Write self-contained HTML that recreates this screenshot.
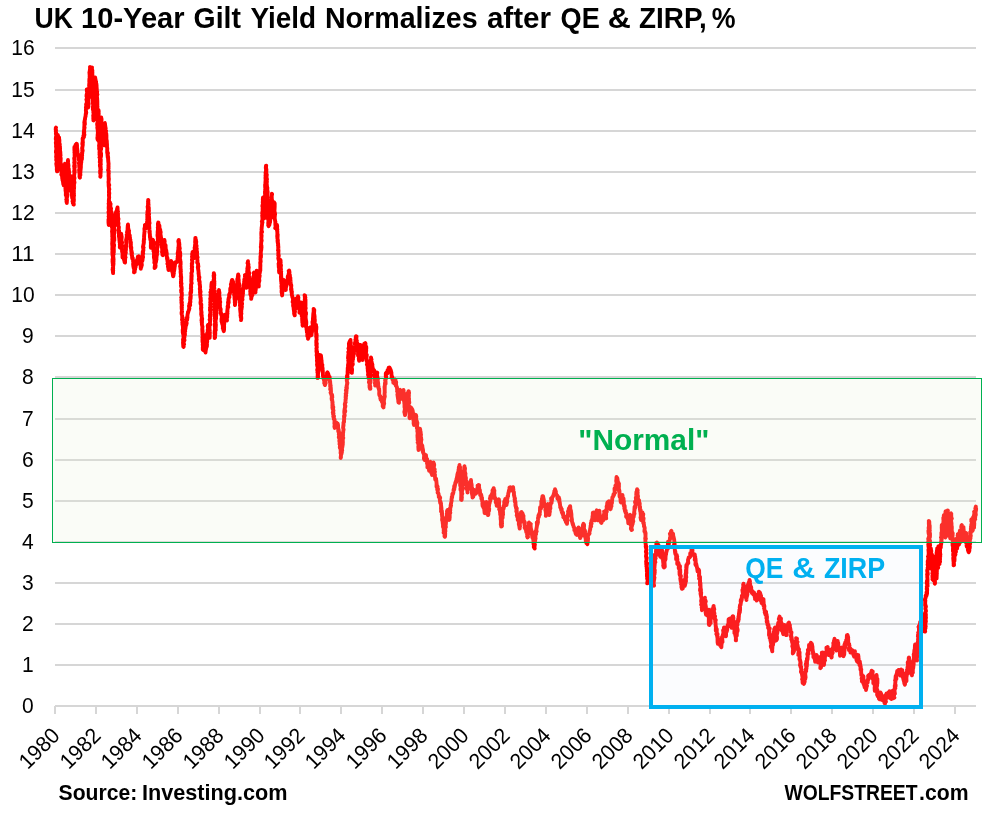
<!DOCTYPE html>
<html lang="en"><head><meta charset="utf-8"><title>UK 10-Year Gilt Yield</title>
<style>html,body{margin:0;padding:0;background:#fff}svg{display:block}</style></head>
<body>
<svg width="984" height="819" viewBox="0 0 984 819">
<rect width="984" height="819" fill="#fff"/>
<g stroke="#D6D6D6" stroke-width="2">
<line x1="55" x2="976" y1="706.00" y2="706.00"/>
<line x1="55" x2="976" y1="665.00" y2="665.00"/>
<line x1="55" x2="976" y1="624.00" y2="624.00"/>
<line x1="55" x2="976" y1="583.00" y2="583.00"/>
<line x1="55" x2="976" y1="542.00" y2="542.00"/>
<line x1="55" x2="976" y1="501.00" y2="501.00"/>
<line x1="55" x2="976" y1="460.00" y2="460.00"/>
<line x1="55" x2="976" y1="419.00" y2="419.00"/>
<line x1="55" x2="976" y1="377.00" y2="377.00"/>
<line x1="55" x2="976" y1="336.00" y2="336.00"/>
<line x1="55" x2="976" y1="295.00" y2="295.00"/>
<line x1="55" x2="976" y1="254.00" y2="254.00"/>
<line x1="55" x2="976" y1="213.00" y2="213.00"/>
<line x1="55" x2="976" y1="172.00" y2="172.00"/>
<line x1="55" x2="976" y1="131.00" y2="131.00"/>
<line x1="55" x2="976" y1="90.00" y2="90.00"/>
<line x1="55" x2="976" y1="48.00" y2="48.00"/>
<line x1="55.00" x2="55.00" y1="706.00" y2="714"/>
<line x1="96.00" x2="96.00" y1="706.00" y2="714"/>
<line x1="137.00" x2="137.00" y1="706.00" y2="714"/>
<line x1="178.00" x2="178.00" y1="706.00" y2="714"/>
<line x1="219.00" x2="219.00" y1="706.00" y2="714"/>
<line x1="260.00" x2="260.00" y1="706.00" y2="714"/>
<line x1="300.00" x2="300.00" y1="706.00" y2="714"/>
<line x1="341.00" x2="341.00" y1="706.00" y2="714"/>
<line x1="382.00" x2="382.00" y1="706.00" y2="714"/>
<line x1="423.00" x2="423.00" y1="706.00" y2="714"/>
<line x1="464.00" x2="464.00" y1="706.00" y2="714"/>
<line x1="505.00" x2="505.00" y1="706.00" y2="714"/>
<line x1="546.00" x2="546.00" y1="706.00" y2="714"/>
<line x1="587.00" x2="587.00" y1="706.00" y2="714"/>
<line x1="628.00" x2="628.00" y1="706.00" y2="714"/>
<line x1="669.00" x2="669.00" y1="706.00" y2="714"/>
<line x1="710.00" x2="710.00" y1="706.00" y2="714"/>
<line x1="750.00" x2="750.00" y1="706.00" y2="714"/>
<line x1="791.00" x2="791.00" y1="706.00" y2="714"/>
<line x1="832.00" x2="832.00" y1="706.00" y2="714"/>
<line x1="873.00" x2="873.00" y1="706.00" y2="714"/>
<line x1="914.00" x2="914.00" y1="706.00" y2="714"/>
<line x1="955.00" x2="955.00" y1="706.00" y2="714"/>
</g>
<path d="M56.0 127.5 L55.8 127.8 L55.7 129.8 L55.9 130.3 L56.0 129.7 L56.0 130.5 L55.8 131.5 L56.3 133.6 L55.9 133.5 L56.4 136.0 L56.0 136.8 L55.8 139.0 L55.9 139.5 L55.8 138.1 L56.3 139.5 L56.2 140.0 L56.0 142.4 L55.8 143.0 L55.9 142.3 L56.1 145.2 L56.2 145.0 L56.0 146.3 L56.3 148.3 L56.2 147.4 L56.4 149.2 L56.0 150.8 L55.9 152.5 L56.4 151.6 L56.2 151.7 L56.3 152.2 L56.3 155.4 L56.1 156.7 L56.3 157.0 L56.2 157.5 L56.5 159.3 L56.4 159.0 L56.2 160.0 L56.4 159.5 L56.7 162.2 L56.3 163.6 L56.6 163.1 L56.5 162.8 L56.3 164.1 L56.8 164.6 L56.5 165.7 L57.0 167.4 L56.8 167.3 L57.2 169.7 L57.2 171.4 L57.0 171.2 L57.0 169.6 L57.3 169.0 L56.8 170.0 L56.9 166.6 L57.1 165.9 L56.9 166.1 L57.1 163.3 L57.2 163.6 L57.3 164.5 L57.3 162.2 L56.9 161.8 L57.4 161.7 L57.5 160.7 L57.2 158.2 L57.4 156.4 L57.0 155.3 L57.1 154.9 L57.0 154.4 L57.1 152.4 L57.3 151.8 L57.7 150.7 L57.2 151.7 L57.3 149.6 L57.2 149.1 L57.8 149.7 L57.5 147.6 L57.2 145.5 L57.4 145.4 L57.3 146.0 L57.9 142.5 L57.3 143.2 L57.3 142.4 L58.0 141.4 L57.8 141.6 L57.6 138.8 L57.9 137.6 L57.9 137.8 L57.5 136.3 L58.1 136.9 L57.8 135.0 L58.4 137.0 L58.8 137.7 L59.0 137.5 L59.1 137.5 L58.8 138.8 L59.1 138.7 L59.4 140.3 L59.3 143.4 L59.8 144.3 L59.4 145.2 L59.4 143.7 L59.4 144.6 L60.0 146.8 L59.8 148.4 L60.1 148.7 L60.0 147.8 L60.0 150.0 L60.2 152.2 L60.1 152.6 L60.3 151.7 L60.4 153.1 L60.2 156.1 L60.6 155.1 L60.1 157.1 L60.1 156.1 L60.6 159.5 L60.7 158.0 L60.6 161.5 L60.6 160.4 L60.3 160.6 L60.7 164.2 L61.0 163.7 L61.0 164.3 L60.6 166.5 L60.7 165.6 L60.9 166.4 L60.9 167.4 L61.2 167.9 L61.0 170.0 L61.1 170.4 L61.6 172.1 L61.7 172.5 L61.6 173.6 L61.3 174.6 L61.6 175.3 L62.2 174.8 L62.1 176.2 L62.3 178.9 L62.4 178.5 L62.5 180.0 L62.9 181.0 L63.0 180.4 L63.0 181.7 L63.3 184.2 L63.7 184.4 L63.8 185.0 L63.8 185.4 L63.9 183.6 L64.0 182.4 L64.0 181.3 L64.3 180.5 L64.3 180.3 L63.9 180.2 L64.5 178.1 L64.0 178.1 L64.2 174.9 L64.1 173.9 L64.5 173.0 L64.7 174.4 L64.6 171.5 L64.3 172.2 L64.9 172.1 L65.0 169.1 L64.7 168.7 L65.0 169.7 L64.7 166.2 L64.7 166.5 L64.8 164.5 L64.6 165.3 L65.0 163.8 L65.0 164.8 L64.9 164.0 L65.1 166.9 L65.4 166.0 L65.5 169.2 L65.0 167.9 L65.4 168.6 L64.9 170.3 L65.5 171.6 L65.1 173.8 L65.6 172.6 L65.5 174.8 L65.0 174.2 L65.3 177.0 L65.7 176.0 L65.6 178.7 L65.7 177.8 L65.7 178.7 L65.4 180.8 L65.8 182.0 L65.3 182.0 L65.4 183.7 L65.4 183.3 L65.4 184.0 L65.5 185.8 L65.5 188.1 L65.5 188.2 L65.4 188.6 L65.8 190.0 L65.5 190.1 L65.9 192.6 L65.9 191.8 L65.8 195.1 L66.1 195.7 L66.4 195.6 L66.3 196.2 L66.7 198.0 L66.6 197.9 L66.6 199.9 L66.4 199.9 L66.3 199.7 L66.8 200.7 L66.8 203.0 L66.5 201.3 L67.0 199.9 L66.9 201.5 L66.7 198.7 L66.9 197.9 L66.9 196.5 L67.3 196.0 L67.0 197.3 L67.3 194.1 L66.9 193.4 L67.0 191.5 L67.1 192.2 L67.1 190.4 L66.9 188.9 L67.1 188.2 L66.8 187.2 L67.0 187.1 L67.2 187.1 L67.4 186.8 L67.5 185.8 L67.2 183.8 L67.1 184.8 L67.4 183.1 L67.6 180.0 L67.5 181.9 L67.6 180.5 L67.5 177.7 L67.7 177.9 L67.7 178.0 L67.8 176.4 L67.7 175.8 L67.3 173.5 L67.5 172.3 L67.9 171.3 L67.8 171.8 L67.8 171.2 L67.4 169.8 L67.9 169.9 L67.8 168.1 L67.5 167.7 L67.6 167.0 L67.7 164.0 L67.7 165.2 L68.2 164.4 L67.8 162.7 L68.1 161.7 L68.1 161.8 L68.0 160.0 L67.8 161.3 L67.9 160.6 L68.0 163.4 L67.9 163.7 L68.1 163.0 L68.5 165.8 L68.3 166.7 L68.4 167.1 L68.3 167.8 L68.4 170.1 L69.0 171.2 L68.7 169.0 L69.1 172.5 L68.7 172.2 L69.2 172.3 L69.0 173.2 L69.0 175.0 L69.1 174.7 L68.9 178.2 L69.2 178.7 L69.4 179.8 L69.6 178.6 L69.0 180.2 L69.4 179.6 L69.3 181.9 L69.4 181.8 L69.8 183.2 L69.8 183.1 L69.4 186.7 L69.9 187.8 L69.7 188.6 L69.8 187.8 L70.0 190.7 L70.0 190.0 L70.0 188.6 L69.8 187.4 L70.4 186.0 L70.6 185.6 L70.2 184.6 L70.2 184.5 L70.8 183.2 L70.8 183.9 L70.9 182.2 L70.7 182.2 L70.4 180.6 L70.8 179.7 L71.0 178.9 L70.6 176.5 L71.0 176.2 L70.8 178.5 L71.0 177.9 L71.3 178.3 L71.0 181.3 L71.1 181.2 L71.2 181.8 L71.1 181.4 L71.7 182.5 L71.2 184.3 L71.8 186.5 L71.3 185.9 L71.3 186.0 L71.3 187.4 L71.5 187.9 L72.0 189.9 L71.7 191.3 L71.8 191.2 L71.7 191.9 L71.7 191.8 L71.7 195.6 L72.0 195.0 L72.2 195.9 L72.1 197.9 L72.2 196.9 L72.5 198.1 L72.9 200.8 L72.5 201.4 L73.1 199.5 L73.1 203.2 L72.9 203.1 L73.7 203.3 L73.5 204.5 L73.8 204.6 L73.4 204.2 L73.3 200.5 L73.7 200.9 L73.8 201.4 L73.9 199.5 L73.7 198.0 L73.9 195.8 L74.0 195.5 L73.6 195.9 L73.6 193.3 L74.0 194.0 L73.6 191.5 L73.9 191.9 L73.7 190.5 L73.6 190.3 L73.9 188.4 L74.1 189.6 L74.0 188.5 L73.9 185.5 L74.2 186.9 L73.8 183.9 L74.3 183.6 L74.0 182.5 L74.5 182.4 L73.9 180.0 L74.2 180.0 L74.2 178.6 L74.1 178.8 L74.5 178.2 L74.1 176.4 L74.2 177.0 L74.1 175.6 L74.5 172.8 L74.7 172.1 L74.2 171.9 L74.3 170.1 L74.7 170.6 L74.3 168.0 L74.8 167.3 L74.1 166.2 L74.4 165.1 L74.7 166.8 L74.8 165.4 L74.4 165.1 L74.8 161.8 L74.2 162.7 L74.5 161.6 L74.4 159.7 L74.2 158.2 L74.5 157.6 L74.3 158.9 L74.4 158.0 L74.9 155.2 L74.6 155.8 L74.6 152.4 L75.0 152.5 L74.6 151.0 L74.4 152.4 L74.9 149.9 L74.4 150.2 L74.4 146.9 L74.8 147.5 L74.9 148.1 L75.7 146.8 L75.6 144.7 L76.2 146.0 L76.5 143.8 L76.8 143.9 L76.5 144.9 L77.0 144.8 L77.0 148.6 L76.7 149.5 L77.1 148.1 L77.5 151.3 L77.1 150.4 L77.4 151.4 L77.5 152.5 L77.7 154.7 L78.5 155.1 L78.8 155.0 L79.0 156.9 L78.7 157.1 L78.8 157.1 L78.6 159.5 L79.1 158.5 L78.7 159.6 L79.1 159.8 L79.4 161.6 L79.5 164.3 L78.9 163.2 L79.2 163.6 L79.2 166.5 L79.2 165.8 L79.4 168.0 L79.6 169.3 L79.1 169.9 L79.3 171.4 L79.4 171.4 L79.3 172.9 L79.4 172.2 L79.9 172.8 L79.5 175.1 L80.0 175.4 L79.5 176.6 L79.8 177.5 L79.9 177.6 L79.7 177.3 L80.2 174.7 L80.4 175.0 L80.1 171.6 L80.1 170.9 L80.4 172.8 L80.4 171.7 L80.5 170.6 L80.8 167.8 L80.5 169.1 L80.9 167.1 L80.8 165.0 L81.0 165.0 L80.9 162.9 L81.3 162.3 L81.2 162.7 L81.4 159.7 L81.4 160.9 L81.5 158.8 L81.9 159.4 L82.0 157.5 L81.8 155.2 L82.1 155.4 L81.8 155.3 L82.3 152.9 L82.0 152.7 L82.5 151.5 L82.3 150.6 L82.2 149.9 L82.7 150.6 L82.1 148.1 L82.2 148.4 L82.7 145.2 L82.7 145.6 L82.8 144.7 L82.3 144.0 L82.6 141.7 L82.9 142.8 L82.7 140.1 L82.7 140.1 L82.6 138.5 L82.8 138.8 L83.4 137.9 L83.4 135.6 L84.0 136.9 L84.0 135.0 L83.8 133.1 L84.4 134.7 L83.8 132.3 L84.1 132.8 L84.3 131.9 L84.0 130.7 L84.1 129.7 L84.6 127.6 L84.2 128.1 L84.4 125.3 L84.4 125.4 L84.4 123.2 L84.9 124.2 L84.7 121.2 L84.3 122.6 L84.4 122.0 L84.8 120.0 L85.0 119.4 L85.0 118.6 L85.3 117.1 L85.6 116.2 L85.6 115.4 L85.9 113.1 L86.0 113.8 L85.9 112.8 L86.3 112.8 L85.9 110.9 L85.9 110.0 L86.1 108.0 L86.2 107.0 L85.9 107.4 L86.0 106.9 L86.5 106.3 L86.1 104.7 L86.3 103.7 L86.2 104.2 L86.8 103.0 L86.8 101.7 L86.9 99.1 L86.9 99.1 L86.4 99.6 L87.0 98.2 L86.6 95.0 L86.5 96.3 L86.7 95.8 L86.6 94.7 L87.2 92.7 L86.8 90.9 L86.8 90.9 L87.0 90.0 L86.8 89.4 L87.4 90.8 L87.5 93.3 L87.5 92.6 L87.4 93.4 L87.3 96.0 L87.5 97.6 L87.8 97.6 L87.9 97.0 L87.6 99.6 L87.6 101.1 L87.8 102.6 L88.0 101.5 L87.7 102.7 L87.7 104.6 L87.9 105.8 L88.5 106.1 L88.3 106.9 L88.2 107.5 L87.9 106.0 L88.1 104.2 L88.3 105.1 L88.7 103.9 L88.3 101.8 L88.2 102.5 L88.5 99.5 L88.5 99.0 L88.7 98.4 L88.5 98.7 L88.7 97.9 L89.1 95.4 L88.6 94.9 L89.0 93.5 L89.1 95.1 L88.8 92.6 L89.1 90.5 L89.0 91.3 L89.1 90.7 L89.3 90.7 L89.5 87.6 L89.2 87.5 L89.3 85.1 L89.1 85.4 L89.5 83.4 L89.4 82.4 L89.2 84.5 L89.5 81.2 L89.6 81.3 L89.3 81.4 L89.4 78.9 L89.8 77.1 L89.8 78.6 L89.9 75.2 L89.6 76.7 L89.7 75.8 L89.5 73.3 L89.4 72.4 L90.0 71.8 L90.1 72.1 L89.7 71.2 L89.9 69.8 L90.0 69.7 L90.1 67.1 L90.0 67.0 L90.8 68.7 L92.0 67.5 L91.7 69.6 L91.9 68.6 L92.4 71.0 L92.0 72.0 L92.0 73.3 L92.4 72.2 L92.3 74.4 L92.5 75.4 L92.5 75.7 L92.5 77.3 L92.4 77.4 L92.2 78.8 L92.4 78.6 L92.7 79.0 L92.1 80.2 L92.7 81.0 L92.2 82.7 L92.2 82.6 L92.5 85.0 L92.6 86.5 L92.7 87.5 L92.6 86.3 L92.8 88.2 L92.9 90.6 L92.9 89.1 L93.0 92.7 L92.5 91.0 L92.4 92.0 L93.0 95.2 L93.0 95.4 L92.7 96.3 L92.6 95.6 L92.7 98.6 L92.8 98.1 L92.7 98.0 L93.1 99.8 L92.8 101.0 L93.0 103.8 L93.1 104.3 L93.0 102.6 L93.3 104.8 L93.2 105.4 L92.9 107.0 L92.9 108.9 L92.9 109.7 L93.0 108.0 L93.6 111.3 L93.2 109.8 L93.5 112.3 L93.3 112.2 L93.6 113.6 L93.7 114.3 L93.2 115.3 L93.4 117.5 L93.5 116.5 L93.7 117.3 L93.7 120.2 L93.5 120.5 L93.4 120.0 L93.5 118.4 L93.3 119.1 L93.3 118.2 L93.5 115.1 L93.7 116.4 L94.0 113.8 L93.7 112.5 L93.9 112.5 L93.9 112.3 L93.7 110.1 L94.1 108.6 L94.1 109.4 L93.9 106.9 L94.0 107.9 L93.9 105.0 L93.8 106.5 L93.9 103.4 L94.3 104.1 L93.8 101.5 L94.0 100.9 L93.9 100.8 L94.0 99.3 L94.4 100.5 L94.6 96.8 L94.2 95.9 L94.5 97.8 L94.3 96.1 L94.4 93.5 L94.2 92.3 L94.1 92.3 L94.6 91.5 L94.5 91.5 L94.5 90.0 L94.5 89.5 L94.7 87.1 L94.8 87.0 L94.7 87.7 L94.9 85.8 L94.6 84.4 L95.1 84.5 L95.1 83.7 L95.1 83.1 L95.0 81.5 L95.2 79.6 L95.1 78.0 L95.3 79.3 L95.2 77.5 L95.2 78.9 L95.5 79.1 L95.6 80.7 L96.1 81.8 L96.0 81.2 L95.9 84.0 L96.5 84.0 L96.2 85.0 L96.4 84.4 L96.6 85.7 L96.5 89.0 L96.6 87.2 L96.8 89.5 L96.8 90.3 L96.8 92.2 L97.2 91.7 L97.1 91.9 L97.0 93.8 L97.2 94.3 L97.4 94.4 L96.7 96.0 L97.0 96.7 L97.0 96.7 L97.2 98.9 L96.9 99.6 L97.3 100.1 L97.2 103.3 L97.4 101.9 L97.0 103.4 L97.4 103.4 L97.3 106.5 L97.2 106.3 L97.5 106.5 L97.3 107.8 L97.5 110.2 L97.1 110.0 L97.0 111.1 L97.2 113.0 L97.1 113.9 L97.2 113.3 L97.1 114.4 L97.5 113.9 L97.2 115.7 L97.4 116.7 L97.5 118.0 L97.3 119.7 L97.7 121.4 L97.7 119.5 L97.7 123.2 L97.7 121.6 L97.1 124.1 L97.8 123.0 L97.3 126.0 L97.3 125.1 L97.7 126.5 L97.3 127.7 L97.8 130.4 L97.9 129.0 L97.8 131.3 L97.9 132.4 L97.9 133.7 L97.8 132.7 L97.8 134.7 L97.9 135.3 L97.5 136.5 L97.5 136.4 L97.4 138.2 L97.5 139.0 L97.8 140.0 L97.8 139.1 L98.0 138.3 L98.1 135.7 L97.9 136.3 L98.1 136.0 L97.8 134.1 L97.6 135.1 L98.0 133.2 L98.0 130.3 L98.3 131.5 L98.3 129.5 L98.0 129.1 L97.7 129.5 L98.2 128.0 L98.3 125.8 L98.1 125.0 L98.3 124.6 L98.1 122.7 L98.2 122.5 L98.1 122.9 L98.2 122.0 L98.1 120.0 L98.6 119.1 L98.5 118.7 L98.2 116.7 L98.4 115.7 L98.6 115.9 L98.5 113.1 L98.4 114.9 L98.3 111.3 L98.2 110.2 L98.6 112.3 L98.5 110.0 L98.7 111.4 L98.6 113.1 L98.7 113.1 L98.7 114.2 L98.4 115.1 L98.6 116.0 L98.4 117.2 L98.3 116.2 L99.0 119.0 L98.6 119.5 L98.9 121.0 L98.6 121.0 L98.7 121.1 L98.7 122.1 L99.1 124.0 L98.9 123.0 L98.6 123.9 L98.9 127.3 L98.9 128.5 L98.8 126.5 L99.3 129.3 L99.0 131.4 L98.7 130.5 L98.8 132.2 L98.7 131.5 L99.2 131.9 L99.4 133.2 L99.4 134.0 L98.8 135.0 L99.0 137.8 L98.9 138.8 L99.4 137.5 L99.5 140.5 L98.9 141.5 L99.4 142.1 L99.6 142.4 L99.6 142.7 L99.0 145.1 L99.4 143.7 L99.1 147.2 L99.5 146.5 L99.6 146.9 L99.1 148.8 L99.5 149.4 L99.6 150.5 L99.7 150.5 L99.5 152.5 L99.6 153.0 L99.5 154.7 L99.8 154.9 L99.9 157.6 L99.5 157.3 L100.1 156.6 L100.0 159.5 L99.9 159.3 L100.1 162.2 L99.8 162.0 L100.2 162.3 L100.1 163.1 L100.3 164.7 L99.9 166.3 L99.9 164.6 L100.2 166.9 L100.4 169.0 L100.4 167.5 L100.5 170.9 L100.1 171.0 L100.5 172.8 L100.6 173.2 L100.1 173.0 L100.6 174.6 L100.6 174.4 L100.5 176.2 L100.3 176.7 L100.6 174.8 L100.3 173.4 L100.7 171.8 L100.5 172.7 L100.8 169.5 L100.4 170.8 L100.9 169.3 L100.6 169.3 L100.7 167.1 L100.4 165.3 L100.8 164.4 L100.7 164.1 L100.7 163.3 L100.4 161.6 L100.6 163.4 L100.8 159.6 L100.5 160.9 L100.6 159.4 L100.4 158.2 L101.1 155.8 L100.7 157.5 L100.6 155.7 L100.7 155.5 L101.0 155.1 L101.1 153.8 L100.5 151.1 L100.6 150.0 L100.5 148.7 L101.1 149.3 L101.2 148.1 L100.6 148.6 L100.8 146.7 L101.2 144.3 L100.9 143.8 L101.2 144.2 L100.9 143.4 L100.7 141.7 L101.3 142.5 L100.6 139.2 L100.9 138.4 L101.3 139.6 L100.7 138.5 L101.2 137.4 L101.4 136.0 L100.8 133.3 L101.3 134.6 L100.9 133.4 L101.2 132.3 L101.0 129.8 L100.8 129.4 L100.9 129.2 L100.9 127.5 L100.8 128.0 L100.9 127.2 L101.4 124.1 L101.5 123.8 L101.4 125.0 L101.1 121.8 L101.5 120.7 L101.3 122.2 L101.1 120.1 L101.2 120.3 L101.0 118.8 L101.2 117.5 L101.0 117.5 L101.4 120.0 L101.6 119.1 L101.3 120.4 L101.3 120.9 L101.4 124.0 L101.5 122.7 L101.9 124.1 L101.9 124.4 L101.9 125.1 L101.5 127.9 L101.6 128.2 L101.6 128.4 L102.2 129.7 L102.1 132.6 L101.7 130.6 L101.6 134.1 L101.8 134.4 L101.7 136.1 L101.9 136.5 L101.7 135.2 L102.1 138.4 L102.1 137.2 L102.0 140.4 L102.2 140.0 L102.0 139.3 L102.5 137.2 L102.2 138.0 L102.1 135.1 L102.5 135.9 L102.3 134.0 L102.7 134.2 L102.7 133.9 L102.3 131.1 L102.6 131.9 L102.4 131.0 L102.7 130.4 L103.1 129.6 L102.5 127.6 L102.9 128.1 L102.8 127.1 L103.0 125.0 L103.3 124.9 L102.9 126.4 L103.2 127.3 L103.2 127.1 L103.2 129.4 L103.4 129.2 L103.6 132.4 L103.5 131.7 L103.6 132.8 L103.7 132.7 L103.5 136.5 L103.6 136.0 L103.3 136.9 L103.4 139.2 L103.4 137.6 L103.9 138.7 L103.5 139.0 L103.6 142.0 L103.9 140.7 L103.9 143.4 L103.7 144.7 L104.0 145.0 L104.2 145.3 L103.8 141.8 L104.1 142.3 L103.9 140.8 L104.0 140.3 L104.5 140.0 L104.3 137.7 L104.1 138.7 L104.7 138.1 L104.4 135.8 L104.5 136.3 L104.8 134.0 L104.4 134.4 L104.5 131.8 L105.0 131.5 L105.0 131.8 L105.0 131.0 L104.8 127.6 L105.1 129.6 L104.8 126.5 L104.8 126.8 L104.6 125.6 L105.0 124.4 L105.0 123.8 L104.8 123.1 L105.4 127.0 L105.4 127.7 L105.7 128.2 L105.2 129.3 L105.4 129.4 L105.5 130.4 L106.1 130.8 L105.7 131.9 L105.9 132.5 L105.9 134.7 L106.3 133.5 L106.2 135.0 L106.4 134.7 L106.4 138.2 L106.4 136.9 L106.2 138.6 L106.3 138.2 L106.5 139.6 L106.5 140.5 L106.8 140.7 L106.9 144.0 L106.9 144.0 L107.0 143.7 L107.0 145.5 L107.0 146.8 L106.9 146.7 L107.1 147.3 L107.3 148.7 L107.2 150.0 L107.2 149.3 L107.2 153.0 L107.5 152.9 L108.0 152.9 L107.9 153.9 L107.5 154.4 L107.8 157.6 L107.9 155.9 L108.2 158.0 L108.0 157.8 L108.2 160.0 L108.4 162.4 L108.2 160.7 L108.4 162.3 L108.6 164.0 L108.4 165.6 L108.6 166.2 L108.4 167.2 L108.6 168.2 L108.2 169.5 L108.1 170.3 L108.6 170.9 L108.8 170.9 L108.5 172.0 L108.8 173.6 L108.5 174.0 L108.6 174.4 L108.5 176.2 L108.7 176.0 L108.6 176.9 L108.9 179.1 L108.7 179.1 L108.6 179.0 L108.8 179.8 L108.5 182.1 L108.7 184.1 L109.1 184.7 L108.7 186.0 L109.2 185.2 L108.6 184.8 L108.9 187.5 L109.1 189.5 L109.3 189.2 L109.0 190.0 L109.0 191.0 L108.9 192.4 L109.0 192.2 L109.3 193.1 L109.0 195.1 L108.9 194.1 L109.0 196.0 L109.2 197.4 L108.9 199.6 L109.0 198.8 L108.8 201.5 L109.1 200.9 L108.8 200.6 L109.1 204.1 L108.6 203.5 L109.0 205.6 L109.2 206.3 L108.8 207.4 L108.7 206.0 L108.9 208.0 L108.6 207.8 L108.9 210.2 L109.2 210.2 L108.5 212.0 L109.0 212.2 L109.0 212.7 L108.7 212.6 L108.9 216.2 L108.6 216.6 L108.8 216.9 L108.9 217.1 L109.1 218.8 L108.7 219.9 L108.5 219.3 L108.5 222.2 L108.5 221.0 L109.0 223.3 L109.0 224.5 L108.8 225.0 L108.5 222.7 L108.7 224.1 L108.8 223.0 L108.8 220.3 L109.3 219.2 L108.9 219.9 L109.0 218.5 L109.4 216.4 L109.5 217.2 L109.3 215.8 L109.0 214.3 L109.6 215.6 L109.7 212.7 L109.3 213.4 L109.8 211.8 L109.9 210.6 L109.5 208.9 L109.5 209.5 L110.0 207.3 L110.0 207.0 L109.6 205.3 L109.6 204.7 L109.8 205.8 L109.7 203.6 L110.0 202.5 L110.0 203.5 L109.9 204.0 L110.6 203.9 L110.3 205.6 L110.4 205.9 L110.4 207.0 L110.7 209.2 L111.1 208.5 L110.9 209.1 L110.9 212.4 L111.5 212.0 L111.2 214.1 L111.7 213.5 L112.0 214.5 L112.1 214.8 L111.7 216.6 L112.0 217.5 L111.8 218.3 L111.9 220.0 L112.1 221.5 L111.9 220.7 L111.9 222.4 L111.8 224.1 L112.1 223.9 L112.3 224.0 L112.3 225.2 L112.0 226.7 L111.9 227.1 L112.4 227.3 L112.3 228.6 L112.3 228.9 L112.2 230.6 L112.0 231.3 L112.1 232.2 L112.4 232.5 L112.2 233.9 L112.5 236.8 L112.6 237.7 L112.2 236.2 L112.5 236.7 L112.3 239.7 L112.5 239.8 L112.3 241.6 L112.3 243.0 L112.2 243.2 L112.8 242.4 L112.6 245.3 L112.2 244.0 L112.3 245.3 L112.5 246.6 L112.4 246.7 L112.3 249.5 L112.6 251.0 L112.4 251.6 L112.8 251.6 L112.3 252.2 L112.8 254.6 L112.4 253.8 L112.8 256.5 L112.5 254.8 L112.9 255.9 L113.0 257.1 L112.5 259.8 L112.7 260.5 L113.0 261.6 L112.5 261.0 L112.8 264.0 L113.0 264.9 L113.1 265.1 L112.8 265.7 L113.0 264.8 L112.9 266.9 L112.7 269.4 L112.6 269.7 L113.2 270.4 L113.0 269.9 L113.1 273.1 L113.0 272.5 L112.9 271.7 L113.0 269.3 L112.9 269.5 L112.8 268.3 L113.2 268.6 L113.0 266.2 L113.1 266.2 L113.1 266.7 L113.5 263.7 L113.3 262.3 L113.5 262.0 L113.5 261.8 L113.5 259.7 L113.3 260.1 L113.6 259.8 L113.3 256.8 L113.2 256.7 L113.3 254.8 L113.6 254.3 L113.2 254.2 L113.5 252.9 L113.3 252.1 L113.3 250.3 L113.8 252.4 L113.8 248.5 L113.7 250.5 L113.7 246.8 L113.5 246.9 L113.4 246.4 L113.9 246.7 L114.1 244.8 L113.7 244.0 L113.6 241.8 L114.1 240.2 L113.8 241.9 L114.0 238.9 L114.3 240.1 L114.2 237.0 L114.2 238.3 L113.8 235.7 L113.9 236.4 L114.1 234.1 L114.3 233.2 L113.8 231.8 L114.3 232.0 L114.3 231.9 L114.5 231.3 L114.2 229.0 L114.1 227.1 L114.0 227.5 L114.1 226.9 L114.7 225.2 L114.0 223.2 L114.2 223.4 L114.1 223.4 L114.7 222.9 L114.4 221.8 L114.5 220.0 L114.8 218.5 L114.8 218.4 L115.0 217.0 L115.5 217.2 L115.2 217.1 L115.6 214.3 L115.8 214.4 L115.8 212.4 L116.2 212.5 L116.4 211.1 L117.0 212.3 L117.2 211.2 L117.2 210.6 L117.0 209.3 L117.5 207.5 L117.6 209.0 L117.6 208.7 L117.6 211.6 L117.6 211.6 L118.0 211.5 L117.6 211.4 L117.8 214.4 L118.0 213.4 L118.0 215.2 L118.0 216.2 L118.0 217.6 L117.9 217.1 L118.2 220.4 L118.5 218.9 L118.0 220.2 L118.1 222.0 L118.4 222.8 L118.5 222.8 L118.5 223.4 L118.2 225.8 L118.3 226.1 L118.9 227.1 L118.8 228.4 L118.4 229.9 L118.8 230.0 L119.0 232.5 L119.1 230.6 L118.7 232.4 L119.1 235.2 L118.8 235.5 L118.8 236.4 L119.1 235.6 L119.3 235.8 L119.2 237.4 L119.4 239.9 L119.6 241.4 L119.6 242.2 L119.9 243.3 L119.8 241.8 L119.9 243.3 L120.0 245.3 L119.8 244.5 L120.2 247.3 L120.0 247.5 L119.8 247.3 L119.9 246.0 L120.5 244.9 L120.6 242.6 L120.2 243.5 L120.5 241.0 L120.6 242.2 L120.3 238.9 L121.0 238.0 L120.9 237.3 L121.0 236.7 L120.8 236.1 L121.1 236.8 L121.4 235.3 L121.2 233.8 L121.0 236.1 L121.1 235.0 L121.7 236.4 L121.1 238.3 L121.7 237.2 L121.5 239.6 L121.4 239.9 L121.6 241.9 L121.8 242.9 L121.7 241.2 L122.1 242.6 L121.6 244.7 L121.8 244.2 L122.0 246.0 L121.9 246.7 L122.1 246.3 L121.8 248.3 L122.5 249.6 L122.0 249.1 L122.1 252.0 L122.3 251.6 L122.4 252.5 L122.8 254.2 L122.5 255.0 L122.5 257.4 L123.2 256.9 L123.5 258.7 L123.7 258.8 L123.7 258.7 L124.4 260.9 L124.6 262.2 L124.9 261.0 L125.0 262.5 L125.1 262.4 L125.0 261.1 L125.1 259.9 L125.1 257.5 L125.6 257.4 L125.2 257.0 L125.2 255.3 L125.2 254.7 L125.8 252.7 L125.5 253.3 L125.5 252.7 L125.4 250.5 L125.6 250.0 L125.8 250.5 L125.7 250.3 L126.0 249.3 L125.7 245.7 L126.4 246.4 L126.3 244.8 L126.4 244.1 L126.2 242.0 L126.2 242.5 L126.2 242.9 L126.1 240.0 L126.4 238.8 L126.4 239.7 L126.5 237.8 L127.0 237.6 L126.7 236.8 L127.3 236.2 L126.7 234.9 L127.4 234.7 L127.0 232.4 L127.3 231.0 L127.5 232.3 L127.3 231.6 L127.7 228.8 L127.6 229.0 L127.6 228.2 L127.8 225.3 L128.0 224.4 L128.0 225.0 L128.1 225.4 L128.1 227.1 L128.1 227.6 L128.6 229.9 L128.4 231.0 L129.0 230.7 L128.7 230.7 L128.9 231.0 L129.0 233.9 L129.4 234.9 L129.6 234.9 L129.8 235.9 L129.7 236.9 L130.0 237.5 L129.9 239.1 L130.4 239.9 L130.2 241.0 L130.7 241.9 L130.3 241.7 L130.9 242.8 L130.4 242.4 L130.9 244.4 L130.8 246.3 L130.8 247.8 L130.8 247.9 L130.9 246.5 L131.3 247.5 L131.2 249.9 L131.4 252.0 L131.4 250.4 L132.0 253.1 L131.5 252.2 L131.7 255.0 L132.0 255.0 L132.1 257.4 L132.1 257.2 L132.3 258.6 L132.8 258.0 L132.8 258.2 L132.8 259.0 L133.1 260.9 L133.0 260.7 L133.4 262.8 L133.3 265.4 L133.1 264.0 L133.4 265.0 L133.3 265.8 L133.8 268.4 L134.1 267.8 L133.9 268.4 L134.3 269.1 L134.0 272.3 L134.2 272.0 L134.7 271.9 L134.5 269.6 L135.1 269.4 L135.1 267.5 L135.1 268.0 L135.6 267.1 L135.8 265.0 L135.9 264.6 L135.7 265.4 L136.4 264.5 L136.2 262.5 L136.3 261.0 L137.3 259.5 L137.6 258.3 L137.8 257.8 L137.8 256.7 L138.1 257.7 L138.8 256.2 L139.2 256.6 L139.3 258.7 L138.9 260.5 L139.5 259.0 L139.1 261.3 L139.4 261.6 L139.5 262.3 L140.2 261.9 L140.3 263.7 L140.2 264.0 L140.3 264.9 L140.6 265.9 L140.8 266.7 L140.8 268.8 L140.7 267.9 L141.1 266.5 L141.2 267.5 L141.8 264.3 L141.8 265.6 L141.6 262.8 L141.7 261.9 L142.2 260.3 L142.4 260.6 L142.5 260.0 L142.2 258.7 L142.7 258.8 L142.7 257.4 L143.1 257.0 L142.9 256.7 L142.7 254.2 L143.2 253.4 L142.9 252.4 L142.8 251.5 L142.7 252.5 L143.4 250.3 L143.3 248.3 L143.1 247.8 L143.0 246.3 L143.6 247.5 L143.1 246.8 L143.3 245.2 L143.6 244.1 L143.9 242.1 L143.8 240.2 L143.7 242.0 L143.8 240.0 L144.2 239.4 L144.0 237.4 L143.9 238.1 L144.0 237.1 L144.2 235.7 L144.1 235.3 L144.3 234.2 L144.4 232.1 L144.7 231.3 L144.6 231.1 L144.5 230.4 L144.4 228.5 L144.7 229.9 L144.8 227.7 L144.7 227.8 L145.2 224.8 L145.0 225.0 L145.6 225.5 L146.3 227.3 L146.2 228.1 L147.0 227.5 L147.3 226.2 L146.8 226.7 L146.9 223.7 L147.1 222.7 L147.2 224.0 L147.0 222.0 L147.6 221.0 L147.3 221.0 L147.6 219.4 L147.2 219.5 L147.4 218.3 L147.3 216.9 L147.4 215.6 L147.2 214.7 L147.7 213.2 L147.4 211.9 L147.5 213.1 L147.5 211.0 L147.5 211.7 L148.1 210.2 L147.8 207.9 L148.0 208.9 L147.6 206.7 L147.9 206.0 L147.9 206.0 L148.2 204.1 L148.0 204.5 L148.2 202.3 L148.0 203.1 L148.4 202.4 L148.2 200.0 L148.4 200.5 L148.0 201.3 L148.3 203.5 L148.4 203.7 L148.6 205.8 L148.5 203.9 L148.5 206.2 L148.5 208.4 L148.9 208.1 L148.6 208.9 L148.9 210.0 L148.9 211.5 L148.4 211.5 L148.8 213.3 L149.0 214.5 L148.7 213.3 L149.1 214.1 L148.6 215.1 L149.0 218.1 L149.1 216.8 L149.0 219.8 L149.2 218.6 L149.2 220.6 L149.4 223.4 L148.9 223.9 L149.2 223.1 L149.6 223.0 L149.1 224.7 L149.2 225.8 L149.4 228.4 L149.4 228.2 L149.3 227.7 L149.5 230.0 L149.8 232.0 L149.5 232.9 L149.4 231.7 L149.8 233.6 L149.9 234.3 L149.9 235.5 L149.9 237.1 L150.2 238.3 L150.2 236.4 L150.3 238.9 L150.3 239.8 L150.8 239.8 L150.8 240.7 L150.8 243.2 L151.1 243.0 L151.2 243.8 L150.9 243.5 L150.8 246.2 L150.9 247.8 L151.2 247.5 L151.2 247.0 L151.7 247.2 L151.8 246.0 L152.2 244.7 L152.0 242.7 L152.2 243.6 L152.4 243.0 L152.5 239.6 L153.0 240.0 L153.4 241.8 L153.2 241.5 L153.5 241.9 L153.0 244.1 L153.5 243.0 L153.6 243.9 L153.3 245.5 L153.4 247.4 L153.3 248.2 L153.5 250.2 L153.5 250.9 L154.1 251.6 L153.5 251.2 L154.0 252.0 L154.0 252.4 L154.0 252.9 L154.0 255.8 L153.9 256.5 L154.0 257.9 L154.6 259.1 L154.4 260.0 L154.3 258.8 L154.5 261.2 L154.3 262.7 L154.9 262.1 L154.7 263.4 L154.5 262.6 L155.1 264.1 L154.7 266.8 L154.6 268.0 L155.0 267.5 L155.5 266.9 L155.6 265.2 L155.1 265.3 L155.5 263.4 L155.9 262.2 L156.1 261.1 L155.7 260.6 L155.9 260.5 L156.5 259.6 L156.4 258.9 L156.6 256.2 L156.8 255.5 L156.9 254.7 L157.0 255.0 L156.9 253.6 L156.8 253.7 L157.4 251.2 L157.4 250.9 L157.2 251.7 L156.9 248.5 L157.0 249.9 L157.3 247.8 L157.3 245.7 L157.4 244.9 L157.3 245.1 L157.3 243.2 L157.2 242.3 L157.7 241.5 L157.8 241.5 L157.9 239.0 L157.8 239.6 L157.8 239.0 L157.8 237.0 L157.5 235.8 L157.7 234.5 L157.6 235.2 L157.5 235.5 L157.6 233.6 L158.1 232.7 L157.6 232.2 L158.0 229.8 L157.7 231.3 L158.1 229.2 L157.9 228.9 L158.0 228.0 L157.8 227.5 L158.1 226.6 L157.9 224.0 L158.4 222.6 L158.2 222.5 L158.2 224.0 L158.4 223.8 L158.7 224.3 L159.4 225.6 L159.5 228.6 L159.5 227.9 L160.0 229.8 L160.0 230.6 L160.2 229.7 L160.5 232.7 L160.5 232.5 L160.7 232.1 L160.4 233.8 L160.9 236.7 L160.6 236.9 L161.2 238.1 L161.2 239.2 L161.3 239.9 L161.1 240.0 L161.4 241.6 L161.2 242.7 L161.4 243.9 L161.2 244.7 L161.7 245.7 L161.9 244.3 L161.5 245.1 L161.6 246.8 L162.1 247.8 L162.1 249.3 L162.2 249.3 L162.2 251.4 L162.4 252.8 L162.0 252.0 L162.6 253.7 L162.5 253.6 L162.5 255.0 L162.8 255.2 L162.7 251.6 L162.5 250.8 L162.9 252.5 L163.0 250.9 L162.9 249.2 L163.5 248.4 L163.2 248.3 L163.3 245.7 L163.5 246.8 L163.8 245.8 L163.9 243.2 L164.1 242.1 L163.8 241.6 L163.9 243.2 L164.4 240.0 L164.2 240.0 L164.7 241.2 L164.5 241.4 L164.7 244.1 L164.6 245.1 L164.7 245.5 L164.8 245.4 L165.6 245.2 L165.6 247.0 L165.4 247.2 L165.7 247.7 L165.8 251.0 L166.3 250.3 L166.2 252.9 L166.2 252.5 L166.5 252.0 L166.8 254.1 L166.7 254.7 L166.7 256.4 L167.0 256.9 L167.0 259.1 L167.5 258.2 L167.5 258.1 L167.4 261.0 L167.7 261.1 L167.8 263.4 L167.4 263.8 L167.6 263.3 L168.3 266.2 L168.2 264.5 L167.9 266.7 L168.5 267.0 L168.3 268.7 L168.5 270.0 L168.8 270.0 L168.9 269.3 L169.4 269.8 L169.6 268.4 L170.1 266.1 L170.1 266.3 L170.0 264.0 L170.7 264.1 L170.6 263.9 L171.0 261.0 L171.2 261.2 L171.1 263.3 L171.3 263.8 L171.3 263.3 L171.6 264.1 L172.2 267.2 L171.8 265.5 L171.9 268.8 L172.1 267.7 L172.1 267.9 L172.3 269.7 L172.4 272.4 L172.9 270.9 L173.0 272.6 L173.1 274.0 L172.8 273.9 L173.1 276.2 L173.2 276.2 L173.5 275.5 L173.3 275.2 L173.9 273.1 L173.6 272.7 L173.7 272.1 L173.6 271.6 L174.1 270.9 L174.5 268.4 L174.1 267.2 L174.5 265.7 L174.7 267.0 L174.9 265.0 L174.6 263.1 L175.2 263.9 L175.0 262.5 L175.8 262.3 L176.2 262.1 L177.0 262.0 L177.5 260.0 L177.5 258.6 L177.5 259.2 L177.9 256.3 L177.7 256.5 L178.1 256.0 L177.7 253.4 L177.8 252.2 L178.2 252.7 L178.1 252.4 L178.1 250.6 L178.4 249.3 L178.4 250.0 L178.4 247.1 L178.3 248.1 L178.6 247.6 L178.6 246.2 L178.7 245.0 L178.7 242.5 L178.7 243.4 L178.3 241.1 L178.9 241.2 L178.8 240.0 L178.6 240.2 L178.6 240.9 L179.3 243.2 L178.9 244.5 L178.8 245.0 L179.1 246.4 L179.4 244.6 L179.2 245.9 L179.4 246.5 L179.7 249.0 L179.8 248.2 L179.4 249.3 L179.6 251.9 L179.8 251.8 L180.1 252.3 L180.2 253.2 L180.0 255.0 L180.1 256.9 L180.3 255.3 L180.1 256.2 L179.8 258.4 L180.3 260.0 L180.2 260.7 L180.3 261.4 L180.6 261.4 L180.6 264.8 L180.3 265.6 L180.1 266.6 L180.2 265.8 L180.6 266.7 L180.5 268.4 L180.4 268.1 L180.5 269.2 L180.8 269.5 L180.6 271.4 L180.9 271.3 L180.6 272.2 L180.9 274.3 L181.0 276.5 L181.2 277.3 L181.1 277.5 L180.7 276.3 L181.2 277.1 L181.1 280.3 L181.0 279.7 L181.2 280.3 L181.0 283.8 L180.9 281.7 L181.5 283.6 L181.2 285.0 L181.2 286.9 L181.0 285.5 L181.5 286.6 L181.7 288.5 L181.6 290.9 L181.6 290.4 L181.1 290.2 L181.4 292.5 L181.3 292.3 L181.8 292.6 L181.8 295.7 L181.5 297.4 L181.5 297.6 L181.8 298.7 L181.2 297.5 L181.7 298.6 L181.3 300.1 L181.9 302.4 L181.4 302.2 L181.7 304.4 L181.6 302.7 L182.0 305.4 L181.9 305.9 L181.6 305.9 L181.7 309.0 L181.9 307.4 L181.7 308.3 L181.9 310.3 L182.1 311.8 L181.6 312.1 L181.6 313.9 L181.9 314.0 L182.0 315.0 L182.2 316.4 L182.2 315.9 L182.2 318.3 L182.5 317.4 L182.0 319.7 L182.7 319.5 L182.3 320.3 L182.7 323.0 L182.7 323.4 L182.3 322.3 L182.9 326.2 L182.4 324.1 L183.1 325.6 L182.9 326.5 L183.0 329.6 L182.8 330.5 L183.0 330.0 L182.7 329.8 L182.8 332.6 L183.2 334.2 L183.3 332.6 L183.1 333.4 L183.4 334.1 L183.5 337.5 L183.5 335.6 L183.5 338.2 L183.3 339.0 L183.5 340.1 L183.0 339.4 L183.2 341.8 L183.0 342.2 L183.1 344.2 L183.6 345.4 L183.2 345.1 L183.3 346.6 L183.5 347.0 L183.3 345.9 L183.7 346.7 L183.5 343.8 L184.1 344.2 L183.6 343.6 L183.8 341.2 L183.8 341.6 L184.5 340.2 L183.9 339.8 L184.0 336.7 L184.4 337.8 L184.4 336.3 L184.6 335.1 L184.9 334.9 L184.9 334.3 L185.0 334.0 L184.5 332.5 L185.2 331.5 L185.0 330.0 L185.4 328.9 L185.6 327.2 L185.6 327.2 L185.4 325.7 L185.6 325.1 L185.8 323.4 L186.1 325.4 L186.4 324.3 L186.7 323.1 L186.3 322.0 L186.6 319.5 L186.6 317.9 L187.2 319.8 L187.2 317.1 L187.5 317.6 L187.4 316.8 L187.5 315.0 L187.9 312.9 L188.0 312.7 L188.1 312.0 L188.0 313.0 L188.6 310.8 L189.0 309.9 L189.1 308.6 L189.4 308.7 L189.0 305.9 L189.7 305.7 L189.4 303.9 L190.2 305.3 L190.0 303.8 L190.0 301.8 L190.3 302.5 L190.4 301.8 L190.1 299.3 L190.5 297.7 L190.2 297.4 L190.6 298.9 L190.7 296.8 L190.8 295.9 L190.4 294.1 L190.4 292.4 L190.6 292.5 L190.9 290.8 L191.1 292.6 L191.2 289.5 L190.8 288.3 L191.1 287.8 L191.2 287.5 L191.2 287.2 L191.0 286.4 L191.2 286.2 L191.0 285.0 L191.2 284.1 L191.7 283.3 L191.3 281.8 L191.3 278.8 L191.3 280.7 L191.6 279.0 L191.4 278.1 L191.4 275.6 L191.6 277.4 L191.7 275.4 L191.4 273.2 L192.0 271.6 L192.1 271.1 L192.0 270.9 L192.1 269.3 L191.8 268.8 L191.7 268.7 L192.2 267.0 L191.9 266.2 L191.8 266.8 L191.9 264.1 L192.0 263.8 L192.1 263.7 L191.8 263.6 L192.4 262.0 L191.9 259.7 L192.0 259.5 L192.4 258.7 L192.0 256.6 L192.1 256.9 L192.3 255.2 L192.1 254.0 L192.4 253.9 L192.5 254.8 L192.5 252.5 L192.6 252.0 L193.2 254.9 L193.8 256.2 L193.6 257.0 L194.2 258.1 L194.5 257.5 L194.3 255.8 L194.4 256.9 L194.5 253.5 L194.7 255.3 L194.4 253.8 L194.6 252.0 L194.9 250.4 L194.6 250.0 L194.9 251.1 L194.6 247.6 L195.0 248.2 L195.0 245.3 L195.1 246.7 L195.1 244.2 L195.3 244.5 L195.4 242.2 L195.4 243.9 L195.2 242.7 L195.1 241.9 L195.5 238.9 L195.2 240.2 L195.5 238.0 L195.3 238.0 L195.4 239.6 L195.9 239.7 L196.1 241.8 L196.0 242.2 L196.3 241.8 L196.0 243.4 L196.4 245.2 L196.6 246.0 L196.1 247.3 L196.2 248.9 L196.4 250.3 L196.8 248.8 L196.5 250.0 L196.8 250.9 L196.7 250.8 L197.1 252.1 L197.0 252.5 L197.0 255.0 L197.0 255.1 L197.3 257.0 L197.1 256.6 L197.6 257.4 L197.1 258.4 L197.5 260.5 L197.2 262.6 L197.4 261.4 L197.7 263.5 L198.1 263.8 L198.1 265.5 L197.8 267.4 L198.0 268.2 L198.4 266.3 L197.9 267.4 L198.1 268.9 L198.6 271.9 L198.5 271.1 L198.7 273.4 L198.6 273.7 L198.5 272.9 L198.8 275.0 L198.9 276.4 L199.2 277.7 L198.8 279.2 L199.4 277.2 L199.0 279.7 L199.1 281.0 L199.3 280.4 L199.6 282.2 L199.7 281.7 L199.6 284.3 L199.9 285.4 L199.8 284.1 L200.1 287.2 L200.0 287.5 L199.8 288.9 L200.3 290.8 L200.1 289.3 L200.0 292.6 L200.6 291.7 L200.1 294.2 L200.3 294.6 L200.6 295.2 L200.3 294.4 L200.3 295.6 L200.3 295.9 L200.5 298.0 L200.7 297.8 L200.8 301.5 L200.9 300.5 L200.6 301.7 L200.5 302.7 L200.7 304.3 L201.3 304.2 L201.2 306.4 L201.1 306.9 L201.4 308.0 L201.3 307.2 L201.0 308.5 L201.2 310.0 L201.4 311.9 L201.6 312.9 L201.2 313.0 L201.5 312.1 L201.4 315.3 L201.2 314.1 L201.8 315.3 L201.5 315.7 L201.9 317.4 L201.5 320.6 L202.2 318.8 L201.7 322.4 L202.0 321.3 L202.0 322.2 L201.9 323.6 L201.9 323.1 L201.9 324.4 L202.4 326.8 L202.5 326.5 L202.3 328.9 L202.2 329.1 L202.5 330.0 L202.6 332.3 L202.3 330.4 L202.5 333.3 L202.4 334.3 L202.8 335.5 L202.7 334.2 L202.8 335.4 L202.9 338.2 L202.4 337.3 L202.8 339.6 L202.5 338.8 L202.5 341.2 L202.6 342.2 L202.8 342.0 L203.0 343.7 L203.0 343.0 L202.7 344.6 L203.0 346.8 L203.2 347.6 L202.8 347.2 L202.8 349.6 L203.0 350.0 L202.9 348.0 L203.4 349.1 L203.6 348.0 L203.2 347.4 L203.6 345.0 L203.6 343.3 L203.3 342.5 L203.5 343.0 L204.1 343.4 L203.7 341.1 L204.0 339.1 L204.0 339.5 L204.2 339.2 L204.0 338.5 L204.2 335.4 L204.2 335.8 L204.5 335.0 L204.4 336.5 L204.6 336.3 L204.8 338.4 L204.7 338.3 L205.1 341.0 L204.5 340.9 L205.0 341.3 L204.6 341.7 L205.3 344.8 L205.0 343.0 L204.9 345.5 L205.3 344.7 L205.1 347.8 L205.2 346.6 L205.6 347.5 L205.2 348.3 L205.1 351.5 L205.1 350.3 L205.5 352.5 L205.7 350.5 L205.5 351.7 L206.1 348.7 L205.9 348.6 L206.0 346.7 L206.1 348.6 L206.6 345.4 L206.9 346.5 L207.0 344.2 L206.7 343.7 L207.0 342.5 L207.2 341.5 L206.8 341.4 L207.5 338.8 L207.4 337.6 L207.1 337.4 L207.3 336.2 L207.1 337.6 L207.3 336.3 L207.6 333.2 L207.3 332.8 L207.8 332.1 L207.7 332.6 L207.9 329.0 L208.0 329.9 L207.7 330.1 L208.1 328.9 L207.8 326.1 L207.8 325.5 L208.0 325.0 L207.8 325.5 L208.5 325.9 L208.4 327.4 L208.6 329.8 L208.8 328.6 L209.0 331.3 L208.9 332.0 L208.7 333.1 L208.9 333.5 L208.8 335.0 L209.1 334.9 L209.2 336.7 L209.6 337.7 L209.5 337.5 L209.3 337.8 L209.7 337.1 L209.7 335.4 L209.8 332.4 L209.6 333.1 L209.8 331.6 L209.9 332.1 L209.6 329.4 L209.4 328.6 L209.4 327.9 L209.5 328.5 L209.5 325.3 L209.6 326.5 L209.7 324.7 L210.1 324.9 L209.9 322.4 L209.8 323.4 L210.0 322.5 L210.2 319.7 L209.6 319.6 L210.2 318.8 L210.0 317.7 L210.3 316.4 L209.8 316.3 L209.9 314.5 L210.2 315.5 L210.4 311.9 L210.2 310.7 L210.3 311.1 L209.9 310.1 L210.4 309.5 L210.1 309.5 L210.4 306.8 L210.0 307.7 L210.6 307.1 L210.2 304.7 L210.6 304.7 L210.2 302.2 L210.5 301.7 L210.4 300.3 L210.5 300.4 L210.7 298.4 L210.5 300.2 L210.2 298.7 L210.5 298.1 L210.7 296.7 L210.5 295.0 L210.9 293.7 L210.4 292.3 L211.1 292.3 L211.2 292.7 L211.3 290.6 L210.9 289.8 L211.5 289.2 L211.4 287.6 L211.3 286.2 L211.6 285.8 L211.4 285.1 L211.7 282.7 L212.1 284.1 L212.0 282.5 L211.9 282.6 L211.9 284.4 L212.4 285.6 L212.3 285.2 L212.4 287.8 L212.5 288.7 L212.6 288.2 L212.1 291.2 L212.4 292.2 L212.2 290.4 L212.7 293.6 L212.6 292.4 L213.0 294.9 L212.9 294.9 L212.6 295.5 L212.8 296.2 L212.8 298.5 L212.8 298.0 L213.0 300.0 L212.8 297.8 L213.1 297.6 L213.1 296.3 L213.5 296.2 L213.5 295.4 L213.0 294.5 L213.0 294.0 L213.0 291.7 L213.6 292.5 L213.2 290.6 L213.3 289.8 L213.3 289.7 L213.7 287.1 L213.1 287.6 L213.7 287.5 L213.6 285.1 L213.5 286.0 L213.5 283.5 L213.8 283.0 L214.0 282.6 L213.6 279.9 L214.0 281.2 L213.9 279.5 L214.1 277.8 L213.8 277.5 L213.6 275.4 L214.1 276.8 L213.8 273.1 L214.0 273.8 L214.0 274.6 L214.3 275.1 L214.1 276.0 L214.2 278.7 L214.0 278.2 L214.2 278.8 L213.9 281.0 L214.0 280.5 L214.4 281.4 L214.0 282.9 L214.4 283.1 L214.3 283.4 L214.0 283.9 L214.4 284.9 L214.0 286.1 L214.1 286.7 L214.4 289.8 L214.6 291.2 L214.6 291.0 L214.6 290.4 L214.1 292.4 L214.6 294.3 L214.0 294.0 L214.5 296.5 L214.7 296.5 L214.1 295.6 L214.0 296.8 L214.5 299.6 L214.2 298.5 L214.5 299.7 L214.8 302.1 L214.8 302.0 L214.4 303.2 L214.3 303.5 L214.8 306.7 L214.3 306.7 L214.3 305.9 L214.7 307.4 L214.6 307.4 L214.2 310.2 L214.8 310.4 L214.6 311.7 L214.7 313.6 L214.5 312.7 L214.9 315.6 L214.7 316.4 L214.4 314.8 L214.8 316.5 L214.9 316.2 L214.7 319.6 L214.9 318.0 L214.9 320.2 L214.9 321.6 L215.1 321.9 L215.1 324.6 L214.7 324.4 L214.6 324.5 L215.0 327.1 L215.1 327.6 L215.0 329.2 L215.0 327.9 L215.0 328.7 L215.1 329.2 L214.7 331.2 L214.6 333.5 L215.1 334.4 L215.1 332.8 L215.2 335.0 L214.9 336.0 L214.7 338.0 L215.0 337.5 L214.8 337.5 L214.8 335.0 L215.1 336.0 L215.0 334.7 L215.3 333.8 L215.2 330.9 L215.1 332.0 L215.2 330.9 L215.7 329.1 L215.8 330.0 L215.5 327.5 L215.7 327.8 L215.8 325.8 L215.9 324.8 L215.3 324.1 L215.4 324.1 L215.4 323.0 L215.8 323.1 L215.5 321.4 L215.7 320.2 L216.1 318.1 L215.9 316.5 L216.2 315.8 L215.6 317.5 L216.0 315.2 L216.2 315.1 L216.4 313.0 L215.9 311.7 L215.9 312.8 L216.2 309.9 L216.2 310.0 L216.1 308.6 L216.5 309.6 L216.4 308.2 L216.5 307.7 L216.9 306.8 L217.1 306.1 L217.1 304.1 L217.1 303.9 L217.6 300.5 L217.5 301.9 L217.5 300.0 L217.4 299.9 L218.0 298.1 L218.2 298.8 L218.2 295.3 L218.1 295.6 L218.1 293.5 L218.4 293.5 L218.5 292.0 L218.9 292.0 L218.6 291.2 L219.0 290.0 L219.0 292.1 L219.5 293.2 L219.2 291.5 L219.2 295.0 L219.2 294.6 L219.1 293.8 L219.3 295.0 L219.5 297.5 L219.7 299.4 L219.9 298.4 L219.7 300.1 L219.8 301.7 L219.8 301.0 L220.2 301.7 L220.2 302.4 L219.6 302.7 L220.0 305.0 L219.9 306.0 L219.9 306.8 L220.4 308.7 L220.7 309.1 L220.6 310.9 L220.3 310.9 L220.6 309.7 L220.7 313.5 L220.6 313.1 L221.3 313.5 L221.3 314.9 L221.0 313.9 L221.5 315.3 L221.7 316.0 L221.8 317.4 L221.5 319.0 L221.6 321.4 L221.5 321.4 L222.2 322.7 L222.0 322.5 L222.3 322.1 L222.1 323.5 L222.6 324.7 L223.0 327.5 L223.0 328.5 L222.8 328.2 L223.3 329.3 L223.7 329.0 L223.3 329.6 L223.8 331.2 L223.6 329.3 L224.1 329.7 L224.0 327.5 L224.1 327.9 L224.1 326.5 L223.9 324.3 L224.1 324.7 L224.1 324.8 L224.2 324.2 L224.4 320.9 L224.4 321.0 L224.4 321.3 L224.9 320.1 L224.7 318.5 L224.9 319.1 L224.6 315.8 L224.8 314.6 L225.0 315.0 L225.4 314.5 L225.4 316.4 L226.2 317.5 L225.9 317.5 L226.3 318.5 L226.8 320.0 L227.0 320.4 L226.7 318.0 L226.7 315.8 L227.2 317.5 L227.2 314.4 L227.2 313.2 L227.0 313.2 L227.5 313.6 L227.2 311.9 L227.5 311.5 L227.3 310.6 L227.4 310.5 L227.7 307.4 L227.6 306.4 L228.3 307.1 L227.9 305.1 L227.9 305.2 L228.3 303.5 L228.0 302.7 L228.4 300.6 L228.7 302.7 L228.5 298.9 L228.4 299.3 L228.7 298.9 L228.8 297.5 L228.8 297.7 L229.4 297.2 L229.1 294.9 L229.3 294.1 L229.9 293.9 L230.0 292.5 L230.5 291.9 L230.4 289.3 L230.2 290.8 L230.3 288.4 L230.9 288.3 L231.0 286.7 L231.1 285.8 L231.5 284.6 L230.9 284.3 L231.6 282.3 L231.7 283.8 L232.0 280.7 L231.6 281.6 L232.0 280.0 L232.4 280.5 L232.3 280.1 L233.1 282.0 L233.0 284.9 L233.7 285.5 L233.8 285.0 L233.9 287.1 L234.0 288.3 L234.0 289.2 L234.0 287.7 L233.9 289.5 L234.1 290.1 L234.0 291.6 L234.2 291.6 L234.2 293.2 L234.1 294.6 L234.2 295.1 L234.6 296.8 L234.5 297.7 L234.8 296.9 L234.5 298.7 L234.6 298.9 L234.9 301.1 L234.9 301.3 L234.8 301.4 L234.8 302.7 L235.1 303.6 L235.0 305.0 L234.9 304.9 L235.3 302.4 L235.3 302.9 L235.4 301.9 L235.1 299.9 L235.1 299.3 L235.5 300.4 L235.9 298.5 L235.5 298.1 L235.5 295.7 L236.0 296.3 L235.8 294.5 L236.0 292.9 L236.3 293.4 L236.4 293.0 L236.1 290.8 L236.6 289.5 L236.1 288.2 L236.7 287.7 L236.5 287.5 L236.5 287.7 L237.0 286.8 L236.7 284.6 L236.9 284.8 L237.4 281.8 L237.2 281.9 L237.2 281.6 L237.4 278.8 L237.3 279.1 L237.9 278.2 L238.0 277.1 L237.8 277.2 L238.2 274.4 L238.2 275.0 L238.2 276.3 L238.6 275.9 L238.3 279.1 L238.6 279.0 L238.3 279.0 L238.7 280.0 L238.7 281.8 L238.6 281.2 L238.8 282.7 L239.2 283.8 L239.3 283.9 L239.3 285.2 L239.2 286.2 L238.8 287.5 L239.5 289.8 L239.5 289.0 L239.7 290.6 L239.4 290.2 L239.5 292.5 L239.6 292.5 L239.8 295.2 L239.6 295.3 L239.4 297.0 L239.9 296.2 L240.1 297.6 L239.8 297.4 L239.5 298.7 L239.6 299.2 L239.9 301.0 L239.9 302.3 L240.1 303.8 L239.9 305.6 L240.2 305.0 L240.5 305.4 L240.5 305.8 L240.2 307.1 L240.4 308.8 L240.1 308.7 L240.4 311.7 L240.6 309.9 L240.4 312.1 L240.9 312.4 L240.6 313.3 L240.6 316.1 L240.5 315.3 L240.9 317.0 L240.8 317.2 L241.1 317.4 L241.2 319.0 L241.0 320.0 L241.2 318.7 L240.9 316.7 L241.3 318.7 L241.2 316.9 L241.0 315.4 L241.4 313.5 L241.1 314.3 L241.1 313.2 L241.2 312.2 L241.3 310.9 L241.2 310.2 L241.6 309.0 L241.5 307.0 L241.7 307.8 L241.9 306.7 L241.5 305.7 L242.0 304.4 L242.0 303.8 L241.8 302.3 L242.1 303.3 L241.7 301.4 L242.0 300.0 L241.8 299.5 L242.5 299.6 L242.2 298.1 L242.2 297.5 L242.6 296.6 L242.9 293.1 L243.0 293.6 L242.9 293.5 L242.8 293.1 L243.0 292.3 L243.1 288.7 L243.0 287.9 L243.1 288.8 L243.5 287.5 L243.5 285.5 L244.0 285.0 L244.1 286.1 L243.9 285.5 L243.9 284.0 L244.4 283.5 L244.1 282.0 L244.7 279.0 L244.5 279.6 L244.3 279.7 L244.7 278.3 L244.8 277.7 L245.2 274.9 L245.0 275.0 L245.3 275.2 L245.0 277.8 L245.2 278.3 L245.2 277.7 L245.4 280.9 L245.6 280.4 L245.9 279.7 L246.1 282.9 L245.8 282.6 L246.2 283.4 L246.1 285.3 L246.0 285.8 L246.4 287.9 L246.5 287.5 L246.8 286.6 L246.8 284.7 L246.9 284.3 L246.6 282.6 L246.7 283.4 L246.9 281.7 L246.8 280.3 L247.1 278.7 L247.2 278.6 L247.1 278.6 L246.8 277.9 L247.0 277.5 L247.4 276.9 L247.4 275.4 L247.4 273.7 L247.1 274.5 L247.3 270.8 L247.2 271.2 L247.7 269.4 L247.3 269.0 L247.6 267.5 L247.6 266.6 L247.6 266.8 L248.0 265.8 L248.1 263.3 L247.5 263.0 L247.9 263.9 L247.8 262.3 L248.0 261.2 L247.9 263.0 L248.0 263.8 L248.3 264.2 L248.3 264.4 L248.5 264.3 L248.2 267.2 L248.7 267.7 L248.8 267.1 L248.3 270.5 L248.4 269.4 L248.5 270.3 L248.7 271.9 L248.9 272.2 L249.2 273.3 L248.8 275.4 L248.8 274.7 L248.9 275.9 L249.5 278.0 L249.2 279.8 L249.6 277.6 L249.5 280.0 L249.9 280.6 L249.5 281.4 L250.1 281.3 L249.8 283.6 L250.1 284.3 L250.0 286.4 L250.0 285.2 L250.1 288.4 L250.3 288.6 L250.4 288.8 L250.5 289.0 L250.2 291.9 L250.8 291.2 L250.3 294.0 L250.8 293.8 L250.8 295.4 L250.8 294.0 L251.2 296.8 L251.2 296.0 L251.3 298.4 L251.2 298.8 L251.5 296.3 L251.9 296.3 L251.9 295.4 L252.5 295.0 L252.4 294.6 L252.5 294.1 L252.9 292.4 L252.9 290.2 L253.1 289.1 L253.0 288.1 L252.7 288.3 L253.0 287.5 L252.8 286.6 L253.0 286.1 L253.1 286.6 L253.0 284.0 L253.2 284.8 L253.6 282.9 L253.6 281.2 L253.2 279.9 L253.5 278.2 L253.4 280.0 L253.8 277.7 L253.5 276.3 L253.7 276.2 L254.1 276.6 L253.9 273.5 L253.6 273.1 L254.0 272.5 L254.4 273.2 L254.2 273.7 L253.9 275.9 L254.0 277.5 L254.5 276.4 L254.3 276.4 L254.5 277.7 L254.3 278.2 L254.3 279.8 L254.5 280.3 L254.5 282.6 L254.8 284.4 L254.7 283.5 L254.6 286.3 L254.7 286.9 L255.0 288.5 L255.4 288.3 L254.9 287.6 L255.4 290.4 L255.2 291.4 L255.2 291.6 L255.5 292.5 L255.4 291.4 L255.5 291.0 L255.8 289.1 L256.0 287.6 L255.6 288.1 L255.9 286.0 L256.1 286.3 L255.9 285.0 L255.9 285.8 L256.4 285.2 L256.5 284.3 L256.5 281.1 L256.1 281.3 L256.5 281.7 L256.5 280.2 L256.8 277.0 L256.4 276.4 L256.4 276.9 L256.8 275.6 L256.9 273.5 L256.8 272.6 L257.0 273.5 L256.7 270.7 L257.0 271.2 L257.0 273.6 L257.1 272.8 L257.5 274.5 L257.3 275.3 L257.5 275.9 L257.9 275.5 L257.9 278.9 L257.8 279.9 L257.7 280.3 L258.2 280.9 L258.4 282.4 L258.1 283.1 L258.3 283.6 L258.3 283.0 L258.8 285.4 L258.8 286.5 L258.8 286.2 L258.6 284.3 L258.7 284.7 L258.7 283.0 L259.2 281.5 L259.3 280.9 L259.4 280.3 L259.1 279.3 L259.0 278.7 L259.3 277.9 L259.7 275.7 L259.2 275.9 L259.4 276.9 L259.3 273.7 L259.9 272.3 L259.8 273.0 L259.7 271.0 L259.8 272.4 L260.0 270.0 L260.3 270.7 L260.3 267.0 L260.3 265.7 L260.3 267.4 L260.4 265.6 L260.3 263.4 L260.2 262.9 L260.5 261.7 L260.6 262.1 L260.5 261.3 L260.7 261.4 L260.4 259.3 L260.5 259.6 L260.5 256.0 L261.0 257.0 L260.8 255.9 L261.0 255.9 L260.8 253.5 L260.7 253.6 L261.0 250.6 L260.8 251.9 L261.0 250.0 L261.3 249.7 L260.8 247.0 L261.0 247.3 L261.5 247.9 L261.4 245.4 L261.0 245.1 L261.0 245.3 L261.3 241.5 L261.3 240.4 L261.7 240.8 L261.6 239.9 L261.5 240.2 L261.3 237.6 L261.4 237.5 L261.5 237.1 L261.6 235.1 L261.4 236.4 L261.3 233.4 L261.4 231.7 L261.9 231.9 L262.1 231.9 L261.8 231.4 L261.5 229.7 L261.7 228.2 L261.6 228.1 L261.8 226.9 L261.9 225.9 L262.0 225.0 L262.2 222.8 L262.1 224.2 L262.2 221.1 L262.5 222.6 L261.8 221.4 L262.3 220.9 L262.5 218.1 L262.5 218.9 L262.3 216.2 L262.2 215.7 L262.4 216.1 L262.4 213.8 L262.5 214.8 L262.5 213.9 L262.2 213.3 L262.6 210.7 L262.9 210.6 L262.6 209.4 L262.6 208.6 L263.0 207.9 L262.6 204.8 L262.4 206.7 L262.4 205.5 L263.0 204.2 L262.7 202.0 L263.0 201.1 L262.9 201.1 L263.0 199.6 L263.1 200.7 L262.8 199.8 L263.0 197.5 L263.0 198.5 L263.3 198.8 L263.2 199.2 L263.6 202.0 L263.2 200.5 L263.7 202.9 L263.7 202.8 L263.6 204.4 L263.3 207.1 L263.4 206.0 L263.6 206.3 L263.9 209.1 L264.1 208.1 L263.7 210.3 L264.2 212.2 L264.4 211.1 L264.0 213.9 L264.5 212.3 L264.0 215.8 L264.6 216.5 L264.7 217.0 L264.5 217.5 L264.4 218.2 L264.8 216.8 L264.7 214.2 L264.8 214.5 L264.5 213.3 L264.7 211.4 L264.9 210.1 L264.5 211.6 L264.8 210.1 L264.9 207.4 L264.6 208.6 L264.6 205.6 L264.8 206.8 L264.6 206.1 L264.8 202.9 L264.7 204.5 L265.1 201.1 L265.1 200.2 L264.8 199.3 L265.2 200.3 L265.0 198.6 L264.9 196.5 L265.3 196.3 L265.3 196.9 L265.2 195.4 L265.0 193.2 L265.0 192.9 L265.0 193.4 L265.0 191.2 L265.3 192.1 L265.2 190.0 L265.2 189.0 L265.6 189.6 L265.4 187.1 L265.2 187.6 L265.1 184.7 L265.6 184.6 L265.4 182.6 L265.5 184.4 L265.7 181.5 L265.4 182.3 L265.7 178.9 L265.9 180.0 L265.5 178.8 L265.5 177.5 L265.6 176.4 L266.0 176.9 L265.7 176.1 L265.5 175.3 L265.9 174.3 L265.7 173.2 L265.5 172.7 L266.1 171.4 L266.1 168.9 L266.1 167.5 L265.9 167.4 L266.2 165.7 L266.0 165.8 L265.8 167.4 L265.9 169.1 L266.1 168.1 L266.4 169.6 L266.3 171.7 L266.0 170.8 L266.3 170.7 L266.3 173.3 L266.3 175.5 L266.4 174.3 L266.8 174.7 L266.5 176.9 L266.4 177.3 L266.6 177.8 L267.0 179.2 L266.5 180.5 L266.5 179.7 L266.9 181.6 L266.6 184.2 L266.8 184.8 L266.9 184.9 L266.6 184.2 L267.1 187.1 L267.0 187.5 L267.4 188.0 L267.0 190.2 L267.3 188.6 L267.1 191.3 L267.4 190.2 L267.5 192.5 L267.7 191.9 L267.4 194.7 L267.4 195.0 L267.4 195.0 L267.6 198.0 L267.6 198.5 L267.8 199.7 L267.6 200.1 L267.5 200.7 L267.9 202.9 L267.9 202.4 L267.7 201.9 L268.1 203.2 L267.8 203.4 L268.1 207.0 L267.8 207.4 L268.1 206.7 L268.1 207.8 L268.2 208.9 L268.2 210.5 L268.0 212.7 L267.7 213.6 L267.8 214.1 L268.1 214.0 L268.0 215.6 L268.4 214.7 L268.4 216.6 L267.9 217.3 L268.1 219.1 L267.9 219.1 L268.4 219.3 L268.4 221.8 L268.5 221.6 L268.2 223.2 L268.5 223.7 L268.2 225.2 L268.4 224.8 L268.5 226.2 L268.8 224.0 L269.3 225.1 L269.8 222.4 L270.0 222.5 L270.2 220.4 L269.8 219.6 L270.2 219.0 L270.5 218.2 L270.1 219.4 L270.5 217.9 L270.2 216.4 L270.8 216.8 L270.4 212.9 L270.3 212.9 L270.9 212.4 L270.9 210.2 L270.4 210.2 L270.6 211.2 L270.6 208.1 L270.6 207.7 L270.8 206.2 L270.9 206.6 L271.1 204.8 L271.3 205.4 L271.4 203.1 L271.2 203.7 L271.1 201.8 L271.6 199.8 L271.1 200.4 L271.7 200.5 L271.6 196.7 L271.6 196.5 L271.5 197.5 L271.8 195.5 L271.8 193.7 L271.8 193.8 L272.1 194.4 L272.0 194.6 L271.7 195.0 L271.7 196.2 L271.8 198.4 L271.8 200.2 L272.3 200.5 L271.9 199.9 L272.2 202.8 L272.1 204.3 L272.6 203.5 L272.7 204.2 L272.2 206.9 L272.7 206.7 L272.7 206.2 L272.7 209.2 L272.3 209.6 L272.3 211.7 L272.8 212.0 L272.8 211.4 L272.9 212.6 L273.1 212.4 L273.1 214.4 L273.1 215.6 L273.0 216.0 L273.0 217.5 L273.1 215.1 L273.4 214.4 L273.2 215.4 L273.6 215.5 L273.1 214.5 L273.6 212.9 L273.2 211.7 L273.5 211.8 L273.9 209.9 L273.4 208.0 L273.6 209.1 L273.6 205.4 L274.1 207.6 L273.8 204.2 L274.2 205.5 L273.9 203.6 L274.2 202.5 L274.6 203.1 L274.3 202.7 L274.7 203.8 L274.7 204.8 L274.6 208.1 L274.7 206.4 L274.6 208.7 L274.6 208.5 L274.4 211.5 L274.6 212.6 L274.6 211.6 L274.9 213.1 L275.1 214.3 L274.9 215.0 L274.7 217.5 L274.8 215.2 L274.7 217.1 L274.7 218.3 L275.1 220.8 L275.3 221.6 L275.4 222.0 L275.4 221.5 L275.3 222.1 L275.5 224.2 L275.3 223.8 L275.6 226.8 L275.2 228.1 L275.5 227.5 L275.7 225.7 L276.7 226.5 L277.0 225.0 L277.2 226.4 L277.1 226.9 L277.2 229.1 L277.2 229.1 L277.4 229.5 L277.0 230.7 L277.3 231.1 L277.4 232.1 L277.3 232.7 L277.4 233.9 L277.2 236.5 L277.7 234.4 L277.6 236.5 L277.5 238.0 L277.3 237.8 L278.0 240.7 L277.7 239.8 L277.5 240.8 L278.1 243.5 L277.7 242.4 L278.2 244.7 L278.0 245.0 L278.0 245.8 L278.3 245.9 L278.4 248.8 L278.2 247.3 L278.4 251.0 L278.0 250.2 L278.4 249.8 L278.5 250.7 L278.3 253.5 L278.7 255.1 L278.2 255.1 L278.4 255.9 L278.8 255.7 L278.3 258.2 L278.5 257.4 L278.5 259.4 L278.9 259.9 L278.9 259.9 L279.1 261.3 L278.7 264.2 L278.6 264.0 L279.0 264.2 L278.8 265.8 L278.7 264.8 L278.8 267.4 L279.1 267.4 L279.1 270.2 L279.2 269.1 L279.4 270.0 L279.0 270.5 L279.2 272.5 L279.6 271.4 L279.2 269.6 L279.3 268.6 L279.5 268.4 L279.6 268.9 L279.7 267.1 L280.2 267.1 L280.3 265.1 L280.4 263.7 L280.3 263.7 L280.1 262.3 L280.6 260.6 L280.5 260.4 L280.5 260.0 L280.6 260.8 L280.4 260.9 L280.7 262.2 L280.3 263.7 L280.6 265.2 L280.6 264.0 L281.0 265.4 L280.7 267.3 L280.7 267.3 L280.8 268.3 L281.1 270.8 L281.2 271.4 L280.7 272.2 L280.8 271.1 L281.1 272.7 L281.2 275.4 L281.0 275.0 L281.4 277.7 L280.9 276.5 L281.1 279.5 L281.0 280.0 L281.2 280.2 L281.2 281.9 L281.2 280.3 L281.8 283.4 L281.6 283.8 L281.4 283.5 L281.9 283.8 L281.7 284.6 L281.4 286.4 L282.0 287.6 L281.5 287.9 L281.9 290.0 L281.6 290.5 L281.6 292.6 L281.7 291.3 L281.9 293.2 L282.1 294.3 L282.0 295.0 L282.1 295.4 L282.4 291.8 L282.2 290.8 L282.5 290.3 L282.3 291.5 L282.9 289.0 L282.4 289.4 L283.0 288.5 L282.7 286.8 L282.9 286.7 L282.9 284.1 L283.0 284.1 L283.4 283.2 L283.4 282.8 L283.3 282.7 L284.0 280.3 L283.8 280.0 L284.2 282.1 L284.1 282.7 L284.3 283.6 L284.2 282.4 L284.8 283.3 L284.6 284.9 L284.6 286.5 L285.2 287.9 L285.4 289.1 L285.1 288.5 L285.5 290.0 L285.8 289.9 L285.8 287.8 L286.3 286.2 L286.4 286.2 L286.3 284.9 L286.8 284.6 L286.7 284.9 L286.9 283.3 L287.3 283.0 L287.2 281.1 L287.5 280.0 L287.9 278.4 L287.7 279.2 L287.8 276.1 L287.8 278.0 L288.3 276.7 L288.5 275.0 L288.7 273.7 L289.1 271.8 L288.7 271.0 L289.2 271.9 L289.2 270.5 L289.5 272.4 L289.1 273.7 L289.3 271.7 L289.4 275.0 L289.9 275.1 L289.8 274.8 L290.1 278.1 L290.0 277.4 L290.4 277.9 L290.3 280.5 L290.4 279.8 L290.6 281.3 L290.7 281.8 L290.5 283.8 L290.9 284.3 L290.8 285.0 L291.2 286.0 L291.3 285.2 L291.1 288.4 L291.0 289.7 L291.5 288.9 L291.4 291.4 L291.7 292.8 L291.5 290.7 L291.9 291.7 L291.8 293.4 L291.8 294.7 L292.5 297.0 L292.3 296.8 L292.5 297.5 L292.7 297.8 L293.0 298.8 L293.0 301.6 L292.6 302.0 L292.9 300.7 L293.0 301.6 L293.4 305.2 L293.1 306.0 L293.1 304.5 L293.2 305.5 L293.5 307.2 L293.7 308.6 L293.7 309.2 L294.0 310.5 L294.0 311.3 L294.0 311.4 L294.2 310.9 L294.1 313.6 L294.7 315.3 L294.5 315.0 L294.8 315.2 L294.5 313.2 L295.0 311.6 L294.6 313.0 L294.9 309.0 L295.2 309.2 L295.5 307.6 L295.6 307.4 L295.3 306.5 L295.9 305.1 L295.9 305.6 L295.8 303.0 L296.2 304.3 L295.7 304.0 L296.4 301.4 L296.5 301.0 L296.2 300.0 L296.3 298.5 L296.8 299.9 L297.2 297.9 L298.0 297.2 L298.0 296.2 L298.3 298.6 L298.4 297.3 L298.2 297.4 L298.2 301.3 L298.5 300.3 L298.6 300.8 L298.3 303.1 L298.4 304.8 L298.6 305.0 L298.5 304.1 L299.1 307.8 L299.2 307.0 L299.4 309.5 L299.0 309.0 L299.6 309.9 L299.5 311.4 L299.4 312.7 L299.5 312.5 L299.9 311.8 L300.1 309.7 L300.0 308.3 L299.9 309.1 L300.3 309.3 L300.4 306.0 L300.6 306.4 L300.5 303.6 L300.7 305.0 L301.3 302.6 L301.2 302.5 L301.6 304.6 L301.0 303.3 L301.5 306.0 L301.1 305.7 L301.3 306.8 L301.9 308.2 L301.3 307.9 L301.4 310.3 L301.7 309.7 L301.6 313.1 L301.8 311.8 L301.8 312.2 L301.8 314.8 L301.7 316.0 L302.1 314.7 L302.3 316.7 L302.3 316.5 L302.1 319.2 L302.3 318.4 L302.2 321.3 L302.4 321.3 L302.3 322.7 L302.4 322.2 L302.7 324.3 L302.5 325.0 L302.7 325.7 L302.6 322.6 L303.1 322.7 L303.2 320.6 L303.1 322.1 L303.3 320.9 L303.7 319.1 L303.5 316.8 L303.4 318.4 L303.8 315.3 L304.0 315.0 L304.1 314.9 L304.2 314.6 L303.8 310.7 L304.1 310.0 L304.2 309.1 L304.1 310.1 L304.3 309.9 L304.3 309.4 L304.4 307.4 L304.7 305.4 L304.3 303.7 L304.8 303.8 L304.3 303.5 L304.7 301.9 L304.4 302.7 L304.7 301.7 L304.7 300.0 L305.2 298.8 L305.2 299.5 L305.0 298.0 L304.6 295.2 L305.0 295.5 L305.2 297.4 L304.9 297.7 L305.4 297.4 L304.8 299.2 L305.1 299.4 L305.5 299.4 L305.5 303.0 L305.2 301.0 L305.5 302.3 L305.5 305.4 L305.1 306.2 L305.1 304.6 L305.7 308.2 L305.3 308.0 L305.3 310.0 L305.2 309.2 L305.5 312.2 L305.8 312.4 L306.0 312.6 L306.0 314.2 L305.4 315.6 L305.6 315.9 L305.7 315.4 L305.5 318.4 L305.6 317.5 L305.9 320.2 L306.0 320.1 L305.9 321.2 L306.2 321.0 L306.3 322.8 L306.3 322.4 L306.2 324.7 L306.2 324.5 L305.9 324.4 L306.0 326.0 L306.2 327.5 L306.5 326.9 L306.6 330.0 L306.8 329.2 L306.9 332.0 L307.0 331.0 L306.9 332.4 L307.4 332.4 L307.6 334.8 L307.3 334.2 L307.3 336.2 L307.8 336.4 L308.2 337.8 L308.0 338.8 L308.3 338.1 L308.5 337.3 L308.1 335.7 L308.8 336.8 L308.5 333.2 L309.0 332.7 L308.7 331.5 L308.9 331.8 L309.3 330.2 L309.2 329.2 L309.5 328.5 L309.8 327.8 L310.0 327.5 L310.1 328.0 L310.6 327.8 L310.6 331.1 L310.6 329.7 L310.9 333.5 L311.3 332.2 L311.0 335.3 L311.5 335.0 L311.6 334.1 L311.6 332.0 L311.9 332.7 L311.9 331.9 L311.6 330.2 L312.3 328.2 L312.4 330.0 L312.4 326.6 L312.2 326.0 L312.6 325.2 L312.7 326.3 L312.9 324.0 L312.7 322.8 L312.5 323.2 L312.5 321.4 L312.7 321.8 L313.0 320.0 L312.9 318.0 L313.3 318.7 L313.5 317.5 L313.1 317.3 L313.2 315.7 L313.3 313.9 L313.5 312.5 L313.8 314.2 L313.6 310.8 L313.9 311.5 L313.6 308.9 L314.0 309.5 L314.1 310.6 L314.3 309.9 L314.2 311.3 L314.1 313.2 L314.1 315.4 L314.3 314.6 L314.6 316.8 L314.4 317.5 L314.5 318.2 L314.8 319.9 L314.3 320.1 L314.5 320.4 L314.8 320.2 L314.8 321.1 L314.6 322.8 L314.9 324.4 L315.1 326.2 L314.6 326.5 L314.8 327.0 L314.8 328.7 L314.6 327.8 L315.0 329.0 L315.0 330.0 L314.9 328.6 L315.0 328.3 L315.5 326.4 L315.7 326.2 L315.8 325.9 L316.0 325.0 L315.7 324.7 L316.4 327.0 L316.0 327.0 L316.3 328.0 L316.3 329.5 L315.9 328.8 L316.1 330.3 L316.1 331.9 L316.2 334.6 L316.6 334.2 L316.3 335.3 L316.2 336.8 L316.7 335.2 L316.4 337.7 L316.6 337.1 L316.5 339.0 L316.7 339.6 L316.3 340.7 L316.3 343.3 L316.5 342.2 L316.3 345.4 L316.8 343.8 L316.5 344.3 L316.8 347.4 L316.4 348.4 L316.6 349.6 L316.7 350.2 L316.7 351.4 L316.5 350.3 L316.5 351.9 L317.1 351.7 L317.1 354.0 L316.8 353.5 L316.6 355.4 L317.2 355.7 L316.9 358.0 L317.2 358.6 L317.0 360.6 L317.0 360.0 L317.3 359.5 L316.9 360.8 L317.2 361.6 L317.2 363.9 L317.0 364.5 L317.3 366.2 L317.6 365.8 L317.7 368.8 L317.2 369.8 L317.5 368.9 L317.7 369.4 L317.4 372.3 L318.0 372.0 L317.7 374.1 L317.8 372.6 L318.0 374.8 L317.7 374.7 L317.6 378.1 L318.0 377.5 L317.8 377.0 L318.1 376.5 L318.0 376.2 L318.0 375.1 L318.0 371.6 L318.3 370.7 L318.3 372.7 L318.2 371.0 L318.6 369.5 L318.7 367.2 L318.5 367.4 L318.9 367.8 L318.5 364.6 L318.7 363.5 L319.2 364.4 L319.2 364.6 L319.2 361.0 L319.1 362.1 L319.2 362.0 L319.0 358.3 L319.3 357.4 L319.6 358.1 L319.0 355.2 L319.3 357.4 L319.5 355.0 L320.3 355.1 L320.9 355.4 L321.2 357.5 L321.4 359.6 L321.1 359.6 L321.6 360.5 L321.6 361.9 L321.5 360.6 L321.5 363.2 L321.7 362.4 L322.0 365.4 L322.4 364.9 L321.9 366.5 L322.5 367.3 L322.3 367.6 L322.7 369.1 L322.3 370.2 L322.4 370.9 L322.8 371.4 L322.7 370.8 L322.9 372.7 L322.9 375.2 L323.0 375.0 L323.0 376.3 L323.4 376.0 L323.4 377.8 L323.7 379.5 L323.7 379.1 L324.4 381.5 L324.1 382.8 L324.5 380.9 L324.9 381.7 L324.7 384.7 L325.0 385.0 L325.3 383.9 L325.3 382.1 L325.7 383.2 L325.4 381.7 L325.7 379.6 L326.2 378.1 L326.5 379.0 L326.7 378.0 L326.6 376.9 L326.8 375.4 L327.0 376.6 L327.0 372.7 L327.4 372.4 L327.5 372.5 L327.8 373.4 L328.4 375.5 L328.2 373.7 L328.9 376.5 L329.2 377.2 L329.5 377.5 L329.6 376.9 L329.8 380.4 L329.5 378.8 L329.9 382.4 L330.1 381.0 L330.3 384.3 L330.4 384.3 L330.2 383.5 L330.2 386.7 L330.7 385.5 L330.5 387.5 L330.2 389.2 L330.8 387.6 L331.0 391.9 L330.6 392.5 L330.8 392.3 L330.9 392.2 L331.0 393.6 L331.6 395.2 L331.9 397.1 L332.1 394.8 L332.3 397.5 L331.6 398.2 L331.8 399.9 L332.2 400.0 L332.4 402.7 L332.4 403.3 L332.6 402.0 L332.5 404.3 L332.5 403.6 L332.4 406.1 L332.8 404.9 L332.4 407.7 L333.3 407.1 L333.2 407.9 L332.7 409.0 L333.5 410.5 L332.8 412.5 L333.4 413.1 L333.5 413.2 L333.1 414.2 L333.5 415.0 L333.3 416.6 L334.0 416.1 L333.8 417.9 L333.9 419.4 L334.0 419.0 L333.9 418.5 L334.6 419.5 L334.4 423.7 L334.6 421.7 L334.7 423.1 L334.6 425.4 L334.4 426.6 L334.7 427.9 L334.8 427.5 L335.3 427.6 L335.3 424.9 L335.2 424.5 L336.1 425.6 L336.2 423.3 L336.5 422.5 L336.6 424.8 L337.7 423.6 L338.0 425.0 L338.1 426.0 L338.0 425.9 L338.2 428.4 L338.8 430.3 L338.3 431.4 L338.2 430.6 L338.3 430.9 L339.2 432.3 L338.8 434.2 L339.4 433.3 L339.4 433.4 L338.8 437.4 L339.4 438.6 L339.3 437.4 L339.5 438.8 L339.6 440.1 L340.0 442.0 L339.3 440.8 L339.9 443.5 L339.5 443.9 L340.3 442.6 L340.0 444.6 L339.8 447.8 L339.8 447.5 L340.5 448.1 L340.6 447.5 L340.7 451.5 L340.9 451.7 L340.6 452.3 L340.9 453.7 L340.9 453.8 L340.6 453.0 L341.2 454.5 L340.7 457.2 L341.0 457.0 L340.7 458.0 L341.1 453.5 L341.8 452.6 L341.4 452.8 L341.6 453.7 L341.6 452.0 L342.2 450.4 L341.9 448.8 L341.7 448.6 L342.2 446.4 L342.2 448.0 L342.8 444.2 L342.5 445.0 L342.9 442.7 L342.7 441.5 L342.4 441.0 L342.9 441.1 L342.7 440.3 L342.8 439.3 L343.3 437.9 L342.6 436.7 L342.8 437.1 L342.6 436.9 L343.0 435.8 L343.0 435.9 L343.0 433.1 L343.1 432.6 L343.2 432.3 L343.2 431.5 L343.5 429.7 L343.6 429.8 L343.1 427.8 L343.3 425.7 L343.3 425.0 L343.5 426.0 L343.5 426.0 L343.5 422.6 L344.0 421.3 L343.7 422.1 L344.1 422.1 L344.0 420.0 L344.2 418.8 L344.1 418.8 L344.1 415.7 L344.2 418.1 L344.0 416.0 L344.7 415.6 L344.4 413.2 L344.3 412.8 L344.3 410.7 L344.7 411.6 L345.2 411.7 L345.2 410.5 L344.5 409.5 L345.4 405.9 L345.1 407.8 L345.0 405.9 L344.8 404.3 L345.0 403.8 L345.6 401.3 L345.7 402.1 L345.5 400.1 L345.5 400.0 L345.9 398.3 L345.8 397.1 L345.6 397.6 L345.8 394.9 L346.2 395.7 L345.7 393.6 L346.4 393.1 L346.3 391.9 L345.9 390.3 L346.4 392.0 L346.4 388.8 L346.5 391.1 L346.6 388.7 L346.3 387.7 L346.9 388.2 L346.7 385.3 L347.0 385.0 L347.4 382.9 L347.0 384.5 L347.2 382.7 L346.8 380.2 L346.9 381.3 L346.8 379.8 L347.0 376.8 L347.5 378.3 L347.6 378.7 L347.0 376.0 L347.5 376.7 L347.1 375.5 L347.6 374.5 L347.6 371.2 L347.8 369.7 L347.9 369.4 L347.9 368.3 L348.0 369.1 L347.7 369.4 L347.8 367.5 L348.2 367.4 L348.0 365.0 L348.1 365.1 L348.5 362.3 L348.5 364.1 L348.5 360.7 L348.5 361.1 L348.2 360.7 L348.6 358.2 L348.4 358.3 L348.0 358.2 L348.4 354.1 L348.8 353.5 L348.9 352.5 L348.3 352.1 L348.8 353.2 L348.8 351.0 L349.1 350.7 L348.8 349.6 L348.7 348.5 L348.5 348.4 L349.3 347.5 L349.0 346.9 L349.0 345.0 L348.9 343.6 L349.5 341.8 L350.1 343.9 L350.2 340.5 L350.2 342.0 L350.5 340.0 L350.2 342.3 L350.6 341.2 L350.5 343.6 L350.9 342.9 L350.6 344.1 L350.7 344.4 L350.6 347.1 L350.7 347.8 L351.2 346.3 L350.8 348.2 L350.5 351.7 L350.6 349.2 L351.2 350.4 L350.5 352.7 L350.9 352.7 L350.8 353.2 L350.9 356.9 L351.1 355.2 L351.0 355.7 L350.7 358.6 L350.9 359.1 L351.2 360.8 L351.2 362.3 L350.9 360.5 L351.5 363.3 L351.1 361.8 L351.2 363.5 L351.3 366.7 L351.5 367.1 L351.4 366.2 L351.3 367.5 L351.5 369.0 L351.7 368.5 L351.3 369.4 L351.9 372.9 L351.5 372.5 L352.0 371.1 L352.1 369.0 L351.3 368.7 L351.5 370.0 L351.5 369.0 L351.9 365.8 L352.1 364.7 L352.4 364.9 L352.7 364.5 L352.1 365.0 L352.8 364.4 L352.6 362.2 L352.5 359.8 L352.5 359.1 L352.7 359.7 L353.0 359.4 L353.0 357.5 L352.8 357.8 L353.4 356.9 L353.3 355.2 L353.7 354.5 L354.0 353.7 L353.9 350.5 L353.9 351.9 L354.5 350.0 L354.6 349.6 L354.5 349.0 L354.8 347.2 L354.5 347.3 L354.8 345.5 L354.9 344.8 L355.0 342.5 L355.2 344.2 L355.6 343.2 L355.5 340.0 L356.0 338.0 L355.4 339.5 L355.8 338.2 L355.7 337.8 L356.0 336.2 L356.2 338.7 L356.5 336.4 L356.2 340.3 L356.8 340.5 L356.2 342.0 L356.5 342.7 L357.0 343.5 L357.3 343.0 L357.5 345.2 L357.2 346.6 L357.4 346.7 L357.4 346.3 L357.5 347.5 L357.4 348.4 L358.0 348.4 L358.0 351.5 L357.9 351.8 L358.2 352.2 L358.1 351.0 L358.0 355.5 L358.0 354.5 L358.8 354.6 L358.8 354.7 L359.0 358.5 L359.2 357.3 L358.8 358.6 L359.0 360.0 L359.1 360.8 L358.8 358.9 L359.1 355.5 L359.6 355.0 L359.9 354.6 L359.3 355.4 L359.5 354.6 L359.3 353.0 L360.1 353.3 L360.1 351.5 L359.6 349.7 L360.3 348.7 L359.8 348.8 L360.2 346.7 L359.9 344.9 L360.1 345.7 L360.5 345.0 L360.3 347.4 L361.0 347.7 L360.9 346.9 L361.1 350.4 L361.5 349.0 L361.6 349.4 L361.3 350.5 L361.6 351.4 L361.7 354.4 L362.1 352.6 L361.8 355.6 L361.6 356.9 L362.3 356.8 L362.3 358.4 L362.2 356.6 L362.5 358.2 L362.5 360.0 L362.6 358.7 L362.8 358.3 L362.6 358.7 L362.6 355.5 L363.3 353.9 L362.8 356.1 L363.6 353.1 L363.7 354.0 L363.2 353.6 L363.3 349.2 L363.2 349.9 L363.7 348.1 L363.5 348.8 L363.7 345.7 L364.0 346.2 L364.2 343.9 L365.3 343.1 L365.5 343.8 L365.2 346.1 L365.9 346.7 L365.5 347.1 L365.4 348.6 L366.2 346.6 L366.3 348.2 L365.6 351.1 L366.2 349.5 L366.2 350.7 L365.9 353.6 L366.0 353.7 L366.4 356.2 L366.5 356.4 L366.8 354.9 L366.5 357.5 L366.6 359.4 L366.7 359.6 L366.8 361.1 L366.9 360.2 L366.6 360.8 L367.4 362.8 L366.9 364.5 L367.4 364.5 L367.4 365.7 L367.7 366.3 L367.6 368.6 L367.9 369.1 L367.6 367.4 L367.8 369.0 L367.8 370.6 L368.3 373.4 L368.4 371.9 L368.0 374.9 L368.8 374.6 L368.5 375.0 L368.9 375.4 L368.5 378.0 L369.1 376.4 L368.8 378.3 L369.2 379.4 L369.5 382.0 L368.9 382.4 L368.9 381.8 L369.3 382.1 L369.5 382.9 L369.7 383.7 L369.5 385.7 L369.6 387.6 L370.2 386.0 L370.0 388.8 L370.4 388.8 L369.8 386.2 L369.8 386.8 L370.3 387.0 L369.7 384.5 L370.1 382.6 L369.9 384.3 L369.8 382.0 L370.5 382.5 L370.5 381.0 L370.1 377.7 L370.4 376.3 L370.1 375.6 L370.8 375.0 L370.2 376.5 L370.2 376.3 L370.4 372.2 L370.2 373.8 L370.6 372.9 L370.4 372.0 L370.2 368.3 L370.6 370.0 L370.4 369.2 L370.4 366.5 L370.9 367.8 L370.9 364.2 L370.7 362.9 L371.0 362.8 L371.0 363.7 L370.4 360.8 L371.1 361.6 L371.2 358.3 L370.8 360.8 L371.1 358.5 L371.0 357.5 L371.3 360.0 L371.5 359.4 L371.0 360.2 L371.5 361.3 L371.6 361.4 L371.6 361.9 L372.3 364.8 L372.4 364.6 L372.2 364.3 L372.6 367.5 L372.5 367.5 L372.7 367.9 L373.6 370.9 L374.0 370.0 L373.9 371.5 L374.2 370.3 L374.6 372.3 L374.6 374.1 L374.7 374.7 L375.0 373.9 L374.7 376.5 L374.3 375.9 L375.0 378.7 L374.7 379.5 L375.2 379.7 L375.4 381.1 L375.4 379.9 L375.3 380.5 L374.9 383.4 L375.6 383.8 L375.5 385.0 L375.2 385.5 L376.0 383.3 L376.2 380.9 L375.8 383.1 L375.7 379.4 L376.1 378.6 L376.6 379.5 L376.8 378.1 L376.6 376.7 L376.5 374.2 L376.3 373.4 L376.4 375.5 L376.9 372.6 L377.0 372.5 L376.7 373.5 L377.3 372.8 L376.9 374.8 L377.2 375.9 L377.0 378.8 L377.1 376.6 L378.0 378.9 L377.4 380.6 L377.7 380.6 L378.1 383.1 L377.8 382.6 L378.1 382.8 L378.2 383.5 L378.2 383.3 L378.2 387.6 L378.6 386.6 L378.5 387.5 L378.9 389.6 L379.1 388.9 L379.2 389.1 L379.0 389.3 L379.3 390.8 L379.2 393.9 L379.4 395.3 L380.4 396.5 L380.4 396.1 L380.3 398.3 L380.5 397.5 L380.6 399.7 L381.6 400.2 L382.0 400.0 L381.9 402.0 L382.4 400.3 L382.7 403.2 L382.8 402.5 L382.7 406.5 L383.5 406.8 L383.3 407.2 L383.5 407.5 L383.5 406.3 L383.2 404.3 L383.4 404.0 L383.6 405.4 L383.9 404.4 L384.2 403.6 L383.9 402.0 L384.0 399.3 L384.3 398.7 L384.2 396.8 L384.1 397.0 L384.7 396.9 L384.2 397.7 L384.8 396.6 L384.5 394.1 L384.7 392.0 L384.8 392.1 L384.7 392.9 L384.7 391.1 L384.7 388.1 L384.5 386.9 L384.7 389.5 L384.8 385.4 L385.0 384.2 L385.0 385.0 L384.9 383.1 L385.6 383.7 L385.5 380.5 L385.4 381.7 L385.1 380.2 L385.7 379.1 L386.2 378.1 L386.2 377.2 L386.2 378.1 L386.1 376.0 L385.8 376.5 L385.8 373.2 L386.4 373.4 L386.5 372.5 L387.4 373.4 L387.5 370.5 L388.0 370.0 L388.7 367.7 L388.7 368.4 L389.5 367.5 L389.3 369.8 L389.9 368.0 L389.8 371.9 L390.7 369.9 L391.0 371.0 L390.6 370.7 L391.4 372.6 L391.4 372.7 L391.5 375.0 L392.1 377.3 L391.5 377.8 L391.9 377.4 L392.2 376.9 L392.7 380.1 L392.6 378.6 L393.4 379.2 L393.3 382.6 L393.5 382.5 L394.4 383.6 L394.3 380.1 L395.1 379.5 L395.5 380.0 L395.7 381.3 L395.9 382.9 L396.2 382.1 L395.8 385.5 L396.1 384.6 L396.6 386.6 L397.0 387.9 L397.0 387.5 L397.2 390.1 L397.6 389.6 L397.1 391.3 L397.7 389.5 L397.8 390.3 L397.7 394.4 L397.7 395.4 L397.8 395.5 L397.4 394.4 L397.8 397.2 L398.0 395.8 L397.8 397.2 L398.3 400.4 L398.5 400.8 L398.3 400.5 L398.3 401.4 L398.5 402.5 L399.0 402.7 L398.9 399.9 L398.4 398.7 L399.2 399.6 L399.5 397.4 L399.0 398.0 L399.6 397.2 L399.7 394.0 L399.3 394.2 L399.6 393.1 L399.5 392.8 L399.9 390.1 L400.1 391.7 L400.0 390.0 L400.5 390.5 L400.0 389.9 L400.5 390.8 L400.4 393.6 L400.3 394.5 L401.3 393.5 L400.7 397.6 L401.2 397.6 L401.7 398.0 L401.5 398.8 L402.1 398.4 L402.3 397.7 L402.4 394.7 L402.7 394.6 L402.9 395.5 L402.6 394.5 L403.2 392.7 L403.1 390.1 L403.5 391.1 L403.5 390.0 L403.6 390.3 L403.5 392.7 L404.0 393.4 L403.7 393.1 L404.1 394.4 L403.6 394.5 L404.0 395.8 L404.4 395.8 L404.2 398.0 L403.6 398.6 L404.2 399.4 L404.6 399.2 L404.2 401.9 L404.0 400.7 L404.4 402.8 L404.3 403.0 L404.5 404.3 L404.5 406.8 L404.6 407.9 L404.7 406.3 L404.9 408.7 L404.5 411.3 L404.5 411.9 L404.3 412.0 L404.8 413.6 L404.9 413.0 L404.7 413.6 L405.0 415.0 L405.2 414.8 L405.0 411.5 L405.1 414.0 L405.4 410.7 L405.8 410.1 L405.2 411.5 L405.3 407.8 L405.5 407.7 L406.1 407.7 L405.5 404.5 L405.8 403.8 L406.0 403.0 L406.4 403.0 L406.7 404.4 L406.5 401.5 L406.5 399.5 L406.5 400.0 L407.0 400.6 L406.6 396.9 L407.3 398.9 L406.9 397.5 L407.1 396.1 L408.0 395.6 L407.5 393.2 L408.5 393.9 L408.2 392.6 L408.5 391.2 L408.8 391.5 L408.4 394.8 L409.1 392.9 L408.6 394.6 L408.9 395.1 L408.7 398.5 L408.7 398.9 L409.0 398.2 L409.0 401.2 L409.1 401.1 L409.3 402.8 L408.8 402.2 L409.0 401.1 L408.5 403.4 L408.8 406.7 L408.6 407.4 L409.3 406.1 L409.3 408.2 L408.8 408.4 L409.4 410.6 L409.3 410.2 L409.3 412.3 L409.3 412.0 L409.5 413.9 L409.6 413.3 L409.6 414.3 L409.8 415.2 L409.7 418.3 L409.5 417.5 L409.5 416.1 L409.9 415.4 L409.9 413.0 L409.7 415.5 L410.2 414.4 L410.5 413.9 L410.7 412.0 L410.2 409.9 L411.1 410.7 L410.6 409.3 L411.0 407.5 L411.3 408.3 L411.7 408.6 L412.4 409.8 L412.8 411.3 L412.4 413.2 L413.0 412.5 L413.0 414.4 L413.2 414.7 L413.0 416.1 L413.2 416.7 L413.4 418.0 L413.9 418.4 L413.1 417.9 L413.6 421.1 L413.9 421.1 L413.6 422.9 L413.7 424.2 L414.2 424.1 L413.9 423.6 L414.0 425.0 L414.0 423.6 L414.7 422.8 L415.0 420.6 L414.8 422.5 L414.7 421.0 L415.4 420.6 L415.3 418.2 L415.2 416.7 L415.8 418.2 L415.9 415.7 L416.0 415.0 L415.6 414.7 L416.2 416.2 L416.3 416.4 L416.1 417.9 L416.3 420.3 L416.8 421.2 L416.2 420.7 L416.8 423.4 L417.0 423.2 L417.2 424.0 L417.4 422.8 L417.0 426.0 L417.5 428.0 L416.8 427.7 L417.2 428.7 L417.7 429.4 L417.5 430.0 L417.9 429.5 L417.4 431.1 L417.3 431.0 L417.7 432.8 L417.4 436.2 L417.7 434.7 L417.7 436.9 L417.5 437.9 L418.0 436.4 L417.6 439.9 L418.2 438.3 L418.4 439.3 L417.8 442.5 L417.7 442.4 L418.0 442.1 L418.6 446.0 L418.4 446.4 L418.3 446.7 L418.4 447.9 L418.7 447.8 L418.4 448.3 L418.5 450.0 L419.0 449.8 L418.6 447.6 L418.4 447.0 L419.0 445.9 L418.8 444.4 L418.9 443.9 L418.6 444.8 L418.7 442.9 L419.2 442.6 L418.9 440.1 L419.0 439.5 L419.6 440.9 L419.2 439.6 L419.1 437.4 L419.8 436.6 L419.4 434.3 L419.9 433.8 L419.6 433.3 L419.9 431.5 L420.0 432.3 L420.0 432.2 L419.7 429.6 L419.5 430.0 L420.0 428.8 L420.3 431.3 L420.0 430.5 L420.3 429.9 L420.0 433.4 L420.6 431.7 L420.8 434.1 L421.0 434.7 L420.5 437.4 L420.8 437.0 L421.1 437.6 L421.2 439.5 L421.0 438.6 L421.2 440.7 L421.4 439.5 L420.9 442.1 L421.4 444.5 L421.6 445.0 L421.5 445.0 L422.1 446.3 L421.8 445.0 L422.4 446.2 L422.1 447.3 L422.5 447.8 L423.0 450.0 L423.1 451.1 L422.8 451.7 L423.2 452.8 L423.1 452.1 L423.6 453.2 L423.8 454.2 L424.2 455.1 L423.9 458.7 L424.6 456.6 L424.5 457.5 L424.5 460.0 L424.7 460.1 L424.7 459.8 L425.6 458.3 L425.8 458.2 L425.8 455.6 L426.0 455.0 L426.0 457.2 L425.9 455.9 L426.1 456.6 L426.4 460.3 L427.1 459.0 L426.8 461.2 L426.8 459.9 L427.5 461.5 L427.7 462.9 L427.0 463.2 L427.5 465.0 L427.4 467.4 L428.1 467.8 L428.6 466.7 L428.9 468.1 L429.1 469.4 L429.0 470.0 L429.1 470.7 L429.6 468.9 L429.1 467.8 L430.0 467.0 L429.6 464.1 L430.2 462.7 L430.6 461.9 L430.5 462.5 L431.1 463.1 L430.6 465.2 L430.8 464.0 L431.3 466.5 L430.9 468.5 L431.3 466.0 L431.4 469.5 L431.6 470.8 L431.8 471.0 L432.0 470.0 L431.3 473.0 L431.9 472.0 L432.3 473.4 L432.0 475.0 L432.1 473.3 L432.6 473.2 L432.7 471.6 L432.5 472.3 L432.9 472.2 L432.7 470.6 L432.5 467.0 L432.5 468.4 L432.8 467.5 L433.4 465.6 L433.4 466.5 L433.3 464.1 L433.8 465.2 L433.5 462.5 L433.2 463.8 L433.3 465.8 L434.0 463.7 L434.2 464.9 L433.7 467.7 L434.6 469.4 L434.7 469.3 L434.3 470.8 L434.9 471.8 L434.2 472.2 L434.9 471.8 L434.5 472.7 L434.6 473.9 L435.0 475.0 L434.8 475.8 L435.1 477.7 L435.2 479.5 L435.9 479.2 L436.1 478.5 L436.2 480.8 L436.3 480.4 L436.5 482.5 L436.7 484.7 L436.6 483.3 L436.5 486.7 L437.1 486.1 L436.7 486.8 L437.6 486.5 L437.3 488.7 L437.2 489.6 L438.0 489.1 L437.6 492.6 L438.0 492.5 L437.9 492.6 L438.5 493.5 L438.8 496.0 L439.4 497.2 L438.8 496.9 L439.5 497.5 L439.8 497.0 L440.2 498.0 L439.7 498.6 L440.2 503.1 L440.5 502.4 L440.5 501.7 L441.0 503.6 L441.0 505.0 L441.3 507.0 L441.1 505.6 L441.0 509.2 L441.5 508.0 L441.0 511.3 L441.5 511.0 L441.9 511.3 L441.8 510.5 L442.0 512.2 L441.8 514.6 L442.2 513.4 L442.1 516.4 L442.6 517.4 L442.4 516.4 L442.1 519.4 L442.2 520.6 L442.5 520.0 L442.7 522.7 L443.1 523.7 L442.8 523.9 L443.1 523.6 L443.0 525.8 L443.0 527.1 L443.1 526.6 L443.5 527.5 L443.4 527.1 L443.8 527.5 L443.7 530.6 L443.9 532.1 L443.6 532.6 L443.7 532.1 L444.5 532.3 L444.4 533.1 L444.6 534.9 L444.5 536.2 L444.9 536.7 L445.1 536.2 L445.2 533.1 L444.7 533.6 L445.0 531.0 L444.7 532.1 L445.4 531.3 L445.2 529.3 L445.3 527.5 L445.4 527.9 L445.9 527.0 L445.3 523.7 L445.5 526.0 L445.8 524.6 L446.0 522.5 L445.7 520.6 L446.3 520.4 L445.9 518.1 L446.8 518.1 L446.3 519.0 L446.6 516.8 L446.6 517.0 L446.9 514.8 L446.9 513.5 L447.1 514.5 L447.0 511.0 L447.0 512.1 L447.4 510.5 L447.5 510.0 L447.4 510.4 L447.4 513.2 L447.5 514.3 L448.1 513.8 L448.3 514.2 L448.2 516.9 L448.2 514.7 L448.7 518.7 L448.6 519.1 L449.0 518.4 L449.0 520.0 L449.5 519.4 L449.1 516.9 L449.7 518.0 L449.7 516.3 L449.7 514.1 L449.8 514.0 L449.5 513.0 L450.1 512.0 L450.3 512.8 L449.7 510.7 L450.0 511.4 L450.3 510.1 L450.0 508.2 L450.5 507.5 L450.9 505.6 L451.1 505.5 L450.9 505.9 L450.6 505.7 L451.2 502.6 L451.7 500.4 L451.5 499.8 L451.5 499.4 L451.5 499.2 L452.0 497.2 L452.0 497.5 L451.8 497.1 L452.1 497.5 L452.4 493.8 L452.8 493.4 L452.7 494.6 L453.4 492.4 L453.5 491.2 L453.6 489.4 L454.3 489.3 L454.1 489.6 L454.2 486.0 L454.5 488.0 L454.9 485.5 L455.0 485.0 L455.4 482.4 L455.2 484.0 L456.1 482.2 L456.0 480.8 L456.3 480.2 L456.5 480.0 L456.5 478.6 L457.0 479.7 L456.9 479.1 L457.1 476.1 L457.3 476.7 L457.3 475.1 L457.6 473.6 L458.0 472.5 L458.1 473.1 L458.4 472.3 L458.6 469.1 L458.9 470.4 L459.0 469.0 L458.8 467.3 L459.4 467.2 L459.5 465.0 L459.4 466.5 L459.6 467.8 L460.1 467.1 L459.9 469.7 L459.9 470.9 L460.2 470.1 L460.0 473.0 L459.9 472.1 L460.3 471.6 L460.1 475.5 L460.4 475.0 L460.0 474.2 L460.3 476.0 L460.3 477.3 L460.2 480.3 L459.9 478.3 L460.4 481.9 L460.0 481.4 L460.5 482.5 L460.1 481.9 L460.2 485.8 L460.6 484.6 L460.5 486.5 L460.9 487.7 L460.5 489.9 L460.5 488.2 L460.7 489.1 L461.3 489.0 L461.2 490.9 L461.3 493.8 L461.2 491.7 L461.3 495.8 L461.2 495.8 L461.3 497.5 L461.3 496.7 L461.1 498.0 L461.7 499.7 L461.5 500.0 L461.1 499.7 L461.9 497.8 L461.7 495.9 L461.8 497.1 L461.4 494.9 L461.6 495.4 L461.9 494.1 L461.6 493.6 L462.3 493.7 L461.8 492.4 L462.1 490.9 L462.4 490.0 L462.7 488.0 L462.3 487.2 L462.1 487.3 L462.3 487.1 L462.2 486.2 L462.7 482.4 L462.6 481.9 L462.9 480.9 L462.9 482.0 L462.4 478.8 L462.5 479.6 L463.0 479.2 L463.0 477.5 L463.4 478.3 L463.5 476.4 L463.2 474.9 L463.6 472.4 L463.7 473.8 L463.7 472.4 L463.7 473.0 L464.3 469.2 L464.4 470.7 L464.1 470.7 L464.3 466.7 L464.3 467.1 L464.5 466.2 L464.4 468.2 L464.4 469.8 L465.0 468.1 L465.0 468.9 L464.8 469.9 L464.8 471.6 L465.5 473.8 L464.9 475.1 L465.2 472.6 L465.4 476.2 L465.9 477.9 L465.3 477.8 L465.2 477.6 L465.9 478.5 L465.5 479.1 L466.2 480.8 L465.6 482.2 L466.0 482.5 L465.9 483.1 L466.2 485.5 L466.7 485.0 L466.5 485.4 L466.5 488.9 L467.0 488.1 L467.1 488.2 L467.4 489.5 L467.4 490.9 L467.5 491.9 L467.5 492.5 L467.4 491.1 L467.7 490.1 L468.3 487.8 L468.2 488.8 L468.0 488.6 L468.8 485.5 L469.1 484.2 L469.0 485.0 L469.8 484.2 L469.6 484.7 L469.9 481.9 L470.3 482.7 L471.1 481.7 L471.0 480.0 L471.1 481.8 L471.1 482.7 L471.2 482.9 L471.7 485.2 L471.4 484.6 L471.5 483.7 L471.3 487.8 L471.4 488.0 L471.5 488.7 L472.0 489.1 L472.1 487.8 L471.7 490.6 L472.0 490.6 L471.8 493.2 L471.9 491.5 L472.1 494.5 L472.5 495.9 L472.4 495.2 L472.5 495.3 L472.5 497.5 L472.5 497.2 L472.6 496.5 L473.2 496.8 L473.5 495.8 L473.8 492.2 L473.7 492.9 L474.3 492.4 L474.0 491.5 L474.5 490.0 L475.4 492.4 L475.9 491.0 L475.9 493.8 L476.5 492.5 L476.5 490.5 L476.6 490.8 L477.4 489.0 L477.5 487.3 L477.8 488.0 L477.8 486.6 L477.6 485.6 L478.2 487.2 L478.5 485.0 L479.1 485.2 L478.9 486.4 L479.0 486.4 L479.5 490.2 L479.8 490.9 L479.2 489.6 L479.9 490.2 L480.0 492.5 L480.1 493.5 L480.2 495.0 L480.6 495.4 L481.1 494.5 L481.4 495.5 L481.3 498.5 L481.3 498.2 L482.0 497.8 L482.0 500.0 L482.2 500.4 L482.2 501.4 L482.8 501.5 L482.4 503.5 L482.6 506.1 L482.8 504.6 L483.6 506.8 L483.5 507.5 L484.1 506.6 L484.3 509.9 L484.2 509.7 L484.3 509.3 L484.6 513.1 L485.0 512.5 L485.4 513.1 L484.9 512.3 L485.7 509.5 L485.3 508.1 L485.7 506.1 L485.6 507.2 L486.1 505.2 L486.3 504.0 L486.2 505.7 L486.4 502.0 L486.5 502.5 L486.3 502.6 L486.8 505.1 L486.6 504.3 L487.3 506.9 L487.1 506.4 L487.1 506.8 L487.1 509.1 L487.4 510.0 L487.1 508.8 L487.3 511.1 L487.8 512.5 L488.1 513.7 L488.1 514.5 L488.0 515.0 L488.4 512.6 L488.3 514.8 L488.4 513.6 L488.1 511.2 L488.7 510.5 L489.0 510.8 L489.2 508.8 L488.4 507.4 L489.0 506.7 L488.8 507.1 L489.4 503.4 L489.6 503.1 L489.1 503.6 L489.5 502.5 L490.0 501.7 L490.4 499.8 L489.9 498.3 L490.5 499.5 L491.0 498.7 L490.4 496.4 L490.9 496.8 L491.2 495.4 L491.5 495.0 L491.6 495.6 L492.1 493.9 L492.7 491.5 L492.5 490.5 L493.1 489.4 L493.1 490.4 L493.5 488.8 L493.7 488.2 L493.8 489.9 L493.5 492.0 L494.4 490.5 L493.9 494.5 L494.3 492.9 L494.4 496.1 L494.3 497.5 L494.5 498.2 L495.0 497.5 L495.6 498.7 L495.8 500.0 L496.1 499.4 L495.7 502.4 L496.5 502.7 L496.2 501.4 L496.6 504.4 L496.7 505.8 L497.0 505.0 L497.0 504.0 L497.8 502.5 L498.1 501.6 L498.1 502.8 L497.8 500.1 L498.5 500.0 L498.9 499.4 L499.1 503.5 L499.2 501.8 L498.8 503.3 L499.3 506.0 L499.0 506.0 L499.0 504.8 L499.1 506.2 L499.3 508.3 L499.9 507.8 L499.2 509.3 L499.8 508.9 L499.9 509.8 L500.0 512.5 L500.1 511.6 L500.2 514.8 L500.6 514.2 L500.7 518.0 L500.9 518.7 L500.6 517.5 L501.0 518.6 L500.6 518.6 L500.9 520.6 L500.9 523.5 L501.0 520.7 L500.8 524.9 L501.4 524.5 L501.2 526.6 L501.5 526.2 L502.0 525.7 L501.8 526.2 L501.9 522.9 L502.1 523.5 L501.9 522.3 L502.0 521.6 L501.8 518.8 L502.0 519.1 L502.2 517.2 L502.4 516.6 L502.6 518.0 L502.6 515.4 L503.1 514.5 L502.9 513.5 L503.0 512.5 L502.9 511.0 L502.9 509.6 L503.0 509.0 L503.6 508.6 L503.9 506.6 L504.0 507.0 L504.3 506.0 L503.8 506.0 L504.1 504.6 L504.3 504.5 L504.2 501.6 L504.4 503.6 L505.2 499.9 L505.0 500.0 L505.2 499.1 L505.7 501.4 L506.2 503.6 L505.6 502.6 L505.8 503.1 L506.5 505.0 L506.7 503.2 L506.4 504.7 L507.3 501.4 L507.0 501.7 L506.8 498.8 L507.4 498.5 L507.5 497.0 L507.1 498.9 L507.6 496.0 L508.1 496.3 L508.0 495.0 L508.1 494.7 L508.5 492.5 L508.9 492.0 L508.8 491.4 L508.9 490.9 L509.3 489.3 L509.8 488.8 L509.5 487.5 L510.2 487.2 L511.1 490.1 L511.5 488.8 L512.1 488.3 L513.0 487.5 L513.1 487.2 L513.2 489.0 L513.4 489.3 L513.2 491.4 L513.9 492.6 L513.6 491.8 L513.9 492.1 L514.0 495.4 L514.3 496.0 L514.0 494.9 L514.5 497.5 L515.0 498.4 L514.7 500.1 L514.6 499.3 L515.3 501.7 L514.8 501.6 L515.5 502.1 L515.4 504.9 L515.5 506.2 L515.5 503.9 L516.0 508.1 L516.0 507.5 L515.9 506.8 L516.3 508.9 L516.8 508.4 L516.3 511.3 L516.7 510.3 L517.0 514.6 L517.3 515.2 L516.7 515.4 L517.3 515.0 L517.1 516.3 L517.5 517.5 L518.0 516.8 L517.7 520.0 L518.4 520.1 L518.3 519.8 L518.8 521.0 L519.0 524.1 L518.8 523.4 L518.8 524.1 L519.6 527.4 L519.7 528.5 L519.5 527.5 L519.7 526.6 L519.6 527.3 L520.0 526.4 L519.7 523.1 L519.6 523.8 L519.8 521.3 L520.5 519.8 L520.5 522.3 L520.5 519.6 L520.3 519.4 L520.1 517.9 L520.4 515.9 L520.8 515.5 L520.5 514.2 L521.1 515.7 L521.2 515.0 L521.0 512.5 L521.5 512.0 L522.3 515.0 L522.5 513.3 L523.0 515.0 L522.7 516.2 L523.5 515.8 L523.4 518.4 L523.6 518.9 L523.3 519.0 L524.1 521.4 L524.2 521.1 L524.3 523.5 L524.6 524.4 L524.8 522.3 L524.5 525.0 L525.0 525.7 L524.6 527.6 L524.9 527.8 L525.4 529.2 L525.5 528.7 L526.0 530.0 L526.3 532.1 L526.6 531.1 L526.8 531.6 L527.0 534.1 L527.4 535.1 L527.1 536.4 L527.4 536.9 L527.5 537.5 L527.4 535.8 L528.0 536.9 L527.9 536.6 L527.8 534.0 L528.1 533.9 L528.3 533.9 L527.9 530.9 L528.5 528.7 L528.2 529.3 L528.4 527.0 L528.3 529.3 L528.8 527.8 L528.7 526.6 L528.9 524.2 L529.2 524.6 L528.8 523.4 L529.0 522.5 L529.9 524.7 L530.5 523.8 L530.8 524.0 L530.5 524.2 L530.8 527.8 L530.7 528.4 L530.8 528.0 L531.3 530.1 L531.2 529.4 L531.2 529.6 L531.4 532.3 L531.6 530.9 L532.2 533.1 L531.8 533.7 L532.0 535.0 L532.4 537.7 L532.3 536.7 L532.2 536.8 L532.9 538.6 L532.9 538.2 L533.2 539.4 L533.5 541.0 L533.5 542.5 L533.6 544.4 L533.5 543.7 L534.1 543.9 L533.8 547.0 L534.7 548.5 L534.5 547.5 L534.6 546.1 L534.5 546.4 L534.9 544.3 L534.7 543.9 L534.5 543.3 L534.7 542.0 L535.0 540.0 L535.1 541.1 L535.3 539.5 L535.6 538.3 L534.8 536.6 L535.5 537.0 L535.3 535.4 L535.5 535.0 L535.4 533.5 L536.1 534.3 L536.0 531.4 L535.7 531.2 L536.2 531.3 L536.7 531.4 L536.2 530.2 L536.9 526.2 L536.9 525.3 L537.0 524.7 L537.0 525.0 L536.8 522.4 L537.4 524.5 L538.0 522.0 L537.5 522.3 L537.8 521.1 L538.0 519.2 L538.1 517.4 L538.5 517.5 L538.4 515.7 L538.8 517.0 L539.3 514.9 L538.9 514.4 L539.8 514.5 L539.5 513.2 L539.9 512.2 L540.0 510.0 L540.1 507.3 L540.4 508.9 L540.8 508.9 L541.2 507.5 L541.3 504.7 L541.4 502.5 L541.3 501.9 L541.5 502.5 L541.3 501.4 L542.2 501.2 L541.9 498.8 L542.4 500.0 L542.4 496.2 L542.6 498.8 L543.0 496.2 L543.1 496.3 L543.6 499.5 L543.6 498.4 L543.2 498.0 L543.9 500.1 L543.5 500.1 L543.8 503.7 L543.8 501.6 L544.2 502.5 L544.5 505.0 L544.8 506.2 L544.8 506.0 L545.0 507.1 L545.2 507.2 L545.6 507.6 L545.4 509.3 L545.4 510.2 L545.7 511.4 L546.0 514.2 L545.8 515.9 L546.0 515.0 L546.0 514.3 L546.3 512.4 L546.0 514.1 L546.4 512.3 L546.5 510.8 L546.8 510.4 L546.9 507.9 L546.7 505.8 L546.9 508.4 L547.5 505.5 L547.5 505.0 L548.0 504.1 L548.2 505.7 L548.0 507.5 L547.7 509.0 L548.4 509.6 L548.5 511.6 L548.1 512.0 L548.6 511.9 L549.0 511.4 L548.9 512.6 L549.0 515.0 L548.8 513.2 L549.4 514.9 L549.5 513.2 L549.9 511.6 L549.6 508.8 L549.9 508.5 L550.3 508.2 L549.9 506.7 L550.4 508.4 L550.2 505.6 L550.5 505.0 L550.4 505.0 L550.6 504.0 L550.7 503.4 L551.6 502.8 L551.1 498.5 L551.9 500.9 L552.1 497.6 L552.0 497.5 L552.3 497.0 L552.9 496.5 L553.5 495.0 L554.1 492.8 L553.8 494.2 L554.4 492.2 L554.3 491.2 L555.2 490.9 L555.0 490.0 L555.0 489.3 L555.9 491.6 L555.3 494.4 L555.7 493.9 L555.9 493.1 L556.5 495.0 L557.4 495.8 L557.4 498.4 L558.0 497.5 L558.4 499.8 L558.9 497.5 L559.2 499.1 L559.4 499.4 L559.3 501.7 L559.5 502.5 L559.7 502.1 L560.1 505.2 L560.3 506.8 L560.2 507.4 L560.8 507.6 L561.0 507.5 L561.1 509.8 L561.7 509.0 L561.6 509.1 L562.0 512.1 L561.7 511.6 L562.3 513.5 L562.5 512.3 L563.1 512.8 L563.0 515.0 L563.8 517.0 L563.4 517.3 L564.4 517.2 L564.2 516.4 L564.4 517.8 L565.0 520.0 L565.5 519.9 L566.1 519.9 L565.9 522.0 L566.6 521.5 L567.0 523.8 L567.1 522.3 L567.1 520.4 L566.9 521.0 L567.7 520.1 L567.2 519.5 L567.2 518.7 L567.3 516.0 L567.5 516.5 L567.6 514.7 L567.7 516.1 L568.4 514.3 L568.3 512.6 L568.6 511.2 L568.0 511.6 L568.5 510.0 L568.6 509.8 L569.0 508.1 L569.8 507.1 L570.0 506.2 L570.0 508.0 L570.2 506.3 L570.4 510.4 L570.7 510.2 L571.0 511.1 L570.9 513.2 L570.5 513.5 L571.1 512.3 L571.4 514.3 L571.0 515.9 L571.4 514.5 L571.4 515.2 L571.5 517.5 L571.6 517.6 L572.0 520.0 L571.7 520.8 L572.4 522.7 L572.5 523.7 L573.0 523.7 L572.9 525.0 L573.0 525.0 L572.9 524.1 L574.0 527.5 L573.7 527.1 L574.6 528.1 L574.3 530.1 L575.0 530.0 L575.1 529.7 L575.4 532.6 L575.9 534.0 L576.3 532.2 L577.0 532.8 L577.0 535.0 L577.1 532.3 L577.0 532.7 L578.0 531.1 L577.7 532.6 L578.3 531.7 L578.3 530.7 L578.3 528.7 L578.5 527.5 L578.7 529.2 L578.5 531.1 L579.1 531.7 L579.4 530.9 L579.1 531.2 L579.7 533.2 L579.8 532.9 L580.0 535.4 L579.9 534.9 L580.2 538.1 L580.0 537.5 L580.5 537.4 L580.5 536.3 L580.7 533.8 L581.3 536.0 L580.9 531.6 L581.6 531.5 L581.8 530.5 L581.6 529.7 L582.0 530.0 L581.9 530.9 L582.2 528.5 L582.3 528.3 L582.6 527.1 L582.9 527.3 L582.9 525.3 L583.5 523.8 L583.7 526.3 L584.0 527.1 L584.1 524.7 L583.7 526.8 L584.2 529.6 L583.8 528.4 L583.9 530.4 L584.0 529.7 L584.8 530.3 L585.1 531.5 L585.0 532.4 L585.0 535.0 L585.0 535.0 L584.9 536.3 L585.8 538.0 L585.3 537.7 L585.6 536.9 L585.8 541.2 L586.2 539.4 L586.7 539.4 L586.4 543.1 L587.2 541.1 L587.0 543.8 L587.4 544.1 L587.7 540.9 L587.0 541.7 L587.8 542.1 L588.1 538.2 L588.0 538.9 L587.8 535.8 L587.8 537.9 L588.0 534.7 L588.5 535.0 L588.4 534.5 L588.9 534.4 L589.5 533.6 L589.1 533.5 L589.9 530.3 L590.2 529.4 L590.2 528.5 L590.5 527.4 L590.5 527.5 L590.6 525.7 L591.2 526.5 L590.8 523.3 L591.5 522.7 L591.6 523.5 L591.4 523.0 L591.4 520.9 L592.0 520.0 L592.3 518.5 L592.6 517.2 L592.5 516.1 L592.5 516.9 L592.8 515.9 L592.8 512.7 L593.6 514.0 L593.5 512.5 L594.0 514.1 L594.1 515.0 L594.1 516.6 L593.9 516.4 L594.1 516.2 L594.5 516.6 L594.9 518.3 L595.0 520.0 L594.9 520.4 L595.6 519.7 L595.5 516.2 L595.2 515.4 L595.5 514.6 L595.5 512.9 L596.4 515.0 L595.8 514.4 L596.7 510.3 L596.5 511.2 L596.5 511.6 L596.8 513.8 L596.6 513.2 L597.3 513.3 L596.8 517.2 L597.4 515.4 L597.5 516.5 L597.5 518.3 L597.8 517.7 L598.0 520.0 L597.8 520.3 L598.6 518.4 L598.3 517.6 L598.9 518.1 L598.6 517.5 L598.9 514.7 L599.2 515.2 L599.2 513.2 L599.2 513.6 L599.5 511.2 L599.3 510.7 L599.4 512.0 L599.9 515.7 L599.9 515.8 L599.8 515.7 L600.1 517.9 L600.5 516.9 L600.9 519.6 L600.5 519.0 L600.6 521.1 L600.7 519.6 L600.7 520.9 L601.0 522.5 L601.4 522.9 L601.8 521.7 L602.8 519.2 L603.0 520.0 L603.4 520.1 L603.1 518.5 L603.9 517.2 L603.8 517.3 L603.6 515.8 L604.4 512.7 L604.1 511.6 L604.5 512.5 L604.9 513.0 L605.3 514.9 L605.0 516.6 L605.2 514.9 L605.4 516.0 L606.0 517.5 L606.2 518.4 L605.8 515.7 L606.0 516.4 L606.1 515.0 L606.1 512.2 L606.3 512.3 L606.8 511.6 L606.4 509.4 L606.7 509.6 L606.8 508.5 L606.6 506.5 L607.2 507.8 L607.3 506.7 L607.0 505.2 L607.4 505.8 L607.2 503.2 L607.5 502.5 L608.7 501.4 L609.0 501.2 L609.5 501.8 L609.5 501.7 L609.3 503.2 L609.7 504.3 L609.9 506.5 L609.8 508.2 L610.3 509.2 L610.5 508.8 L610.6 509.0 L611.2 506.1 L611.2 506.6 L611.3 505.3 L611.5 506.1 L611.3 505.3 L611.9 501.9 L612.0 503.0 L611.8 500.6 L612.0 500.0 L612.1 500.9 L612.4 497.1 L612.9 496.8 L613.3 496.2 L613.5 494.1 L614.0 495.0 L613.8 494.1 L614.7 493.1 L615.0 492.8 L614.7 492.6 L614.5 488.5 L615.4 489.7 L615.0 487.8 L615.5 487.5 L615.7 487.6 L615.4 485.7 L616.0 485.1 L616.4 484.8 L616.5 481.6 L616.2 481.6 L616.7 480.9 L616.2 480.4 L616.4 479.6 L616.5 477.0 L617.0 478.0 L617.3 478.4 L617.3 477.9 L617.9 482.2 L618.2 483.4 L618.5 482.5 L618.7 485.1 L618.2 483.9 L619.0 483.8 L618.6 486.7 L619.0 485.7 L618.7 489.5 L619.0 490.6 L618.8 488.5 L619.5 491.3 L619.0 490.3 L619.0 491.0 L619.3 492.2 L619.6 493.1 L619.5 495.0 L619.5 494.9 L619.6 496.6 L619.7 496.1 L620.4 496.9 L620.4 498.0 L620.7 502.1 L620.7 500.8 L621.0 502.5 L621.0 501.3 L621.1 498.9 L621.3 498.3 L621.4 498.1 L621.7 498.3 L622.3 496.9 L622.5 495.9 L622.5 495.0 L622.6 497.0 L622.4 495.7 L622.8 498.5 L622.7 497.8 L623.5 498.3 L623.6 500.3 L623.2 502.7 L623.9 501.2 L623.8 502.2 L623.8 505.7 L624.0 505.0 L624.6 505.7 L624.8 508.3 L624.3 508.6 L624.3 507.0 L625.0 511.3 L625.5 512.1 L625.7 510.6 L625.5 512.5 L625.5 512.5 L626.4 513.3 L626.1 516.7 L626.8 515.8 L627.1 517.8 L627.0 517.5 L627.0 517.8 L627.9 519.2 L628.1 520.4 L628.0 519.7 L628.3 523.3 L628.5 522.5 L629.0 522.7 L629.0 520.4 L629.0 520.4 L629.5 518.8 L629.9 519.3 L629.8 516.4 L630.1 516.1 L630.0 515.0 L630.1 514.9 L630.4 515.8 L629.8 518.4 L630.0 517.0 L630.7 519.8 L630.2 519.7 L630.7 521.5 L630.5 521.8 L630.6 522.4 L630.8 525.0 L631.0 525.5 L630.9 524.6 L631.5 527.1 L630.9 528.9 L631.0 527.3 L631.3 527.9 L631.5 530.0 L632.0 529.9 L631.5 528.5 L631.6 526.8 L632.1 525.5 L631.9 525.5 L632.7 523.7 L632.5 524.1 L632.4 522.1 L632.3 522.8 L633.3 521.5 L633.0 520.0 L632.7 519.6 L633.5 516.4 L633.3 516.1 L633.7 516.9 L633.8 514.6 L633.8 516.1 L634.1 513.2 L634.3 514.1 L634.5 513.4 L634.1 512.6 L634.5 510.0 L634.4 509.7 L634.6 506.7 L634.7 509.0 L635.4 505.6 L635.4 507.3 L635.6 504.0 L635.0 502.0 L635.4 501.1 L636.1 500.8 L636.2 500.7 L636.0 500.0 L636.0 499.0 L635.8 497.6 L636.7 497.1 L636.8 498.2 L636.4 493.9 L636.2 495.8 L636.4 492.0 L636.9 491.1 L637.3 492.6 L637.1 489.2 L637.0 490.0 L636.8 492.0 L637.7 490.2 L637.0 493.8 L637.7 492.4 L637.6 493.3 L637.5 494.1 L638.0 496.3 L637.6 498.6 L637.8 497.6 L638.1 499.3 L638.5 500.0 L639.1 500.3 L639.0 502.4 L638.8 503.2 L639.7 504.5 L639.7 503.1 L639.4 505.0 L640.1 507.2 L640.0 507.5 L639.8 507.1 L639.9 509.3 L640.7 510.2 L640.2 509.3 L640.1 510.8 L640.8 513.2 L640.6 513.6 L640.9 515.4 L640.5 517.3 L641.1 515.2 L641.1 517.7 L641.1 516.9 L640.6 517.7 L641.0 520.0 L641.1 517.6 L641.5 517.8 L641.5 518.9 L641.7 516.5 L641.7 514.9 L641.9 512.5 L642.6 514.3 L642.5 512.5 L642.6 514.1 L642.4 513.9 L643.3 514.2 L642.8 516.4 L643.0 517.1 L643.1 517.1 L643.6 518.5 L643.2 521.1 L643.2 520.4 L643.2 523.1 L643.2 522.3 L643.7 523.1 L643.6 522.3 L644.0 525.0 L644.1 525.9 L643.9 526.1 L644.3 527.1 L644.6 527.1 L644.7 528.5 L644.4 531.3 L645.1 531.4 L645.3 533.8 L645.4 534.5 L645.6 533.0 L645.5 535.0 L645.5 536.9 L645.2 538.4 L645.5 539.2 L645.9 538.7 L645.7 538.2 L645.3 538.5 L645.5 543.0 L645.4 541.9 L645.8 544.7 L645.7 545.3 L645.7 544.7 L646.1 546.1 L646.0 546.9 L646.4 546.8 L645.7 546.6 L646.5 549.9 L645.9 551.5 L646.1 552.8 L646.3 552.2 L646.6 553.3 L646.1 555.3 L646.1 556.1 L646.0 556.2 L646.2 557.0 L646.5 559.2 L646.8 557.8 L646.7 557.6 L646.5 560.0 L646.1 561.5 L646.2 561.6 L646.3 564.6 L646.7 564.1 L647.1 563.1 L646.8 565.7 L646.5 565.4 L646.4 566.5 L646.9 567.0 L647.1 568.6 L646.7 568.5 L647.1 570.9 L646.8 571.0 L646.9 571.2 L647.4 573.0 L647.0 573.4 L646.9 576.2 L647.6 574.4 L647.1 578.7 L647.3 577.2 L647.6 577.8 L647.6 581.3 L647.7 580.3 L647.2 583.3 L647.5 582.5 L647.7 582.3 L648.8 582.7 L649.0 580.0 L649.4 578.7 L648.9 577.4 L649.0 577.3 L649.9 576.2 L649.5 575.7 L649.9 573.5 L650.3 573.7 L650.1 571.5 L650.1 571.6 L650.3 569.7 L650.5 570.0 L650.3 571.1 L650.8 570.9 L650.9 575.0 L650.5 572.8 L651.0 574.6 L651.3 573.5 L651.3 577.0 L651.7 578.5 L651.2 575.9 L652.0 579.2 L652.0 580.0 L651.8 581.1 L652.6 580.9 L652.5 582.0 L652.8 581.9 L652.2 584.1 L653.0 585.0 L653.5 585.0 L653.9 585.4 L654.1 585.7 L653.6 583.3 L654.0 580.1 L653.6 580.0 L653.9 577.5 L654.2 579.6 L653.6 575.8 L653.5 577.4 L654.5 577.8 L653.8 575.5 L654.5 574.3 L654.4 572.2 L654.7 572.6 L654.5 572.6 L654.8 570.5 L654.6 569.9 L654.0 567.4 L654.5 567.5 L654.2 566.9 L654.3 568.2 L654.5 566.9 L654.9 562.3 L655.4 562.1 L654.4 562.8 L654.5 560.3 L655.1 560.3 L655.4 558.5 L655.6 558.3 L655.0 558.6 L654.8 558.5 L654.9 554.5 L655.5 555.0 L655.6 556.5 L656.3 555.0 L656.3 550.2 L656.2 548.9 L655.9 552.1 L656.5 551.7 L656.0 548.7 L655.8 546.1 L656.5 547.2 L656.6 544.4 L656.4 543.0 L656.4 545.2 L656.5 543.5 L657.0 542.5 L657.2 545.3 L658.5 546.4 L658.5 545.0 L658.4 548.3 L658.3 547.8 L659.1 550.2 L658.6 546.2 L659.0 547.5 L659.7 552.7 L659.8 550.5 L659.6 549.7 L659.2 552.6 L660.1 556.3 L660.0 555.0 L660.4 556.7 L660.1 554.0 L661.2 552.4 L661.2 552.0 L661.1 550.6 L661.5 550.0 L661.3 548.4 L661.3 550.2 L662.2 550.4 L662.3 556.2 L661.8 556.3 L662.2 557.3 L662.1 558.2 L662.6 556.2 L662.4 556.7 L663.2 560.3 L663.0 560.0 L663.3 563.4 L663.2 561.1 L663.5 563.3 L663.6 565.9 L663.6 567.1 L663.2 565.3 L663.9 565.6 L664.0 567.5 L664.0 564.1 L663.9 563.7 L664.8 566.8 L664.5 561.9 L664.0 563.0 L664.7 561.1 L664.8 560.9 L665.0 558.1 L664.6 560.0 L665.6 558.9 L665.3 559.7 L665.6 556.9 L665.6 555.7 L665.5 555.0 L665.8 553.5 L666.1 554.5 L666.1 553.0 L666.7 550.9 L666.7 550.6 L667.0 550.0 L666.9 548.4 L667.8 548.8 L667.7 545.6 L667.9 546.4 L667.8 546.2 L668.0 541.8 L668.5 543.5 L668.5 542.5 L668.9 543.9 L668.8 541.6 L668.8 541.5 L669.5 541.2 L670.0 538.1 L670.0 537.5 L670.8 536.8 L669.9 533.7 L670.3 535.3 L671.5 532.5 L670.8 533.2 L671.0 531.4 L671.5 531.2 L671.3 530.9 L672.2 535.5 L671.7 533.2 L672.8 537.3 L673.0 533.6 L673.4 536.9 L673.0 537.5 L673.1 538.1 L673.5 536.8 L674.0 539.0 L674.2 539.8 L674.3 541.3 L674.6 544.2 L674.1 544.5 L674.5 545.0 L674.3 544.7 L674.5 544.8 L675.3 546.8 L675.0 546.1 L674.8 549.6 L675.0 551.5 L675.1 552.6 L675.4 554.2 L675.3 551.1 L675.4 552.6 L676.0 555.0 L676.8 555.0 L676.2 556.2 L676.1 559.1 L677.2 556.6 L676.5 558.8 L677.4 559.0 L677.2 564.0 L677.5 562.5 L678.0 564.4 L678.3 562.6 L679.0 565.0 L678.8 565.1 L678.7 568.3 L679.6 567.1 L680.0 566.1 L679.7 570.1 L679.3 568.8 L680.3 573.0 L680.2 569.6 L679.5 571.5 L679.6 574.4 L680.6 576.6 L679.9 574.6 L680.7 576.7 L680.5 577.5 L680.9 576.0 L680.6 577.3 L680.3 578.4 L680.7 581.1 L681.6 584.0 L681.2 583.9 L681.1 584.3 L681.5 584.3 L681.5 584.9 L682.2 588.0 L682.2 588.2 L681.4 586.9 L682.0 588.8 L682.1 586.4 L682.6 588.4 L682.8 588.3 L682.1 584.2 L682.5 584.3 L683.4 585.4 L683.4 582.8 L683.2 582.9 L683.9 580.6 L683.5 580.0 L683.8 582.4 L683.6 584.2 L684.3 583.9 L684.1 582.4 L685.2 584.6 L685.0 585.0 L685.6 582.4 L684.8 585.8 L685.2 582.6 L684.8 580.6 L685.9 579.4 L686.0 581.5 L685.5 578.9 L685.5 575.7 L686.3 577.5 L685.9 574.0 L686.4 573.0 L686.1 573.0 L685.6 574.3 L686.0 572.6 L686.0 570.2 L686.4 568.7 L686.3 572.6 L686.4 568.7 L686.7 566.5 L686.5 567.5 L686.2 567.6 L686.4 565.0 L686.5 565.7 L686.7 565.7 L687.1 564.6 L687.9 562.0 L688.3 563.2 L688.0 560.0 L688.8 557.4 L688.6 558.0 L689.5 557.5 L690.3 556.5 L690.2 553.3 L690.7 555.2 L690.2 554.0 L690.3 555.2 L691.0 552.5 L691.3 552.6 L691.6 548.5 L692.5 550.0 L692.3 552.7 L692.6 553.8 L692.7 554.7 L693.5 554.2 L694.3 554.7 L694.0 555.0 L694.8 554.5 L694.7 557.2 L695.2 556.5 L694.7 559.9 L695.4 558.2 L695.7 560.9 L695.6 563.6 L695.5 562.5 L695.4 564.5 L696.3 565.9 L695.7 562.9 L696.2 563.8 L697.1 568.0 L697.0 567.5 L697.3 569.3 L697.6 571.4 L698.5 570.0 L698.6 569.5 L699.1 570.6 L699.2 574.5 L699.1 572.7 L699.2 573.6 L698.9 575.6 L699.8 578.2 L699.1 578.7 L700.0 576.8 L700.0 580.7 L700.0 580.0 L700.0 583.1 L700.1 580.3 L700.0 581.6 L700.0 585.0 L700.4 585.5 L700.4 582.8 L700.6 588.1 L700.6 588.9 L700.0 590.5 L700.2 588.4 L700.4 591.0 L700.9 591.4 L700.9 589.0 L700.5 591.5 L701.0 594.0 L701.2 592.6 L701.0 595.0 L700.5 593.7 L701.6 598.8 L701.8 600.0 L701.3 599.8 L701.3 599.6 L701.9 602.6 L701.1 600.8 L701.4 602.3 L702.0 604.5 L701.1 604.4 L701.2 604.9 L702.1 605.8 L701.7 607.4 L702.3 605.6 L701.9 610.2 L702.2 606.8 L702.0 610.0 L702.1 608.7 L702.2 607.7 L702.9 605.6 L702.9 606.8 L703.3 607.1 L703.5 605.0 L703.4 602.3 L704.1 603.5 L704.4 603.0 L704.7 600.7 L704.3 601.0 L704.9 597.7 L705.0 598.8 L705.6 601.5 L705.6 602.2 L704.9 601.9 L705.8 601.3 L705.4 602.1 L704.9 604.4 L705.2 603.0 L706.0 607.5 L705.3 604.7 L705.4 610.3 L706.0 610.2 L706.3 611.5 L706.4 608.4 L705.6 612.5 L706.0 614.6 L706.4 613.0 L706.5 614.4 L706.5 615.0 L707.2 611.9 L706.5 613.5 L706.9 612.5 L707.8 611.3 L707.3 612.2 L708.0 610.0 L708.7 609.8 L707.8 612.4 L708.0 613.2 L708.5 611.3 L708.0 612.4 L709.1 616.2 L708.9 613.9 L708.2 615.2 L708.2 615.4 L709.4 620.0 L708.6 617.2 L708.9 618.2 L708.8 620.5 L708.8 624.0 L708.9 623.9 L709.0 624.9 L709.5 625.0 L710.3 622.5 L709.8 621.9 L710.7 623.0 L709.8 621.5 L710.7 621.2 L710.5 619.8 L710.3 620.1 L711.0 617.5 L711.3 616.9 L711.8 618.0 L711.6 613.6 L711.9 614.7 L712.8 611.1 L712.5 612.5 L712.2 611.4 L712.2 608.9 L712.5 612.0 L713.6 609.3 L713.3 609.4 L713.6 606.0 L713.5 606.2 L713.2 608.8 L713.6 606.7 L714.3 609.5 L713.6 610.4 L713.6 612.0 L713.5 609.7 L714.3 613.1 L714.4 613.4 L714.1 612.9 L714.4 615.9 L715.1 616.3 L715.0 617.1 L714.8 615.9 L714.5 616.8 L715.0 620.0 L715.0 619.3 L715.8 620.0 L715.2 621.7 L715.4 621.4 L715.7 626.0 L716.0 627.5 L715.9 627.1 L716.0 629.0 L715.9 626.3 L715.8 630.6 L716.5 630.0 L716.8 629.2 L716.7 632.7 L716.7 633.5 L716.4 634.0 L717.6 634.0 L717.0 635.7 L717.8 636.9 L717.3 637.0 L717.9 639.7 L717.8 637.5 L717.5 638.8 L717.6 642.3 L717.9 643.8 L718.0 642.5 L718.1 643.6 L718.4 640.3 L719.5 640.0 L720.2 642.8 L719.9 641.7 L720.0 645.1 L719.9 642.6 L720.9 646.6 L721.1 645.5 L721.0 646.2 L721.4 647.1 L721.5 642.5 L721.4 645.6 L721.8 642.4 L721.4 640.3 L722.5 641.9 L722.2 638.1 L721.6 639.3 L722.1 636.6 L722.5 637.5 L722.2 637.6 L722.9 635.0 L723.5 636.1 L722.7 635.6 L723.3 633.3 L723.4 632.3 L723.1 630.5 L724.0 631.1 L723.9 630.3 L723.6 630.8 L724.0 627.5 L724.6 628.8 L723.8 630.2 L724.9 630.4 L724.6 629.7 L724.9 634.7 L725.2 633.4 L725.3 635.9 L725.5 635.0 L726.0 636.2 L726.1 632.8 L725.7 631.5 L726.0 631.6 L727.2 629.8 L727.0 630.0 L726.8 631.5 L727.2 626.4 L727.1 626.9 L727.3 627.8 L727.7 625.5 L727.7 625.1 L728.7 623.4 L728.5 622.5 L728.6 619.2 L729.9 618.6 L730.0 620.0 L729.9 621.8 L730.0 624.0 L730.8 622.8 L730.2 624.3 L730.6 622.3 L731.6 627.9 L730.8 625.5 L731.5 627.5 L731.3 627.3 L732.2 627.8 L732.2 626.4 L732.4 625.5 L732.3 622.5 L732.4 619.8 L732.9 621.2 L732.4 622.1 L732.6 620.8 L732.1 619.5 L732.5 616.5 L733.4 618.2 L733.0 616.2 L733.4 617.8 L732.8 618.8 L733.4 617.7 L733.3 621.2 L733.3 621.8 L733.2 620.8 L733.8 622.2 L734.3 621.6 L734.2 621.9 L734.5 624.6 L733.5 625.2 L734.1 628.2 L734.5 629.8 L734.6 628.8 L734.5 630.0 L734.4 631.8 L735.0 630.2 L734.4 633.0 L735.0 631.7 L735.3 632.2 L735.2 634.7 L735.8 637.4 L735.8 634.7 L736.0 640.4 L736.0 638.8 L735.8 640.4 L736.0 635.5 L735.9 634.6 L736.4 633.8 L736.8 635.8 L736.9 630.9 L736.4 633.1 L737.2 628.9 L736.6 628.6 L737.4 628.6 L737.6 631.0 L737.6 629.6 L736.8 626.7 L737.0 624.5 L737.5 625.0 L737.2 622.1 L737.2 622.2 L738.3 621.2 L738.1 620.0 L737.6 622.3 L738.4 620.7 L738.9 616.2 L738.1 619.3 L738.8 619.2 L738.5 616.6 L739.0 615.0 L739.4 611.7 L738.9 614.3 L739.5 609.8 L739.4 610.4 L739.8 612.4 L740.1 607.6 L740.0 609.8 L740.1 610.1 L739.7 607.6 L740.1 604.9 L740.5 605.0 L740.7 603.7 L741.1 601.1 L740.8 599.9 L740.7 601.7 L741.8 599.4 L741.5 600.6 L742.1 596.7 L742.0 597.5 L741.6 598.5 L742.3 595.2 L741.9 595.8 L742.5 595.5 L743.0 594.5 L742.8 593.0 L742.4 590.0 L743.2 589.5 L742.6 589.7 L743.0 590.4 L743.3 589.9 L743.0 587.7 L743.3 588.1 L743.3 585.6 L743.5 583.8 L743.2 584.7 L743.6 584.8 L743.4 587.6 L744.1 585.6 L744.5 587.9 L744.1 586.4 L744.6 591.5 L744.4 589.9 L743.9 591.0 L744.3 590.2 L744.4 595.2 L745.0 593.0 L745.0 595.0 L745.4 596.9 L745.3 595.7 L746.1 595.0 L745.8 597.7 L746.2 597.6 L746.5 600.0 L746.4 597.3 L746.3 596.2 L746.6 597.5 L747.4 594.4 L746.9 593.2 L746.6 593.6 L747.2 592.7 L747.1 593.8 L747.9 591.3 L747.5 591.8 L748.0 588.7 L747.5 591.5 L747.7 590.2 L748.0 587.5 L747.6 586.5 L748.1 584.3 L749.0 583.1 L748.5 586.1 L748.7 584.4 L748.8 582.3 L749.3 583.1 L749.5 580.0 L750.0 581.4 L749.8 581.9 L749.9 583.8 L749.8 584.0 L749.8 582.7 L750.4 587.9 L750.1 583.9 L750.6 587.7 L751.2 590.7 L751.2 586.9 L751.0 590.0 L752.0 593.1 L752.5 591.2 L753.1 594.2 L754.0 592.5 L754.5 594.0 L754.8 595.7 L754.6 596.7 L755.1 597.4 L755.0 599.1 L755.5 597.5 L756.4 599.0 L756.7 600.5 L757.0 600.0 L756.8 597.3 L757.6 597.3 L757.8 594.9 L757.5 594.5 L758.1 594.4 L758.8 595.8 L758.5 593.8 L758.8 591.7 L760.0 592.5 L760.2 595.3 L760.5 596.5 L760.2 593.3 L760.5 594.7 L761.1 595.9 L760.4 600.0 L761.5 601.5 L761.5 599.2 L761.5 603.0 L761.5 600.9 L761.5 602.5 L761.8 603.1 L762.0 600.7 L763.0 600.0 L763.5 599.1 L763.5 600.8 L763.7 602.4 L763.0 602.5 L763.4 605.4 L763.8 603.9 L764.4 606.3 L764.0 608.3 L764.3 607.9 L764.1 607.2 L764.5 610.0 L765.3 611.4 L764.7 612.2 L765.6 614.9 L765.3 611.9 L766.1 611.7 L766.0 615.0 L766.6 614.5 L766.7 618.0 L766.3 618.1 L766.9 616.3 L767.0 617.2 L766.7 622.0 L767.4 621.2 L767.5 622.5 L767.3 621.6 L767.5 624.9 L767.7 623.5 L768.7 628.5 L768.5 625.2 L768.1 627.7 L769.0 627.8 L769.0 630.0 L769.7 628.4 L769.1 630.7 L769.0 635.1 L769.5 631.7 L769.5 633.6 L770.4 635.9 L769.4 635.9 L770.5 636.6 L769.7 637.8 L770.0 637.8 L770.5 640.0 L770.4 640.1 L771.0 642.7 L770.5 640.4 L771.5 645.3 L770.8 646.0 L770.8 646.5 L771.1 647.3 L772.0 649.0 L772.0 648.0 L772.3 651.4 L772.0 650.0 L772.2 649.9 L772.4 647.5 L772.2 645.5 L771.9 644.3 L772.4 646.5 L773.1 643.2 L772.7 642.7 L772.3 642.9 L773.1 644.6 L772.6 643.2 L773.5 642.4 L772.7 641.7 L772.6 636.7 L773.5 635.5 L773.3 634.4 L773.7 635.1 L773.5 635.0 L774.0 631.7 L773.6 635.5 L774.4 631.7 L774.7 630.2 L774.1 632.9 L774.2 629.2 L774.7 628.7 L775.0 627.5 L775.4 630.8 L775.6 631.8 L775.2 631.9 L775.0 631.9 L776.0 631.2 L775.3 635.4 L775.6 633.7 L776.0 635.3 L776.4 634.3 L776.4 636.2 L776.8 638.5 L776.4 638.3 L776.1 640.5 L776.5 640.0 L777.0 636.8 L777.0 639.2 L776.4 638.9 L777.0 638.4 L777.0 637.9 L776.5 636.6 L777.2 632.1 L777.1 633.8 L777.8 629.8 L777.8 628.9 L777.7 628.9 L777.2 629.9 L777.3 627.6 L777.5 627.8 L777.6 627.0 L778.1 623.9 L778.0 625.0 L778.8 622.9 L778.2 622.8 L779.1 623.6 L779.2 621.0 L779.7 620.0 L778.8 619.0 L779.6 616.6 L779.5 619.0 L780.0 617.5 L780.0 618.0 L779.9 618.6 L780.6 620.5 L781.0 618.7 L780.7 620.8 L781.0 621.5 L781.1 623.4 L781.1 624.3 L781.8 623.5 L781.2 626.2 L781.5 627.5 L781.5 630.1 L781.9 630.7 L782.3 628.0 L782.1 629.7 L783.3 634.2 L783.0 632.5 L783.6 631.4 L783.1 631.5 L783.7 627.8 L784.1 627.1 L783.6 628.3 L784.7 628.3 L784.9 625.8 L784.5 625.0 L784.1 625.6 L784.6 626.6 L784.9 629.9 L784.6 631.0 L784.6 628.9 L785.6 628.1 L785.1 628.9 L786.1 631.9 L785.1 631.8 L786.1 635.1 L786.0 635.0 L786.6 632.2 L786.8 635.1 L786.5 634.0 L786.1 632.4 L786.5 631.2 L786.6 628.7 L787.3 626.5 L786.5 629.1 L786.7 626.9 L787.0 626.1 L787.5 625.0 L787.8 626.6 L788.2 623.5 L789.0 622.5 L788.6 625.5 L789.0 623.3 L789.4 626.6 L789.5 628.1 L789.9 625.2 L789.7 626.0 L790.4 629.2 L790.5 630.0 L790.3 629.4 L790.7 631.9 L791.1 632.6 L790.5 631.8 L791.5 632.3 L790.9 636.5 L791.2 635.5 L791.5 639.5 L791.2 639.3 L791.5 636.7 L792.0 640.0 L792.0 641.6 L792.6 643.7 L792.9 643.5 L792.9 646.0 L792.4 642.3 L792.8 643.5 L792.3 646.3 L792.8 645.0 L792.9 648.7 L793.2 648.8 L793.4 650.9 L792.9 650.3 L792.8 653.5 L793.5 652.5 L793.3 650.0 L794.0 651.1 L794.1 647.6 L794.5 649.1 L794.7 645.6 L794.5 645.7 L795.2 644.0 L795.0 645.0 L795.6 644.8 L795.0 643.4 L795.2 642.0 L796.4 639.6 L796.1 638.2 L796.5 640.0 L797.0 638.5 L796.2 644.4 L797.5 642.0 L796.8 642.3 L797.7 647.1 L797.5 644.9 L797.3 647.9 L797.4 644.7 L798.3 649.2 L797.8 648.8 L798.0 650.0 L798.4 650.2 L799.0 649.2 L798.2 654.9 L798.8 650.8 L799.6 652.3 L799.5 655.0 L799.7 657.8 L799.4 659.1 L799.7 656.1 L799.6 658.3 L800.3 661.7 L799.8 659.3 L800.1 660.1 L800.7 662.9 L800.0 665.4 L800.4 662.3 L800.6 667.2 L801.2 666.9 L800.7 666.4 L801.0 667.5 L801.3 669.8 L800.9 671.8 L801.3 672.5 L801.6 673.0 L802.0 672.3 L801.4 670.7 L802.1 673.7 L802.2 673.0 L801.8 673.4 L802.3 676.2 L802.6 677.4 L802.1 679.2 L802.3 679.2 L802.5 680.0 L802.6 682.9 L802.9 680.2 L804.0 681.5 L804.0 683.8 L803.8 683.9 L804.7 681.6 L804.0 683.6 L803.9 682.6 L804.4 682.0 L804.1 680.9 L805.3 678.7 L805.0 678.5 L804.7 674.2 L805.6 677.4 L805.1 672.8 L805.1 674.0 L805.5 672.5 L806.0 670.1 L805.9 668.7 L805.8 669.3 L806.2 670.9 L805.5 669.5 L806.5 668.8 L805.9 663.7 L806.8 666.6 L806.9 664.7 L806.3 661.4 L807.0 664.3 L806.9 660.3 L807.2 660.6 L807.0 660.0 L806.9 658.6 L807.5 659.5 L807.7 656.6 L807.5 655.1 L807.5 653.8 L807.3 654.1 L807.8 652.7 L808.1 651.8 L808.6 653.9 L807.9 649.8 L808.5 650.0 L809.2 647.0 L809.3 649.7 L809.1 649.6 L809.0 645.0 L810.1 645.3 L810.0 645.0 L810.9 642.8 L812.0 645.0 L811.8 643.7 L812.5 647.1 L812.2 650.0 L812.0 647.2 L812.1 647.9 L812.4 647.9 L812.9 651.6 L813.1 654.4 L812.8 651.0 L813.9 655.1 L813.5 655.0 L813.4 657.1 L813.9 655.9 L814.0 657.2 L813.9 656.5 L815.3 661.1 L815.0 660.0 L815.1 661.7 L815.1 659.3 L815.2 655.5 L816.4 655.8 L815.9 656.0 L816.5 655.0 L816.7 655.8 L816.8 655.3 L817.0 660.0 L817.5 661.3 L817.9 657.8 L817.6 661.6 L818.0 659.9 L818.0 662.5 L818.2 660.1 L818.4 659.0 L818.9 662.4 L819.1 659.2 L819.4 659.1 L819.5 657.5 L819.3 657.3 L820.3 659.9 L819.9 662.2 L820.2 660.1 L820.2 659.7 L820.9 664.4 L820.1 661.7 L820.7 664.7 L820.3 668.1 L820.8 664.7 L821.0 667.5 L820.5 668.1 L821.4 665.1 L820.9 664.4 L821.7 661.7 L821.5 663.1 L821.8 663.2 L821.5 660.8 L821.2 662.6 L821.7 661.0 L821.6 658.8 L821.7 660.1 L821.5 656.0 L822.5 658.1 L821.8 652.8 L821.8 653.2 L822.8 653.4 L822.5 652.5 L822.6 654.5 L822.5 656.8 L822.5 654.2 L822.9 656.6 L823.0 655.0 L823.6 660.3 L823.7 659.4 L823.4 659.6 L823.1 661.6 L823.6 661.9 L823.7 661.3 L824.0 661.5 L823.8 662.1 L824.0 665.0 L824.2 661.8 L824.6 661.1 L824.7 659.8 L825.0 660.4 L824.1 659.6 L824.3 660.5 L824.7 660.4 L825.0 656.6 L824.7 655.5 L824.8 653.9 L824.8 653.7 L825.2 653.8 L825.5 653.9 L825.5 652.5 L826.0 652.5 L826.7 650.5 L826.4 647.8 L827.0 648.8 L827.7 647.1 L827.3 652.5 L827.7 653.2 L828.3 654.6 L827.8 652.3 L828.8 653.7 L828.5 655.0 L828.6 654.0 L828.9 650.9 L829.2 654.7 L830.0 653.2 L830.0 653.1 L830.0 650.0 L829.9 650.9 L830.7 654.2 L830.0 654.1 L831.0 654.5 L830.7 652.8 L830.8 655.4 L830.9 654.5 L831.5 657.5 L831.1 656.4 L831.7 657.2 L831.6 653.6 L832.2 652.9 L832.1 654.1 L832.4 653.2 L832.7 652.8 L832.0 651.6 L832.3 648.5 L832.5 650.1 L833.0 647.5 L833.0 648.8 L833.5 643.9 L833.3 643.2 L833.8 643.7 L833.9 643.2 L834.5 643.8 L834.0 642.0 L834.0 640.5 L834.4 641.4 L834.5 638.8 L835.0 640.6 L835.2 641.5 L835.1 641.1 L834.9 644.2 L834.8 644.7 L835.6 642.2 L835.9 645.1 L835.1 646.2 L836.0 644.6 L835.3 646.1 L836.0 648.4 L835.3 649.5 L836.0 650.0 L836.4 650.5 L836.9 647.2 L836.9 647.2 L836.5 644.1 L837.2 646.6 L837.4 645.4 L837.7 641.0 L837.5 642.5 L837.4 640.9 L838.0 643.1 L838.2 642.9 L838.3 644.0 L838.3 645.9 L839.0 647.5 L838.6 650.0 L839.8 647.8 L840.1 649.8 L839.8 650.2 L839.8 652.3 L840.0 655.7 L840.3 655.6 L840.5 655.0 L841.1 653.3 L840.3 655.3 L841.4 652.7 L841.1 651.3 L841.0 651.5 L841.3 649.2 L842.2 650.3 L842.0 647.5 L842.5 647.8 L842.5 649.5 L842.8 648.8 L843.2 651.8 L842.6 650.6 L842.6 654.2 L843.5 655.0 L843.5 652.8 L843.1 654.3 L843.5 656.2 L843.9 654.6 L843.6 655.2 L844.2 654.6 L844.4 651.2 L844.2 652.0 L843.8 652.9 L844.6 650.0 L844.3 646.8 L844.5 648.7 L845.1 647.6 L845.0 644.7 L844.4 644.7 L845.0 645.0 L844.8 644.0 L845.1 643.1 L845.3 642.2 L845.7 644.2 L846.4 640.5 L846.5 640.0 L846.2 640.1 L846.7 640.1 L846.9 635.3 L847.0 637.3 L847.1 637.0 L847.5 635.0 L848.2 637.6 L847.2 638.5 L847.9 637.3 L847.7 638.0 L847.7 640.0 L848.2 638.7 L848.3 643.9 L848.8 644.7 L849.2 643.9 L849.2 644.5 L849.0 645.0 L849.5 645.8 L848.8 648.8 L849.0 650.1 L849.2 649.5 L849.9 651.0 L850.5 648.7 L850.8 650.2 L850.5 652.5 L851.1 651.1 L851.8 650.5 L852.0 650.0 L852.3 650.1 L852.3 650.3 L852.5 650.5 L853.2 652.2 L852.8 652.3 L853.5 655.0 L854.2 656.6 L854.9 651.2 L855.0 652.5 L855.3 654.8 L855.4 656.8 L855.0 653.4 L855.7 654.1 L856.3 657.5 L855.6 655.9 L856.1 657.0 L856.5 660.0 L857.1 661.4 L857.1 656.0 L856.9 655.8 L857.2 655.7 L857.4 654.8 L858.0 655.0 L858.2 655.1 L858.5 657.1 L857.8 656.6 L858.3 659.0 L858.6 658.0 L858.9 662.8 L858.4 662.5 L859.3 662.5 L859.5 665.1 L859.9 661.8 L859.5 665.0 L860.1 663.3 L860.5 666.5 L860.5 669.8 L860.7 666.2 L860.7 667.2 L861.0 670.0 L860.9 669.0 L861.3 669.5 L861.1 670.6 L861.3 675.1 L862.1 675.0 L862.2 676.2 L861.6 678.6 L862.7 675.6 L862.0 680.4 L861.9 681.3 L862.5 680.0 L863.1 677.7 L863.3 676.3 L863.0 677.5 L863.5 677.0 L863.4 677.4 L863.6 680.7 L863.2 683.1 L864.4 683.3 L863.8 683.2 L864.2 685.6 L864.5 685.0 L865.1 684.6 L865.4 688.0 L864.7 687.5 L865.6 685.9 L865.9 686.8 L866.0 690.0 L866.5 687.2 L866.5 685.7 L867.0 685.8 L866.6 686.2 L866.4 687.3 L866.6 687.0 L866.7 681.2 L867.2 682.0 L867.7 679.6 L867.7 682.4 L867.5 680.0 L867.2 681.7 L868.4 679.3 L868.1 675.8 L869.0 675.1 L869.1 675.7 L869.0 675.0 L869.6 674.5 L869.8 677.9 L870.5 677.5 L870.2 675.4 L870.8 676.4 L870.9 673.3 L870.9 673.0 L871.2 673.5 L871.6 670.7 L872.0 671.2 L872.4 674.7 L872.7 671.5 L872.2 676.2 L872.8 676.3 L873.2 675.9 L873.1 677.4 L873.0 679.6 L872.6 676.2 L873.3 680.3 L873.5 680.0 L874.2 682.9 L873.4 680.5 L873.3 683.1 L873.5 681.6 L874.1 683.5 L874.5 683.9 L874.9 687.7 L874.9 687.5 L875.0 689.7 L875.0 688.1 L875.0 690.0 L874.8 690.8 L874.6 687.5 L874.8 687.9 L875.0 686.2 L875.9 683.6 L876.1 683.8 L875.7 685.1 L875.9 682.9 L875.4 683.7 L875.6 681.4 L875.6 678.7 L876.6 680.9 L875.8 678.2 L876.0 676.0 L876.8 676.1 L876.4 676.0 L876.5 675.0 L876.2 676.6 L876.5 676.1 L876.4 675.5 L876.8 679.0 L876.2 678.3 L876.4 680.8 L877.4 678.8 L877.4 683.5 L877.2 682.2 L877.1 685.9 L876.7 682.6 L877.0 685.3 L876.7 687.2 L876.6 686.3 L876.7 688.1 L876.6 688.2 L876.9 692.2 L877.4 691.4 L877.4 689.9 L877.1 694.8 L877.7 694.8 L877.5 695.0 L877.7 696.3 L878.5 696.9 L878.9 697.5 L879.0 698.8 L879.5 699.2 L879.0 696.6 L879.4 694.4 L879.3 695.5 L879.6 693.3 L879.9 693.6 L880.5 692.5 L880.2 695.1 L881.2 693.6 L880.9 697.0 L881.7 698.6 L881.2 697.5 L881.9 696.5 L882.0 696.8 L882.0 700.0 L882.1 697.8 L882.9 698.9 L883.5 697.5 L883.3 696.1 L883.8 700.8 L884.3 701.6 L884.2 698.5 L884.3 702.5 L885.4 700.9 L885.0 703.8 L885.3 702.0 L885.9 701.7 L884.9 699.7 L885.8 701.0 L885.3 701.1 L885.9 696.8 L885.6 696.5 L885.7 694.9 L885.9 695.5 L886.5 695.0 L886.5 693.4 L887.7 697.7 L888.0 697.5 L888.6 695.8 L888.3 693.3 L888.1 697.1 L888.8 692.1 L888.6 692.3 L889.6 693.9 L889.5 691.2 L889.6 692.6 L889.9 693.4 L889.8 694.4 L890.3 696.6 L890.5 694.6 L890.6 698.3 L890.9 696.9 L891.0 698.8 L890.8 698.8 L891.3 699.0 L891.7 695.6 L891.5 696.5 L892.1 692.6 L892.2 690.9 L892.5 692.5 L892.4 691.4 L893.5 693.5 L893.0 695.6 L893.5 696.6 L893.7 694.1 L894.0 697.5 L894.4 697.7 L893.6 698.2 L894.1 694.9 L894.7 693.7 L894.4 692.8 L894.9 693.6 L894.6 691.8 L894.5 688.4 L895.0 688.0 L894.3 689.6 L895.3 688.3 L894.8 688.8 L895.0 685.4 L895.6 684.8 L895.6 686.2 L894.7 686.1 L895.1 684.9 L895.5 680.5 L895.1 680.3 L895.5 680.0 L895.3 681.5 L895.7 676.0 L896.4 678.9 L896.1 676.0 L896.8 673.4 L896.3 675.7 L897.3 674.3 L897.0 672.5 L897.2 670.9 L898.1 672.1 L898.5 670.0 L898.2 670.3 L899.2 670.8 L899.2 670.9 L899.3 674.7 L900.0 672.2 L900.0 675.0 L900.4 675.1 L900.3 675.5 L900.7 672.6 L900.8 673.5 L901.1 669.5 L901.5 670.0 L902.0 672.6 L902.3 670.2 L901.9 675.3 L902.5 675.3 L902.1 675.3 L903.1 673.0 L903.2 675.7 L903.0 677.5 L903.6 680.2 L903.7 680.5 L904.2 681.8 L904.3 683.3 L904.6 681.0 L903.9 680.7 L904.5 683.8 L904.9 684.7 L905.0 684.2 L905.2 678.7 L906.0 680.0 L906.5 681.1 L906.4 677.8 L906.8 674.9 L906.1 675.3 L906.5 675.5 L906.9 674.6 L907.1 672.1 L906.7 671.9 L907.3 674.0 L907.4 672.3 L907.0 669.8 L907.7 669.4 L907.6 666.7 L907.5 667.5 L908.2 666.5 L908.3 666.8 L907.9 664.3 L907.7 662.6 L907.8 662.0 L908.4 662.7 L908.8 662.4 L908.6 662.7 L908.8 659.9 L908.7 658.3 L909.0 657.5 L909.0 657.4 L909.3 659.4 L909.8 660.6 L909.8 663.8 L909.7 664.7 L910.2 663.7 L910.3 663.8 L910.5 665.0 L911.2 664.5 L911.1 664.6 L910.7 667.6 L911.6 667.6 L911.3 668.7 L911.5 670.0 L911.5 671.7 L911.0 670.2 L911.1 674.0 L911.6 674.2 L912.0 675.0 L911.9 675.3 L911.9 670.8 L912.6 671.4 L912.9 672.4 L912.7 672.8 L913.0 667.2 L913.1 667.9 L913.0 666.0 L913.4 665.5 L913.2 668.2 L913.5 665.0 L913.7 664.1 L913.5 664.6 L913.9 661.1 L913.8 660.4 L913.9 661.1 L913.7 662.0 L913.9 657.2 L914.5 659.8 L913.7 654.5 L914.5 654.5 L913.8 656.0 L914.8 655.6 L914.2 654.8 L914.2 653.9 L914.1 653.6 L914.4 649.9 L915.0 651.2 L914.8 648.8 L914.9 646.6 L915.1 644.5 L914.9 648.3 L915.0 645.0 L915.2 645.7 L915.7 646.1 L915.2 646.2 L915.6 649.5 L915.0 648.4 L915.1 651.3 L915.0 652.9 L916.1 654.0 L916.3 653.0 L916.1 655.3 L915.5 653.5 L915.6 653.6 L916.4 657.4 L916.1 659.7 L916.8 657.5 L917.0 660.6 L916.5 660.0 L917.1 656.5 L917.0 657.7 L916.8 655.8 L917.0 657.7 L916.3 656.5 L916.4 656.7 L917.1 655.3 L916.7 653.4 L917.4 653.3 L917.7 649.6 L917.7 649.6 L917.2 647.7 L916.8 646.7 L917.0 645.4 L917.5 646.5 L918.1 643.4 L917.7 645.2 L917.6 642.5 L917.7 644.9 L918.4 641.8 L918.4 640.4 L918.0 640.0 L918.3 636.9 L917.9 636.3 L918.7 635.2 L918.7 638.5 L918.0 635.6 L919.0 634.8 L918.0 635.0 L919.2 635.5 L918.2 632.5 L919.0 632.3 L918.9 627.7 L918.5 626.9 L919.5 629.5 L918.8 626.7 L919.0 625.6 L919.1 626.2 L919.5 625.0 L919.3 626.3 L920.4 621.9 L920.1 622.2 L920.7 621.1 L921.1 622.4 L921.8 620.0 L922.2 619.6 L921.9 618.0 L922.2 617.6 L923.3 615.8 L923.7 614.7 L923.5 614.9 L923.1 614.7 L924.0 615.1 L923.5 618.8 L923.7 617.9 L923.7 619.7 L924.2 620.0 L923.7 620.3 L924.3 622.4 L924.2 621.1 L924.4 624.7 L924.9 625.0 L924.4 624.4 L925.0 625.1 L925.0 627.4 L924.6 628.5 L924.6 629.5 L925.0 629.7 L924.7 631.5 L925.1 631.5 L925.2 631.4 L924.8 630.0 L924.8 628.8 L925.5 628.2 L925.2 626.5 L925.4 626.3 L925.7 626.5 L925.3 624.7 L925.6 621.7 L925.7 621.4 L925.9 621.8 L925.6 619.0 L925.5 619.0 L926.0 617.8 L925.8 617.5 L925.8 615.5 L925.4 616.2 L925.9 614.9 L925.6 613.4 L925.3 613.2 L925.6 613.7 L925.2 612.6 L926.0 611.1 L925.5 609.2 L925.3 608.8 L925.9 606.7 L925.4 607.1 L925.7 605.6 L925.1 605.5 L925.2 603.3 L925.2 601.5 L925.4 600.8 L925.0 600.6 L924.9 599.3 L925.1 599.3 L925.7 597.5 L925.6 597.4 L926.2 596.1 L925.6 596.1 L925.7 595.5 L926.6 595.6 L926.5 592.3 L927.1 593.6 L927.0 591.5 L927.1 591.5 L927.2 588.7 L926.7 589.0 L927.1 586.4 L927.0 588.2 L926.8 586.4 L927.6 586.2 L927.4 583.5 L927.2 584.0 L926.8 583.5 L926.9 580.7 L927.5 581.5 L927.5 578.7 L927.4 578.6 L927.4 577.4 L927.2 577.0 L927.4 575.9 L927.1 574.5 L927.8 574.5 L927.6 572.4 L927.3 572.0 L927.2 570.1 L927.3 571.4 L927.8 569.0 L927.9 567.9 L927.6 567.9 L928.0 567.6 L927.8 567.6 L928.1 566.2 L927.6 564.7 L928.0 562.9 L927.7 561.2 L927.8 562.8 L928.0 561.1 L928.2 560.1 L928.3 558.4 L928.4 558.3 L928.8 556.7 L928.0 556.4 L928.1 556.4 L928.7 555.5 L928.5 555.1 L928.8 553.7 L928.6 553.0 L928.7 552.3 L928.4 549.8 L929.0 550.3 L929.0 548.0 L928.8 548.4 L928.4 546.0 L928.8 545.0 L928.3 544.6 L928.9 542.7 L928.3 541.9 L928.2 542.1 L928.4 540.8 L928.7 541.4 L928.7 539.3 L929.0 536.9 L928.2 538.9 L929.0 536.8 L929.2 536.8 L929.1 536.1 L929.3 532.7 L928.9 534.5 L928.6 533.3 L928.4 530.9 L929.3 530.2 L928.8 530.0 L928.6 527.9 L928.7 527.3 L929.0 526.6 L929.0 525.4 L928.9 524.6 L929.3 523.9 L929.0 524.3 L928.8 523.0 L929.0 521.2 L928.8 521.0 L929.3 521.8 L929.3 525.2 L928.8 523.9 L929.3 526.5 L929.7 525.4 L929.7 528.2 L929.6 529.9 L929.8 530.6 L929.3 529.0 L929.6 531.1 L929.3 530.7 L930.0 533.6 L930.0 533.6 L930.0 535.7 L929.6 534.4 L930.0 536.8 L929.4 538.2 L929.3 538.6 L929.4 538.4 L929.5 539.9 L930.0 540.7 L929.8 542.2 L929.7 543.5 L929.5 545.0 L929.8 543.0 L930.1 545.3 L929.4 544.7 L929.6 546.3 L929.8 549.0 L929.5 548.1 L929.6 550.7 L929.4 549.5 L929.4 550.1 L929.2 551.7 L929.8 553.0 L929.4 554.4 L929.2 552.2 L929.7 551.5 L930.5 551.7 L930.0 551.8 L930.5 549.0 L930.4 550.4 L930.9 548.5 L930.8 550.3 L931.3 551.8 L931.2 550.2 L930.7 552.4 L931.2 553.0 L930.9 553.8 L930.3 554.7 L930.4 556.5 L930.3 557.8 L930.5 557.6 L930.9 558.9 L931.0 560.0 L930.3 561.6 L930.7 560.1 L930.6 563.2 L930.7 561.8 L930.2 563.0 L930.6 565.5 L930.2 566.5 L930.2 565.8 L930.5 568.3 L930.5 568.0 L930.2 567.5 L930.6 566.0 L930.5 566.0 L930.7 566.0 L931.0 563.5 L930.6 562.1 L931.6 560.2 L931.4 562.3 L931.0 558.7 L931.0 558.4 L931.3 557.5 L932.0 556.6 L932.2 556.4 L931.4 554.7 L931.9 554.4 L932.2 556.1 L931.8 557.2 L931.6 558.1 L932.2 558.7 L932.2 559.1 L932.0 559.7 L932.3 560.7 L932.0 562.7 L932.1 562.7 L932.5 562.4 L932.7 562.8 L932.0 563.8 L932.3 567.0 L932.4 566.4 L932.6 569.4 L932.9 568.4 L932.1 569.0 L932.8 571.4 L932.5 572.5 L932.3 573.1 L933.1 572.7 L933.1 575.4 L932.9 575.4 L932.6 575.7 L933.0 578.4 L932.5 579.4 L933.3 578.6 L932.9 579.8 L933.2 580.2 L932.7 579.2 L932.5 577.7 L932.4 576.0 L932.6 575.0 L933.1 574.1 L933.4 574.0 L932.8 573.9 L932.9 571.1 L933.4 570.0 L933.2 570.8 L932.9 569.4 L933.3 567.3 L933.6 565.8 L932.8 565.1 L933.5 566.2 L933.6 563.3 L932.8 563.6 L932.9 562.8 L933.3 562.2 L933.6 561.9 L933.4 561.1 L933.6 559.8 L933.2 559.2 L933.7 558.7 L933.3 556.3 L933.0 556.3 L933.4 558.5 L933.4 558.8 L933.4 559.0 L933.7 561.1 L933.1 562.3 L933.6 561.6 L933.4 564.3 L933.4 565.1 L934.1 564.6 L934.1 565.1 L933.3 567.1 L933.9 567.8 L933.8 567.6 L933.9 569.6 L933.9 571.9 L933.8 572.7 L933.7 573.1 L934.4 573.5 L933.7 575.1 L933.9 575.7 L934.2 575.9 L934.1 578.2 L934.0 578.7 L934.5 580.0 L934.9 578.4 L934.8 581.1 L934.4 580.8 L935.0 582.4 L935.0 583.6 L934.8 583.7 L934.8 581.4 L934.9 581.2 L935.0 581.5 L934.7 578.4 L934.9 578.4 L934.7 577.5 L935.0 576.4 L934.8 577.6 L935.2 577.0 L935.5 575.9 L935.6 574.5 L935.3 571.8 L934.9 571.4 L935.4 570.3 L934.9 568.9 L935.6 570.3 L935.0 566.8 L935.4 565.8 L935.0 568.0 L935.3 565.8 L935.5 565.4 L935.0 564.5 L935.8 564.4 L935.0 560.7 L935.8 562.0 L936.0 559.7 L935.6 559.6 L935.6 558.3 L935.6 557.7 L935.6 559.7 L936.1 560.5 L935.3 561.4 L936.1 561.9 L935.7 563.7 L936.3 565.7 L935.5 565.1 L935.5 565.7 L936.2 568.4 L936.1 567.5 L936.5 570.0 L936.0 568.8 L936.0 571.2 L936.1 571.7 L936.3 572.2 L936.0 573.0 L936.5 574.0 L936.3 574.0 L936.7 575.2 L936.2 575.3 L936.4 577.8 L936.6 578.4 L936.7 575.2 L936.1 575.1 L936.0 573.0 L936.4 572.7 L936.9 574.0 L936.7 571.8 L936.9 571.1 L936.8 569.4 L936.4 568.0 L936.6 567.3 L936.8 566.5 L936.5 564.8 L937.0 565.7 L936.7 565.4 L936.3 564.0 L937.0 564.1 L936.4 562.8 L936.6 560.7 L937.1 561.2 L937.4 558.1 L936.5 557.4 L936.9 557.6 L936.5 558.0 L937.2 556.9 L936.7 554.2 L936.6 554.5 L936.6 552.3 L937.6 551.6 L937.2 552.3 L937.3 550.8 L937.5 550.3 L937.2 548.5 L937.7 550.9 L937.7 549.8 L936.9 550.4 L936.9 552.6 L937.8 554.2 L937.1 554.8 L937.0 554.8 L937.8 555.5 L937.1 555.5 L937.4 556.9 L937.4 557.8 L937.7 557.8 L937.7 560.0 L938.1 560.4 L937.8 562.7 L938.1 562.4 L937.7 563.4 L937.4 564.7 L937.4 565.4 L938.2 567.6 L937.6 566.0 L938.0 568.0 L938.0 567.7 L937.9 566.0 L938.0 564.5 L937.6 563.0 L937.6 562.7 L937.8 561.8 L938.3 561.3 L938.4 562.5 L938.3 561.0 L938.4 559.9 L938.2 556.6 L938.5 556.1 L938.3 556.0 L938.9 554.4 L938.1 553.9 L938.3 553.3 L938.7 551.8 L938.0 551.7 L938.2 552.5 L939.1 551.3 L938.9 549.4 L938.4 546.8 L938.9 548.4 L938.7 546.6 L938.5 546.2 L939.1 547.0 L938.7 549.7 L938.9 550.3 L939.0 550.2 L939.2 550.3 L938.7 554.2 L939.1 553.4 L939.4 555.1 L939.4 554.8 L939.4 555.8 L939.3 557.1 L938.9 559.3 L939.1 558.9 L939.6 558.4 L939.0 559.7 L939.7 560.3 L939.3 563.0 L939.3 563.2 L939.5 564.1 L939.1 563.2 L940.1 561.6 L939.9 560.8 L939.7 560.9 L939.9 559.9 L940.1 558.9 L939.6 557.1 L940.2 556.7 L939.4 555.9 L940.4 554.8 L940.1 553.0 L940.1 552.4 L939.9 553.1 L940.1 550.2 L939.7 551.9 L940.0 548.8 L940.3 548.5 L940.8 547.5 L940.8 546.8 L940.9 544.7 L941.1 544.6 L940.9 544.5 L941.6 541.3 L941.7 542.0 L941.1 541.4 L941.7 539.2 L941.4 540.2 L941.2 536.9 L941.0 537.3 L941.4 536.6 L941.5 534.8 L941.9 536.3 L941.4 535.0 L941.6 532.2 L941.4 533.6 L942.1 530.0 L941.8 528.9 L941.9 531.1 L941.7 527.1 L942.1 528.6 L941.9 525.6 L941.7 525.9 L942.0 525.1 L941.9 524.8 L942.7 526.6 L942.7 527.2 L942.4 527.1 L942.1 528.4 L942.8 529.8 L942.5 531.7 L943.0 532.9 L943.0 534.3 L943.2 532.7 L943.0 534.9 L943.4 535.4 L942.7 533.6 L943.1 533.4 L943.6 532.1 L942.7 529.5 L943.6 531.0 L943.2 527.3 L943.4 528.9 L943.8 527.0 L943.3 524.5 L943.9 524.0 L943.2 524.5 L943.9 524.5 L944.0 522.4 L943.7 520.7 L943.3 522.3 L944.0 520.4 L943.4 520.1 L943.3 517.7 L944.1 517.2 L944.2 515.6 L943.8 515.4 L943.8 515.5 L944.2 517.7 L943.8 519.5 L944.2 518.6 L944.3 520.8 L944.4 520.0 L944.2 522.5 L944.4 522.0 L944.4 522.0 L944.5 524.0 L944.1 525.5 L944.3 525.5 L944.1 525.8 L944.1 528.3 L944.4 530.1 L944.1 529.1 L944.4 529.9 L944.3 530.3 L945.0 533.8 L945.1 534.6 L945.1 534.8 L944.6 535.5 L944.9 534.9 L944.8 536.8 L945.3 537.4 L944.8 536.6 L945.4 534.8 L945.3 534.0 L945.0 533.6 L944.8 532.7 L945.0 531.7 L945.4 528.8 L945.2 529.8 L944.9 527.9 L945.3 528.2 L945.5 526.7 L945.5 523.8 L944.9 525.5 L945.7 522.1 L945.4 521.9 L945.0 523.1 L944.9 520.8 L945.8 521.1 L945.7 518.9 L945.8 517.1 L945.8 518.3 L945.4 514.9 L945.9 516.0 L945.8 514.6 L945.7 513.6 L945.4 512.2 L945.8 513.1 L945.8 511.1 L945.6 511.4 L945.8 512.3 L945.8 512.6 L945.8 514.1 L945.5 515.1 L945.8 517.6 L946.4 518.1 L945.9 517.8 L946.5 519.6 L946.3 520.0 L946.0 519.6 L946.3 521.5 L946.4 522.2 L946.0 524.5 L945.9 524.4 L946.4 524.7 L946.0 527.2 L946.5 528.0 L946.0 528.9 L946.1 528.8 L946.7 530.5 L947.0 529.7 L946.4 532.7 L946.9 531.4 L947.0 532.7 L947.0 533.4 L946.8 534.5 L946.7 535.9 L946.9 534.4 L946.7 532.6 L946.9 532.7 L946.9 533.2 L946.6 532.8 L946.8 531.2 L946.8 528.6 L947.0 528.2 L947.3 527.7 L947.0 527.7 L947.2 526.7 L947.5 523.5 L947.3 525.3 L947.6 523.2 L947.3 523.8 L947.3 519.9 L947.3 519.5 L947.1 519.9 L947.4 517.2 L947.5 518.3 L948.0 517.8 L947.3 517.4 L947.6 514.9 L948.0 513.2 L948.1 514.1 L947.6 511.9 L947.3 511.5 L947.7 510.5 L947.9 510.6 L947.3 513.7 L947.8 512.7 L947.6 513.8 L947.7 514.0 L947.7 514.5 L948.3 515.4 L948.0 518.2 L948.2 518.0 L948.4 519.0 L947.8 521.5 L948.0 521.4 L947.9 523.8 L947.9 521.7 L948.4 525.5 L948.3 525.7 L948.3 526.5 L948.5 526.8 L948.8 528.6 L948.8 529.0 L948.2 528.4 L948.1 531.7 L948.3 531.1 L948.4 532.3 L948.2 534.4 L949.1 535.0 L948.7 534.9 L949.0 533.7 L948.5 533.5 L948.4 532.3 L948.4 530.7 L949.2 529.4 L949.3 529.6 L948.7 528.5 L948.8 527.7 L948.5 528.4 L948.8 525.0 L949.0 525.1 L949.2 523.0 L949.2 524.6 L949.2 521.9 L948.8 520.8 L949.1 520.1 L949.2 520.7 L948.9 520.1 L949.0 517.4 L949.1 518.1 L949.4 516.5 L949.5 515.4 L949.5 517.0 L950.0 516.5 L949.2 518.0 L949.6 519.1 L949.2 518.6 L949.9 520.7 L949.9 521.2 L950.0 521.8 L949.8 524.4 L949.8 525.7 L949.4 524.8 L950.2 525.7 L949.9 527.9 L950.1 527.8 L950.1 527.4 L949.7 530.8 L950.1 529.3 L950.0 531.9 L950.6 532.2 L950.7 534.9 L950.1 533.2 L950.7 534.4 L950.4 536.4 L950.7 535.6 L950.4 537.8 L950.2 538.4 L950.0 535.3 L950.2 536.2 L950.9 533.1 L950.5 533.8 L951.0 531.6 L950.8 531.0 L950.5 531.0 L950.6 531.2 L950.4 528.0 L950.6 526.4 L950.9 528.3 L950.5 525.6 L951.1 526.1 L950.5 523.7 L951.1 522.6 L951.0 522.4 L951.1 522.1 L950.4 520.8 L950.6 520.3 L951.0 520.0 L951.1 518.5 L951.3 518.2 L951.3 517.5 L951.2 514.4 L951.3 513.8 L951.0 513.4 L951.1 514.5 L950.8 513.9 L950.8 515.0 L951.6 518.3 L951.2 517.5 L951.5 519.2 L951.8 518.5 L951.0 519.3 L951.3 522.4 L951.5 523.0 L951.5 523.5 L951.5 525.4 L951.7 526.2 L951.3 527.5 L951.2 526.5 L951.8 526.6 L951.8 529.0 L951.6 529.8 L951.7 529.7 L952.1 533.0 L952.2 532.4 L952.2 533.3 L952.7 533.1 L952.6 535.6 L952.0 537.5 L952.2 535.7 L952.3 537.0 L953.0 538.6 L952.9 540.1 L952.8 540.7 L953.2 541.6 L952.5 543.8 L953.4 544.0 L953.0 545.4 L952.6 544.9 L952.6 545.4 L953.4 545.7 L953.0 548.0 L953.0 549.5 L952.9 551.1 L953.0 549.7 L953.7 553.0 L953.8 551.5 L953.6 551.9 L953.2 554.2 L953.2 555.5 L953.8 556.2 L954.0 556.7 L953.3 559.2 L953.2 557.9 L953.3 559.2 L953.4 560.0 L953.5 561.4 L954.1 563.8 L953.9 562.9 L953.5 562.9 L954.0 565.1 L953.6 565.3 L953.8 562.9 L953.8 561.5 L954.5 560.7 L954.3 559.9 L954.6 559.0 L954.2 560.2 L954.5 559.5 L954.3 558.4 L953.9 554.9 L954.8 556.5 L954.8 554.3 L954.2 554.9 L954.8 553.6 L954.2 552.4 L954.4 549.6 L954.6 549.4 L954.5 548.8 L954.3 547.8 L954.9 546.8 L954.7 546.6 L955.2 546.8 L954.9 549.5 L955.1 548.5 L955.4 551.3 L954.9 550.0 L955.7 550.3 L955.2 551.9 L955.2 554.4 L955.5 554.4 L955.1 554.2 L955.1 552.3 L955.4 552.7 L956.0 551.7 L955.5 548.6 L956.0 549.8 L955.5 547.7 L955.7 546.0 L956.1 546.1 L956.2 546.4 L956.0 544.5 L955.6 543.7 L956.2 541.0 L956.5 541.3 L956.0 539.8 L956.4 538.9 L956.3 538.8 L956.0 540.6 L956.6 540.2 L956.8 542.2 L956.8 541.3 L957.0 543.1 L957.1 543.1 L956.9 546.3 L956.7 544.8 L957.3 546.3 L956.9 546.6 L957.1 548.5 L957.2 547.2 L956.7 547.4 L956.8 544.9 L957.5 544.9 L957.6 544.9 L957.9 542.0 L957.2 540.6 L957.7 541.6 L957.8 540.0 L957.5 539.2 L957.7 537.9 L958.0 536.3 L957.9 535.6 L958.2 537.1 L957.7 535.8 L958.0 533.9 L957.6 535.8 L958.0 534.8 L958.8 537.2 L958.4 536.6 L958.7 537.7 L958.9 537.7 L958.3 539.5 L958.9 542.1 L959.2 542.9 L958.8 542.7 L958.9 544.7 L959.0 544.6 L959.2 542.9 L959.4 542.6 L959.5 543.1 L959.3 539.6 L958.8 539.9 L958.8 538.5 L959.1 538.9 L959.8 536.3 L959.7 535.7 L959.7 536.1 L959.3 533.3 L959.5 534.7 L959.7 532.2 L960.0 530.4 L959.8 531.0 L960.4 532.7 L960.2 532.2 L960.4 535.1 L960.6 534.4 L960.3 535.6 L960.0 536.6 L960.4 536.9 L960.5 539.0 L961.0 538.5 L960.3 538.6 L961.2 540.3 L960.8 541.7 L960.7 540.7 L960.6 540.9 L960.5 539.9 L961.4 538.3 L960.8 537.4 L961.4 535.3 L961.6 534.5 L960.8 534.1 L961.5 534.1 L960.8 533.0 L961.4 531.2 L961.0 532.0 L961.3 529.5 L961.5 529.2 L961.6 527.3 L961.2 527.1 L961.5 525.5 L961.8 525.1 L961.7 525.3 L961.7 526.2 L961.7 528.5 L961.6 530.2 L962.3 529.0 L961.9 531.1 L962.4 530.8 L962.5 532.0 L962.0 534.7 L962.1 534.8 L962.8 535.4 L962.9 536.5 L962.3 536.5 L962.5 538.1 L962.4 538.9 L962.7 539.8 L962.9 537.9 L962.6 536.7 L963.1 535.7 L962.7 535.0 L963.0 536.4 L962.9 534.2 L963.4 533.5 L962.8 532.1 L963.4 530.6 L963.7 530.6 L963.6 528.9 L963.2 528.5 L963.3 528.7 L963.5 527.1 L963.5 527.1 L963.2 528.7 L963.6 531.4 L963.3 530.3 L963.5 530.5 L963.9 531.2 L964.2 533.9 L964.2 533.6 L963.5 536.1 L963.7 535.2 L964.3 538.3 L963.9 536.6 L964.3 537.8 L964.7 539.6 L964.3 540.7 L964.2 541.0 L964.5 538.3 L964.9 537.9 L965.0 536.3 L964.7 536.7 L964.7 537.1 L965.4 535.6 L965.1 533.9 L966.0 534.7 L966.0 532.9 L966.4 533.7 L966.0 535.8 L966.6 535.5 L966.1 537.5 L965.9 538.4 L966.4 538.0 L965.9 538.7 L966.6 540.4 L966.2 541.6 L966.1 540.7 L966.2 543.1 L966.7 542.9 L966.9 544.4 L966.8 544.5 L966.8 546.6 L966.6 545.4 L967.4 546.1 L966.8 545.4 L967.3 541.5 L967.0 543.4 L967.6 540.6 L967.4 540.5 L967.4 540.2 L967.5 539.6 L967.0 538.5 L967.6 536.8 L968.1 537.7 L967.9 538.6 L968.2 539.7 L967.6 539.1 L968.2 540.3 L967.6 543.8 L967.7 542.5 L968.2 544.5 L968.4 544.3 L968.1 545.8 L968.1 546.5 L967.7 546.3 L968.0 550.2 L968.8 549.2 L967.9 549.9 L968.4 551.5 L968.8 552.2 L969.4 550.5 L969.2 550.1 L969.2 547.5 L969.6 548.6 L969.8 547.4 L969.8 546.2 L969.4 544.1 L970.1 544.0 L970.1 542.4 L970.1 543.4 L969.6 540.2 L969.7 541.6 L970.2 538.2 L970.1 538.8 L970.5 538.5 L970.4 537.7 L970.8 535.7 L970.4 534.5 L970.6 533.1 L970.6 534.1 L970.2 532.2 L970.3 532.1 L970.9 531.6 L971.0 531.1 L970.9 529.0 L970.8 529.0 L971.1 528.7 L971.0 526.5 L971.3 526.6 L971.3 524.8 L971.7 524.6 L971.8 521.8 L971.3 521.2 L971.7 521.8 L971.3 519.6 L971.5 519.3 L971.6 520.3 L971.4 520.8 L972.1 520.4 L972.2 522.4 L971.4 524.2 L971.7 523.6 L971.5 524.6 L972.0 527.3 L972.1 526.3 L972.4 528.9 L971.9 529.0 L972.3 528.6 L972.3 531.0 L972.8 530.2 L972.0 528.3 L972.6 528.3 L972.3 526.5 L972.9 525.4 L972.4 525.8 L972.4 524.2 L973.0 522.2 L972.6 523.6 L973.2 521.4 L973.1 520.2 L972.7 521.4 L972.8 520.0 L972.7 519.8 L973.1 517.3 L973.3 517.2 L973.2 518.6 L972.9 521.1 L973.5 520.0 L973.4 520.9 L973.6 521.7 L973.1 524.0 L974.1 525.3 L974.0 524.7 L974.2 525.6 L973.9 527.1 L974.1 527.6 L973.8 525.0 L974.3 523.3 L974.2 524.8 L973.9 523.8 L974.1 520.2 L974.2 522.3 L974.3 520.8 L974.2 518.6 L974.1 517.1 L974.7 518.5 L974.5 516.5 L974.5 514.6 L973.9 515.6 L974.1 514.9 L974.4 512.4 L974.1 511.8 L974.9 513.8 L975.2 514.2 L974.5 516.7 L974.6 517.6 L974.6 518.2 L975.0 519.4 L975.2 519.3 L974.8 519.0 L975.2 517.5 L975.3 515.4 L974.9 517.2 L975.3 516.2 L975.8 514.8 L975.6 513.2 L975.5 513.5 L975.6 512.1 L976.1 509.6 L976.1 508.2 L975.4 509.2 L975.3 508.7 L975.8 506.6" fill="none" stroke="#FF0000" stroke-width="3.90" stroke-linejoin="round" stroke-linecap="round"/>
<rect x="52.5" y="378.5" width="929" height="164" fill="#E6F0D7" fill-opacity="0.2" stroke="#00B050" stroke-width="1"/>
<rect x="651" y="547" width="270" height="160" fill="#DDEBF7" fill-opacity="0.13" stroke="#00B0F0" stroke-width="4"/>
<g font-size="21.9" fill="#000" text-anchor="end" font-family="'Liberation Sans', sans-serif">
<text x="33.7" y="712.7" textLength="11.7" lengthAdjust="spacingAndGlyphs">0</text>
<text x="33.7" y="671.7" textLength="11.7" lengthAdjust="spacingAndGlyphs">1</text>
<text x="33.7" y="630.7" textLength="11.7" lengthAdjust="spacingAndGlyphs">2</text>
<text x="33.7" y="589.7" textLength="11.7" lengthAdjust="spacingAndGlyphs">3</text>
<text x="33.7" y="548.7" textLength="11.7" lengthAdjust="spacingAndGlyphs">4</text>
<text x="33.7" y="507.7" textLength="11.7" lengthAdjust="spacingAndGlyphs">5</text>
<text x="33.7" y="466.7" textLength="11.7" lengthAdjust="spacingAndGlyphs">6</text>
<text x="33.7" y="425.7" textLength="11.7" lengthAdjust="spacingAndGlyphs">7</text>
<text x="33.7" y="383.7" textLength="11.7" lengthAdjust="spacingAndGlyphs">8</text>
<text x="33.7" y="342.7" textLength="11.7" lengthAdjust="spacingAndGlyphs">9</text>
<text x="34.6" y="301.7" textLength="23.4" lengthAdjust="spacingAndGlyphs">10</text>
<text x="34.6" y="260.7" textLength="23.4" lengthAdjust="spacingAndGlyphs">11</text>
<text x="34.6" y="219.7" textLength="23.4" lengthAdjust="spacingAndGlyphs">12</text>
<text x="34.6" y="178.7" textLength="23.4" lengthAdjust="spacingAndGlyphs">13</text>
<text x="34.6" y="137.7" textLength="23.4" lengthAdjust="spacingAndGlyphs">14</text>
<text x="34.6" y="96.7" textLength="23.4" lengthAdjust="spacingAndGlyphs">15</text>
<text x="34.6" y="54.7" textLength="23.4" lengthAdjust="spacingAndGlyphs">16</text>
</g>
<g font-size="21.9" fill="#000" text-anchor="end" font-family="'Liberation Sans', sans-serif">
<text transform="translate(61.0 737.0) rotate(-45)" textLength="47.0" lengthAdjust="spacingAndGlyphs">1980</text>
<text transform="translate(102.0 737.0) rotate(-45)" textLength="47.0" lengthAdjust="spacingAndGlyphs">1982</text>
<text transform="translate(143.0 737.0) rotate(-45)" textLength="47.0" lengthAdjust="spacingAndGlyphs">1984</text>
<text transform="translate(184.0 737.0) rotate(-45)" textLength="47.0" lengthAdjust="spacingAndGlyphs">1986</text>
<text transform="translate(225.0 737.0) rotate(-45)" textLength="47.0" lengthAdjust="spacingAndGlyphs">1988</text>
<text transform="translate(266.0 737.0) rotate(-45)" textLength="47.0" lengthAdjust="spacingAndGlyphs">1990</text>
<text transform="translate(306.0 737.0) rotate(-45)" textLength="47.0" lengthAdjust="spacingAndGlyphs">1992</text>
<text transform="translate(347.0 737.0) rotate(-45)" textLength="47.0" lengthAdjust="spacingAndGlyphs">1994</text>
<text transform="translate(388.0 737.0) rotate(-45)" textLength="47.0" lengthAdjust="spacingAndGlyphs">1996</text>
<text transform="translate(429.0 737.0) rotate(-45)" textLength="47.0" lengthAdjust="spacingAndGlyphs">1998</text>
<text transform="translate(470.0 737.0) rotate(-45)" textLength="47.0" lengthAdjust="spacingAndGlyphs">2000</text>
<text transform="translate(511.0 737.0) rotate(-45)" textLength="47.0" lengthAdjust="spacingAndGlyphs">2002</text>
<text transform="translate(552.0 737.0) rotate(-45)" textLength="47.0" lengthAdjust="spacingAndGlyphs">2004</text>
<text transform="translate(593.0 737.0) rotate(-45)" textLength="47.0" lengthAdjust="spacingAndGlyphs">2006</text>
<text transform="translate(634.0 737.0) rotate(-45)" textLength="47.0" lengthAdjust="spacingAndGlyphs">2008</text>
<text transform="translate(675.0 737.0) rotate(-45)" textLength="47.0" lengthAdjust="spacingAndGlyphs">2010</text>
<text transform="translate(716.0 737.0) rotate(-45)" textLength="47.0" lengthAdjust="spacingAndGlyphs">2012</text>
<text transform="translate(756.0 737.0) rotate(-45)" textLength="47.0" lengthAdjust="spacingAndGlyphs">2014</text>
<text transform="translate(797.0 737.0) rotate(-45)" textLength="47.0" lengthAdjust="spacingAndGlyphs">2016</text>
<text transform="translate(838.0 737.0) rotate(-45)" textLength="47.0" lengthAdjust="spacingAndGlyphs">2018</text>
<text transform="translate(879.0 737.0) rotate(-45)" textLength="47.0" lengthAdjust="spacingAndGlyphs">2020</text>
<text transform="translate(920.0 737.0) rotate(-45)" textLength="47.0" lengthAdjust="spacingAndGlyphs">2022</text>
<text transform="translate(961.0 737.0) rotate(-45)" textLength="47.0" lengthAdjust="spacingAndGlyphs">2024</text>
</g>
<text y="28.2" font-size="29.3" font-weight="bold" fill="#000" font-family="'Liberation Sans', sans-serif">
<tspan x="34.60" textLength="38.40" lengthAdjust="spacingAndGlyphs">UK</tspan> <tspan x="81.00" textLength="103.60" lengthAdjust="spacingAndGlyphs">10-Year</tspan> <tspan x="193.60" textLength="47.30" lengthAdjust="spacingAndGlyphs">Gilt</tspan> <tspan x="250.40" textLength="65.70" lengthAdjust="spacingAndGlyphs">Yield</tspan> <tspan x="324.90" textLength="152.70" lengthAdjust="spacingAndGlyphs">Normalizes</tspan> <tspan x="486.90" textLength="64.20" lengthAdjust="spacingAndGlyphs">after</tspan> <tspan x="560.60" textLength="39.20" lengthAdjust="spacingAndGlyphs">QE</tspan> <tspan x="607.80" textLength="23.10" lengthAdjust="spacingAndGlyphs">&amp;</tspan> <tspan x="639.10" textLength="67.60" lengthAdjust="spacingAndGlyphs">ZIRP,</tspan> <tspan x="711.80" textLength="23.80" lengthAdjust="spacingAndGlyphs">%</tspan></text>
<text y="799.9" font-size="21.4" font-weight="bold" fill="#000" font-family="'Liberation Sans', sans-serif">
<tspan x="58.55" textLength="78.65" lengthAdjust="spacingAndGlyphs">Source:</tspan> <tspan x="142.00" textLength="145.60" lengthAdjust="spacingAndGlyphs">Investing.com</tspan></text>
<text y="799.9" font-size="21.4" font-weight="bold" fill="#000" font-family="'Liberation Sans', sans-serif">
<tspan x="784.50" textLength="133.00" lengthAdjust="spacingAndGlyphs">WOLFSTREET</tspan><tspan x="919.00" textLength="49.50" lengthAdjust="spacingAndGlyphs">.com</tspan></text>
<text y="450.3" font-size="30.3" font-weight="bold" fill="#00B050" font-family="'Liberation Sans', sans-serif">
<tspan x="578.30" textLength="131.10" lengthAdjust="spacingAndGlyphs">"Normal"</tspan></text>
<text y="578.3" font-size="29.8" font-weight="bold" fill="#00B0F0" font-family="'Liberation Sans', sans-serif">
<tspan x="745.30" textLength="38.10" lengthAdjust="spacingAndGlyphs">QE</tspan> <tspan x="792.20" textLength="23.00" lengthAdjust="spacingAndGlyphs">&amp;</tspan> <tspan x="823.90" textLength="61.20" lengthAdjust="spacingAndGlyphs">ZIRP</tspan></text>
</svg>
</body></html>
